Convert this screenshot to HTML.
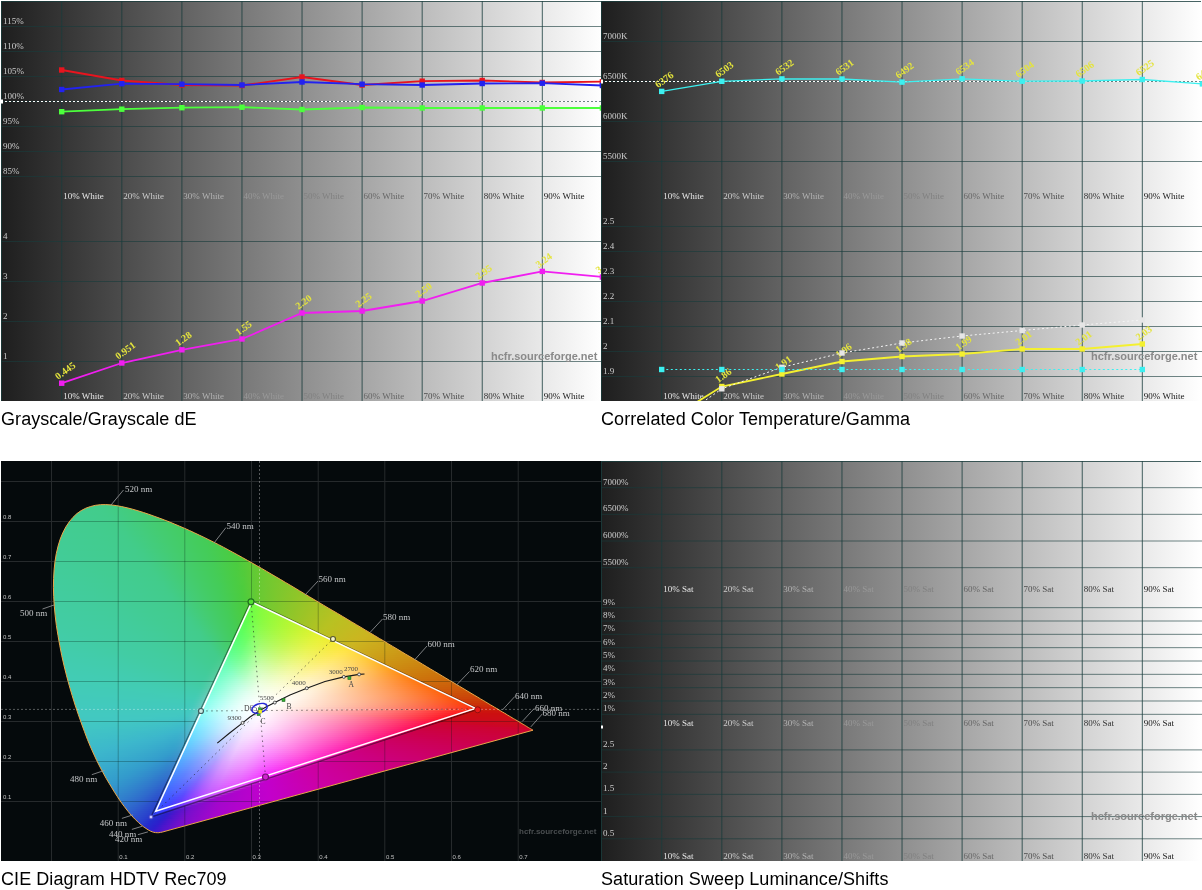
<!DOCTYPE html><html><head><meta charset="utf-8"><title>HCFR</title><style>
html,body{margin:0;padding:0;background:#fff}
body{width:1202px;height:890px;position:relative;overflow:hidden}
.ch{position:absolute;display:block}
.cap{position:absolute;font:18px 'Liberation Sans',sans-serif;color:#000;white-space:nowrap;line-height:20px;letter-spacing:0.07px}

.cie{background:#050a0c;overflow:hidden}
.lay{position:absolute;left:0;top:0;width:600px;height:400px}
.lay i{display:block;height:2px}
.cie svg{position:absolute;left:0;top:0}
</style></head><body>
<svg class="ch" style="left:1px;top:1px" width="601" height="400" viewBox="0 0 601 400" font-family="'Liberation Serif',serif" font-size="9"><defs><linearGradient id="g1" x1="0" x2="1" y1="0" y2="0"><stop offset="0" stop-color="#1e1e1e"/><stop offset="1" stop-color="#ffffff"/></linearGradient></defs><rect width="601" height="400" fill="url(#g1)"/><g fill="#193c3c" fill-opacity="0.8"><rect x="60.25" y="0" width="1" height="400"/><rect x="120.32" y="0" width="1" height="400"/><rect x="180.39" y="0" width="1" height="400"/><rect x="240.46" y="0" width="1" height="400"/><rect x="300.53" y="0" width="1" height="400"/><rect x="360.60" y="0" width="1" height="400"/><rect x="420.67" y="0" width="1" height="400"/><rect x="480.74" y="0" width="1" height="400"/><rect x="540.81" y="0" width="1" height="400"/><rect x="0" y="25.00" width="601" height="1" fill-opacity="0.62"/><rect x="0" y="50.00" width="601" height="1" fill-opacity="0.62"/><rect x="0" y="75.00" width="601" height="1" fill-opacity="0.62"/><rect x="0" y="100.00" width="601" height="1" fill-opacity="0.62"/><rect x="0" y="125.00" width="601" height="1" fill-opacity="0.62"/><rect x="0" y="150.00" width="601" height="1" fill-opacity="0.62"/><rect x="0" y="175.00" width="601" height="1" fill-opacity="0.62"/><rect x="0" y="240.00" width="601" height="1" fill-opacity="0.62"/><rect x="0" y="280.00" width="601" height="1" fill-opacity="0.62"/><rect x="0" y="320.00" width="601" height="1" fill-opacity="0.62"/><rect x="0" y="360.00" width="601" height="1" fill-opacity="0.62"/><rect x="0" y="0" width="600" height="1"/><rect x="0" y="0" width="1" height="400"/></g><line x1="0" y1="100.5" x2="600" y2="100.5" stroke="#fff" stroke-width="1" stroke-dasharray="2 2"/><rect x="0" y="98.5" width="2" height="4" fill="#fff"/><g fill="#cccccc"><text x="2" y="22.5">115%</text><text x="2" y="47.5">110%</text><text x="2" y="72.5">105%</text><text x="2" y="97.5">100%</text><text x="2" y="122.5">95%</text><text x="2" y="147.5">90%</text><text x="2" y="172.5">85%</text><text x="2" y="237.5">4</text><text x="2" y="277.5">3</text><text x="2" y="317.5">2</text><text x="2" y="357.5">1</text></g><text x="62.2" y="198" fill="#e6e6e6">10% White</text><text x="122.3" y="198" fill="#cccccc">20% White</text><text x="182.3" y="198" fill="#b2b2b2">30% White</text><text x="242.4" y="198" fill="#999999">40% White</text><text x="302.5" y="198" fill="#808080">50% White</text><text x="362.6" y="198" fill="#666666">60% White</text><text x="422.6" y="198" fill="#4d4d4d">70% White</text><text x="482.7" y="198" fill="#333333">80% White</text><text x="542.8" y="198" fill="#191919">90% White</text><text x="62.2" y="397.5" fill="#e6e6e6">10% White</text><text x="122.3" y="397.5" fill="#cccccc">20% White</text><text x="182.3" y="397.5" fill="#b2b2b2">30% White</text><text x="242.4" y="397.5" fill="#999999">40% White</text><text x="302.5" y="397.5" fill="#808080">50% White</text><text x="362.6" y="397.5" fill="#666666">60% White</text><text x="422.6" y="397.5" fill="#4d4d4d">70% White</text><text x="482.7" y="397.5" fill="#333333">80% White</text><text x="542.8" y="397.5" fill="#191919">90% White</text><polyline points="60.8,110.7 120.8,108.2 180.9,106.7 241.0,106.2 301.0,108.5 361.1,106.5 421.2,107.0 481.2,107.0 541.3,107.0 601.4,107.0" fill="none" stroke="#4cff3c" stroke-width="1.8"/><rect x="58.0" y="108.0" width="5.4" height="5.4" fill="#4cff3c"/><rect x="118.1" y="105.5" width="5.4" height="5.4" fill="#4cff3c"/><rect x="178.2" y="104.0" width="5.4" height="5.4" fill="#4cff3c"/><rect x="238.3" y="103.5" width="5.4" height="5.4" fill="#4cff3c"/><rect x="298.3" y="105.8" width="5.4" height="5.4" fill="#4cff3c"/><rect x="358.4" y="103.8" width="5.4" height="5.4" fill="#4cff3c"/><rect x="418.5" y="104.3" width="5.4" height="5.4" fill="#4cff3c"/><rect x="478.5" y="104.3" width="5.4" height="5.4" fill="#4cff3c"/><rect x="538.6" y="104.3" width="5.4" height="5.4" fill="#4cff3c"/><rect x="598.7" y="104.3" width="5.4" height="5.4" fill="#4cff3c"/><polyline points="60.8,69.0 120.8,79.5 180.9,84.0 241.0,84.5 301.0,76.0 361.1,84.0 421.2,80.2 481.2,79.5 541.3,81.5 601.4,80.7" fill="none" stroke="#e8141e" stroke-width="1.8"/><rect x="58.0" y="66.3" width="5.4" height="5.4" fill="#e8141e"/><rect x="118.1" y="76.8" width="5.4" height="5.4" fill="#e8141e"/><rect x="178.2" y="81.3" width="5.4" height="5.4" fill="#e8141e"/><rect x="238.3" y="81.8" width="5.4" height="5.4" fill="#e8141e"/><rect x="298.3" y="73.3" width="5.4" height="5.4" fill="#e8141e"/><rect x="358.4" y="81.3" width="5.4" height="5.4" fill="#e8141e"/><rect x="418.5" y="77.5" width="5.4" height="5.4" fill="#e8141e"/><rect x="478.5" y="76.8" width="5.4" height="5.4" fill="#e8141e"/><rect x="538.6" y="78.8" width="5.4" height="5.4" fill="#e8141e"/><rect x="598.7" y="78.0" width="5.4" height="5.4" fill="#e8141e"/><polyline points="60.8,88.5 120.8,82.7 180.9,83.2 241.0,84.0 301.0,81.0 361.1,83.2 421.2,84.0 481.2,82.5 541.3,82.2 601.4,84.5" fill="none" stroke="#2222f0" stroke-width="1.8"/><rect x="58.0" y="85.8" width="5.4" height="5.4" fill="#2222f0"/><rect x="118.1" y="80.0" width="5.4" height="5.4" fill="#2222f0"/><rect x="178.2" y="80.5" width="5.4" height="5.4" fill="#2222f0"/><rect x="238.3" y="81.3" width="5.4" height="5.4" fill="#2222f0"/><rect x="298.3" y="78.3" width="5.4" height="5.4" fill="#2222f0"/><rect x="358.4" y="80.5" width="5.4" height="5.4" fill="#2222f0"/><rect x="418.5" y="81.3" width="5.4" height="5.4" fill="#2222f0"/><rect x="478.5" y="79.8" width="5.4" height="5.4" fill="#2222f0"/><rect x="538.6" y="79.5" width="5.4" height="5.4" fill="#2222f0"/><rect x="598.7" y="81.8" width="5.4" height="5.4" fill="#2222f0"/><polyline points="60.8,382.2 120.8,362.0 180.9,348.8 241.0,338.0 301.0,312.0 361.1,310.0 421.2,300.0 481.2,282.0 541.3,270.4 601.4,276.0" fill="none" stroke="#f01ef0" stroke-width="1.8"/><rect x="58.0" y="379.5" width="5.4" height="5.4" fill="#f01ef0"/><rect x="118.1" y="359.3" width="5.4" height="5.4" fill="#f01ef0"/><rect x="178.2" y="346.1" width="5.4" height="5.4" fill="#f01ef0"/><rect x="238.3" y="335.3" width="5.4" height="5.4" fill="#f01ef0"/><rect x="298.3" y="309.3" width="5.4" height="5.4" fill="#f01ef0"/><rect x="358.4" y="307.3" width="5.4" height="5.4" fill="#f01ef0"/><rect x="418.5" y="297.3" width="5.4" height="5.4" fill="#f01ef0"/><rect x="478.5" y="279.3" width="5.4" height="5.4" fill="#f01ef0"/><rect x="538.6" y="267.7" width="5.4" height="5.4" fill="#f01ef0"/><rect x="598.7" y="273.3" width="5.4" height="5.4" fill="#f01ef0"/><text transform="translate(57.1,379.0) rotate(-36)" fill="#e4e43c" font-weight="bold" font-size="10">0.445</text><text transform="translate(117.2,358.8) rotate(-36)" fill="#e4e43c" font-weight="bold" font-size="10">0.951</text><text transform="translate(177.3,345.6) rotate(-36)" fill="#e4e43c" font-weight="bold" font-size="10">1.28</text><text transform="translate(237.4,334.8) rotate(-36)" fill="#e4e43c" font-weight="bold" font-size="10">1.55</text><text transform="translate(297.4,308.8) rotate(-36)" fill="#e4e43c" font-weight="bold" font-size="10">2.20</text><text transform="translate(357.5,306.8) rotate(-36)" fill="#e4e43c" font-weight="bold" font-size="10">2.25</text><text transform="translate(417.6,296.8) rotate(-36)" fill="#e4e43c" font-weight="bold" font-size="10">2.50</text><text transform="translate(477.6,278.8) rotate(-36)" fill="#e4e43c" font-weight="bold" font-size="10">2.95</text><text transform="translate(537.7,267.2) rotate(-36)" fill="#e4e43c" font-weight="bold" font-size="10">3.24</text><text transform="translate(597.8,272.8) rotate(-36)" fill="#e4e43c" font-weight="bold" font-size="10">3.10</text><text x="490" y="358.5" font-family="'Liberation Sans',sans-serif" font-weight="bold" font-size="11" fill="#8a8a8a">hcfr.sourceforge.net</text></svg>
<svg class="ch" style="left:601px;top:1px" width="601" height="400" viewBox="0 0 601 400" font-family="'Liberation Serif',serif" font-size="9"><defs><linearGradient id="g2" x1="0" x2="1" y1="0" y2="0"><stop offset="0" stop-color="#1e1e1e"/><stop offset="1" stop-color="#ffffff"/></linearGradient></defs><rect width="600" height="400" fill="url(#g2)"/><rect x="600" width="1" height="400" fill="#fff"/><g fill="#193c3c" fill-opacity="0.8"><rect x="60.25" y="0" width="1" height="400"/><rect x="120.32" y="0" width="1" height="400"/><rect x="180.39" y="0" width="1" height="400"/><rect x="240.46" y="0" width="1" height="400"/><rect x="300.53" y="0" width="1" height="400"/><rect x="360.60" y="0" width="1" height="400"/><rect x="420.67" y="0" width="1" height="400"/><rect x="480.74" y="0" width="1" height="400"/><rect x="540.81" y="0" width="1" height="400"/><rect x="0" y="40.00" width="601" height="1" fill-opacity="0.62"/><rect x="0" y="80.00" width="601" height="1" fill-opacity="0.62"/><rect x="0" y="120.00" width="601" height="1" fill-opacity="0.62"/><rect x="0" y="160.00" width="601" height="1" fill-opacity="0.62"/><rect x="0" y="225.00" width="601" height="1" fill-opacity="0.62"/><rect x="0" y="250.00" width="601" height="1" fill-opacity="0.62"/><rect x="0" y="275.00" width="601" height="1" fill-opacity="0.62"/><rect x="0" y="300.00" width="601" height="1" fill-opacity="0.62"/><rect x="0" y="325.00" width="601" height="1" fill-opacity="0.62"/><rect x="0" y="350.00" width="601" height="1" fill-opacity="0.62"/><rect x="0" y="375.00" width="601" height="1" fill-opacity="0.62"/><rect x="0" y="0" width="600" height="1"/><rect x="0" y="0" width="1" height="400"/></g><line x1="0" y1="80.5" x2="600" y2="80.5" stroke="#fff" stroke-width="1" stroke-dasharray="2 2"/><rect x="0" y="78.5" width="2" height="4" fill="#fff"/><g fill="#cccccc"><text x="2" y="37.5">7000K</text><text x="2" y="77.5">6500K</text><text x="2" y="117.5">6000K</text><text x="2" y="157.5">5500K</text><text x="2" y="222.5">2.5</text><text x="2" y="247.5">2.4</text><text x="2" y="272.5">2.3</text><text x="2" y="297.5">2.2</text><text x="2" y="322.5">2.1</text><text x="2" y="347.5">2</text><text x="2" y="372.5">1.9</text></g><text x="62.2" y="198" fill="#e6e6e6">10% White</text><text x="122.3" y="198" fill="#cccccc">20% White</text><text x="182.3" y="198" fill="#b2b2b2">30% White</text><text x="242.4" y="198" fill="#999999">40% White</text><text x="302.5" y="198" fill="#808080">50% White</text><text x="362.6" y="198" fill="#666666">60% White</text><text x="422.6" y="198" fill="#4d4d4d">70% White</text><text x="482.7" y="198" fill="#333333">80% White</text><text x="542.8" y="198" fill="#191919">90% White</text><text x="62.2" y="397.5" fill="#e6e6e6">10% White</text><text x="122.3" y="397.5" fill="#cccccc">20% White</text><text x="182.3" y="397.5" fill="#b2b2b2">30% White</text><text x="242.4" y="397.5" fill="#999999">40% White</text><text x="302.5" y="397.5" fill="#808080">50% White</text><text x="362.6" y="397.5" fill="#666666">60% White</text><text x="422.6" y="397.5" fill="#4d4d4d">70% White</text><text x="482.7" y="397.5" fill="#333333">80% White</text><text x="542.8" y="397.5" fill="#191919">90% White</text><polyline points="60.8,90.4 120.8,80.3 180.9,77.9 241.0,78.0 301.0,81.1 361.1,77.8 421.2,80.2 481.2,80.0 541.3,78.5 601.4,82.9" fill="none" stroke="#3cf0f0" stroke-width="1.3"/><rect x="58.0" y="87.7" width="5.4" height="5.4" fill="#3cf0f0"/><rect x="118.1" y="77.6" width="5.4" height="5.4" fill="#3cf0f0"/><rect x="178.2" y="75.2" width="5.4" height="5.4" fill="#3cf0f0"/><rect x="238.3" y="75.3" width="5.4" height="5.4" fill="#3cf0f0"/><rect x="298.3" y="78.4" width="5.4" height="5.4" fill="#3cf0f0"/><rect x="358.4" y="75.1" width="5.4" height="5.4" fill="#3cf0f0"/><rect x="418.5" y="77.5" width="5.4" height="5.4" fill="#3cf0f0"/><rect x="478.5" y="77.3" width="5.4" height="5.4" fill="#3cf0f0"/><rect x="538.6" y="75.8" width="5.4" height="5.4" fill="#3cf0f0"/><rect x="598.7" y="80.2" width="5.4" height="5.4" fill="#3cf0f0"/><text transform="translate(57.1,87.2) rotate(-36)" fill="#e4e43c" font-weight="bold" font-size="10">6376</text><text transform="translate(117.2,77.1) rotate(-36)" fill="#e4e43c" font-weight="bold" font-size="10">6503</text><text transform="translate(177.3,74.7) rotate(-36)" fill="#e4e43c" font-weight="bold" font-size="10">6532</text><text transform="translate(237.4,74.8) rotate(-36)" fill="#e4e43c" font-weight="bold" font-size="10">6531</text><text transform="translate(297.4,77.9) rotate(-36)" fill="#e4e43c" font-weight="bold" font-size="10">6492</text><text transform="translate(357.5,74.6) rotate(-36)" fill="#e4e43c" font-weight="bold" font-size="10">6534</text><text transform="translate(417.6,77.0) rotate(-36)" fill="#e4e43c" font-weight="bold" font-size="10">6504</text><text transform="translate(477.6,76.8) rotate(-36)" fill="#e4e43c" font-weight="bold" font-size="10">6506</text><text transform="translate(537.7,75.3) rotate(-36)" fill="#e4e43c" font-weight="bold" font-size="10">6525</text><text transform="translate(597.8,79.7) rotate(-36)" fill="#e4e43c" font-weight="bold" font-size="10">6470</text><polyline points="60.8,423.0 120.8,385.5 180.9,373.0 241.0,360.5 301.0,355.5 361.1,353.0 421.2,348.0 481.2,348.0 541.3,343.0" fill="none" stroke="#f4f030" stroke-width="1.8"/><rect x="58.0" y="420.3" width="5.4" height="5.4" fill="#f4f030"/><rect x="118.1" y="382.8" width="5.4" height="5.4" fill="#f4f030"/><rect x="178.2" y="370.3" width="5.4" height="5.4" fill="#f4f030"/><rect x="238.3" y="357.8" width="5.4" height="5.4" fill="#f4f030"/><rect x="298.3" y="352.8" width="5.4" height="5.4" fill="#f4f030"/><rect x="358.4" y="350.3" width="5.4" height="5.4" fill="#f4f030"/><rect x="418.5" y="345.3" width="5.4" height="5.4" fill="#f4f030"/><rect x="478.5" y="345.3" width="5.4" height="5.4" fill="#f4f030"/><rect x="538.6" y="340.3" width="5.4" height="5.4" fill="#f4f030"/><text transform="translate(117.2,382.3) rotate(-36)" fill="#e4e43c" font-weight="bold" font-size="10">1.86</text><text transform="translate(177.3,369.8) rotate(-36)" fill="#e4e43c" font-weight="bold" font-size="10">1.91</text><text transform="translate(237.4,357.3) rotate(-36)" fill="#e4e43c" font-weight="bold" font-size="10">1.96</text><text transform="translate(297.4,352.3) rotate(-36)" fill="#e4e43c" font-weight="bold" font-size="10">1.98</text><text transform="translate(357.5,349.8) rotate(-36)" fill="#e4e43c" font-weight="bold" font-size="10">1.99</text><text transform="translate(417.6,344.8) rotate(-36)" fill="#e4e43c" font-weight="bold" font-size="10">2.01</text><text transform="translate(477.6,344.8) rotate(-36)" fill="#e4e43c" font-weight="bold" font-size="10">2.01</text><text transform="translate(537.7,339.8) rotate(-36)" fill="#e4e43c" font-weight="bold" font-size="10">2.03</text><polyline points="60.8,430.0 120.8,387.8 180.9,366.3 241.0,352.0 301.0,342.0 361.1,335.0 421.2,329.5 481.2,324.0 541.3,319.0" fill="none" stroke="#f4f4f4" stroke-width="1" stroke-dasharray="2 2.5"/><rect x="58.0" y="427.3" width="5.4" height="5.4" fill="#e6e6e6"/><rect x="118.1" y="385.1" width="5.4" height="5.4" fill="#e6e6e6"/><rect x="178.2" y="363.6" width="5.4" height="5.4" fill="#e6e6e6"/><rect x="238.3" y="349.3" width="5.4" height="5.4" fill="#e6e6e6"/><rect x="298.3" y="339.3" width="5.4" height="5.4" fill="#e6e6e6"/><rect x="358.4" y="332.3" width="5.4" height="5.4" fill="#e6e6e6"/><rect x="418.5" y="326.8" width="5.4" height="5.4" fill="#e6e6e6"/><rect x="478.5" y="321.3" width="5.4" height="5.4" fill="#e6e6e6"/><rect x="538.6" y="316.3" width="5.4" height="5.4" fill="#e6e6e6"/><polyline points="60.8,368.5 120.8,368.5 180.9,368.5 241.0,368.5 301.0,368.5 361.1,368.5 421.2,368.5 481.2,368.5 541.3,368.5" fill="none" stroke="#3cf0f0" stroke-width="1" stroke-dasharray="2 2.5"/><rect x="58.0" y="365.8" width="5.4" height="5.4" fill="#3cf0f0"/><rect x="118.1" y="365.8" width="5.4" height="5.4" fill="#3cf0f0"/><rect x="178.2" y="365.8" width="5.4" height="5.4" fill="#3cf0f0"/><rect x="238.3" y="365.8" width="5.4" height="5.4" fill="#3cf0f0"/><rect x="298.3" y="365.8" width="5.4" height="5.4" fill="#3cf0f0"/><rect x="358.4" y="365.8" width="5.4" height="5.4" fill="#3cf0f0"/><rect x="418.5" y="365.8" width="5.4" height="5.4" fill="#3cf0f0"/><rect x="478.5" y="365.8" width="5.4" height="5.4" fill="#3cf0f0"/><rect x="538.6" y="365.8" width="5.4" height="5.4" fill="#3cf0f0"/><text x="490" y="358.5" font-family="'Liberation Sans',sans-serif" font-weight="bold" font-size="11" fill="#8a8a8a">hcfr.sourceforge.net</text></svg>
<div class="ch cie" style="left:1px;top:461px;width:600px;height:400px"><svg width="600" height="400" viewBox="0 0 600 400"><g fill="#262a2c"><rect x="50.0" y="0" width="1" height="400"/><rect x="116.7" y="0" width="1" height="400"/><rect x="183.3" y="0" width="1" height="400"/><rect x="250.0" y="0" width="1" height="400"/><rect x="316.7" y="0" width="1" height="400"/><rect x="383.3" y="0" width="1" height="400"/><rect x="450.0" y="0" width="1" height="400"/><rect x="516.7" y="0" width="1" height="400"/><rect x="0" y="340.0" width="600" height="1"/><rect x="0" y="300.0" width="600" height="1"/><rect x="0" y="260.0" width="600" height="1"/><rect x="0" y="220.0" width="600" height="1"/><rect x="0" y="180.0" width="600" height="1"/><rect x="0" y="140.0" width="600" height="1"/><rect x="0" y="100.0" width="600" height="1"/><rect x="0" y="60.0" width="600" height="1"/><rect x="0" y="20.0" width="600" height="1"/></g></svg><div class="lay" style="clip-path:polygon(161.2px 371.1px,159.5px 371.4px,157.8px 371.7px,156.2px 371.7px,154.5px 371.6px,152.8px 371.3px,151.2px 370.8px,149.6px 370.2px,148.0px 369.3px,147.0px 368.8px,146.0px 368.1px,144.9px 367.4px,143.9px 366.7px,142.7px 365.9px,141.6px 365.0px,140.3px 364.0px,139.0px 362.9px,137.6px 361.6px,136.1px 360.2px,134.4px 358.6px,132.7px 356.9px,131.0px 355.0px,129.1px 352.9px,127.2px 350.6px,125.2px 348.0px,123.1px 345.3px,120.8px 342.2px,118.5px 338.9px,116.1px 335.2px,113.5px 331.2px,110.9px 326.9px,108.1px 322.3px,105.1px 317.3px,102.1px 311.8px,99.0px 306.0px,95.8px 299.7px,92.7px 293.0px,89.5px 285.9px,86.4px 278.4px,83.4px 270.4px,80.3px 262.0px,77.2px 253.2px,74.1px 244.0px,71.2px 234.6px,68.3px 224.8px,65.6px 214.9px,63.1px 204.9px,60.8px 194.8px,58.8px 184.7px,57.0px 174.6px,55.4px 164.6px,54.2px 154.8px,53.3px 145.2px,52.7px 135.7px,52.4px 126.4px,52.6px 117.4px,53.1px 108.7px,54.0px 100.4px,55.3px 92.5px,57.1px 85.0px,59.2px 78.1px,61.8px 71.8px,64.8px 66.0px,68.2px 60.9px,71.9px 56.4px,75.9px 52.6px,80.2px 49.6px,84.8px 47.2px,89.6px 45.5px,94.5px 44.3px,99.5px 43.7px,104.7px 43.6px,110.0px 43.9px,115.3px 44.6px,120.7px 45.6px,126.1px 46.8px,131.6px 48.2px,137.0px 49.8px,142.5px 51.5px,147.8px 53.3px,153.1px 55.2px,158.4px 57.1px,163.5px 59.0px,168.6px 61.0px,173.6px 63.1px,178.6px 65.2px,183.5px 67.3px,188.5px 69.5px,193.4px 71.8px,198.2px 74.1px,203.1px 76.4px,207.9px 78.8px,212.8px 81.2px,217.6px 83.7px,222.4px 86.2px,227.2px 88.8px,232.0px 91.4px,236.8px 94.0px,241.5px 96.6px,246.3px 99.3px,251.1px 102.0px,255.8px 104.7px,260.6px 107.4px,265.4px 110.2px,270.1px 113.0px,274.9px 115.8px,279.7px 118.6px,284.4px 121.4px,289.2px 124.2px,294.0px 127.1px,298.7px 129.9px,303.5px 132.8px,308.3px 135.7px,313.0px 138.5px,317.8px 141.4px,322.5px 144.2px,327.2px 147.0px,331.9px 149.7px,336.7px 152.5px,341.4px 155.3px,346.0px 158.1px,350.7px 160.9px,355.4px 163.7px,360.0px 166.4px,364.6px 169.2px,369.2px 171.9px,373.7px 174.6px,378.3px 177.4px,382.8px 180.0px,387.2px 182.7px,391.7px 185.4px,396.1px 188.0px,400.4px 190.6px,404.7px 193.2px,409.0px 195.7px,413.2px 198.2px,417.4px 200.7px,421.5px 203.2px,425.5px 205.6px,429.5px 208.0px,433.4px 210.3px,437.3px 212.6px,441.1px 214.9px,444.8px 217.1px,448.4px 219.3px,452.0px 221.4px,455.4px 223.4px,458.7px 225.4px,461.9px 227.3px,465.0px 229.2px,468.0px 231.0px,471.0px 232.8px,473.9px 234.5px,476.8px 236.2px,479.5px 237.9px,482.2px 239.4px,484.7px 240.9px,487.1px 242.4px,489.4px 243.8px,491.7px 245.1px,493.8px 246.4px,495.9px 247.6px,497.9px 248.8px,499.8px 250.0px,501.6px 251.1px,503.4px 252.1px,505.1px 253.1px,506.6px 254.1px,508.2px 255.0px,509.6px 255.8px,511.0px 256.7px,512.3px 257.5px,513.6px 258.2px,514.8px 258.9px,516.0px 259.6px,517.1px 260.3px,518.1px 260.9px,519.1px 261.5px,520.1px 262.1px,521.0px 262.6px,521.9px 263.2px,522.8px 263.7px,523.7px 264.2px,524.5px 264.7px,525.3px 265.2px,526.0px 265.6px,526.7px 266.1px,527.4px 266.5px,528.1px 266.9px,528.7px 267.3px,529.4px 267.6px,529.9px 268.0px,530.5px 268.3px,531.0px 268.6px,531.5px 268.9px,532.0px 269.2px)"><i style="height:42px"></i><i style="margin-left:95px;width:17px;background:linear-gradient(90deg,#42cc8b 0px,#42cc88 8px,#42cc84 16px,#42cc84 17px)"></i><i style="margin-left:87px;width:37px;background:linear-gradient(90deg,#42cc8d 0px,#42cc8b 8px,#42cc89 16px,#42cc85 24px,#42cc81 32px,#43cc7e 37px)"></i><i style="margin-left:82px;width:50px;background:linear-gradient(90deg,#42cc8e 0px,#42cc8c 8px,#42cc8b 16px,#42cc88 24px,#42cc84 32px,#43cc80 40px,#43cc7b 48px,#43cc7a 50px)"></i><i style="margin-left:78px;width:61px;background:linear-gradient(90deg,#42cc8e 0px,#42cc8d 8px,#42cc8c 16px,#42cc8b 24px,#42cc87 32px,#42cc83 40px,#43cc7e 48px,#43cc79 56px,#43cc76 61px)"></i><i style="margin-left:75px;width:70px;background:linear-gradient(90deg,#42cc8f 0px,#42cc8e 8px,#42cc8d 16px,#42cc8c 24px,#42cc89 32px,#42cc85 40px,#42cc81 48px,#43cc7c 56px,#43cc77 64px,#44cc74 70px)"></i><i style="margin-left:73px;width:78px;background:linear-gradient(90deg,#42cc90 0px,#42cc8f 8px,#42cc8d 16px,#42cc8c 24px,#42cc8b 32px,#42cc87 40px,#42cc83 48px,#43cc7e 56px,#43cc79 64px,#44cc74 72px,#44cc71 78px)"></i><i style="margin-left:71px;width:86px;background:linear-gradient(90deg,#42cc90 0px,#42cc8f 8px,#42cc8e 16px,#42cc8d 24px,#42cc8b 32px,#42cc89 40px,#42cc85 48px,#43cc80 56px,#43cc7b 64px,#43cc76 72px,#44cc71 80px,#44cc6e 86px)"></i><i style="margin-left:69px;width:93px;background:linear-gradient(90deg,#42cc91 0px,#42cc90 8px,#42cc8f 16px,#42cc8d 24px,#42cc8c 32px,#42cc8b 40px,#42cc87 48px,#42cc82 56px,#43cc7d 64px,#43cc78 72px,#44cc73 80px,#44cc6e 88px,#44cc6b 93px)"></i><i style="margin-left:67px;width:100px;background:linear-gradient(90deg,#42cc91 0px,#42cc90 8px,#42cc8f 16px,#42cc8e 24px,#42cc8d 32px,#42cc8b 40px,#42cc88 48px,#42cc84 56px,#43cc7f 64px,#43cc7a 72px,#44cc75 80px,#44cc70 88px,#44cc6b 96px,#44cc69 100px)"></i><i style="margin-left:66px;width:106px;background:linear-gradient(90deg,#42cc91 0px,#42cc90 8px,#42cc8f 16px,#42cc8e 24px,#42cc8d 32px,#42cc8c 40px,#42cc8a 48px,#42cc85 56px,#42cc81 64px,#43cc7c 72px,#43cc77 80px,#44cc71 88px,#44cc6d 96px,#44cc68 104px,#44cc67 106px)"></i><i style="margin-left:65px;width:112px;background:linear-gradient(90deg,#42cc92 0px,#42cc91 8px,#42cc90 16px,#42cc8f 24px,#42cc8e 32px,#42cc8c 40px,#42cc8b 48px,#42cc87 56px,#42cc82 64px,#43cc7d 72px,#43cc78 80px,#44cc73 88px,#44cc6e 96px,#44cc69 104px,#44cc64 112px)"></i><i style="margin-left:63px;width:119px;background:linear-gradient(90deg,#42cc92 0px,#42cc91 8px,#42cc90 16px,#42cc8f 24px,#42cc8e 32px,#42cc8d 40px,#42cc8b 48px,#42cc89 56px,#42cc84 64px,#43cc7f 72px,#43cc7a 80px,#44cc75 88px,#44cc70 96px,#44cc6b 104px,#44cc66 112px,#44cc62 119px)"></i><i style="margin-left:62px;width:125px;background:linear-gradient(90deg,#42cc92 0px,#42cc92 8px,#42cc91 16px,#42cc90 24px,#42cc8f 32px,#42cc8d 40px,#42cc8c 48px,#42cc8a 56px,#42cc86 64px,#42cc81 72px,#43cc7c 80px,#43cc76 88px,#44cc71 96px,#44cc6c 104px,#44cc67 112px,#44cc62 120px,#44cc5f 125px)"></i><i style="margin-left:61px;width:130px;background:linear-gradient(90deg,#42cc93 0px,#42cc92 8px,#42cc91 16px,#42cc90 24px,#42cc8f 32px,#42cc8e 40px,#42cc8c 48px,#42cc8b 56px,#42cc87 64px,#42cc82 72px,#43cc7d 80px,#43cc78 88px,#44cc72 96px,#44cc6d 104px,#44cc68 112px,#44cc64 120px,#44cc5f 128px,#44cc5e 130px)"></i><i style="margin-left:60px;width:135px;background:linear-gradient(90deg,#42cc93 0px,#42cc92 8px,#42cc91 16px,#42cc90 24px,#42cc8f 32px,#42cc8e 40px,#42cc8d 48px,#42cc8b 56px,#42cc89 64px,#42cc84 72px,#43cc7f 80px,#43cc79 88px,#44cc74 96px,#44cc6f 104px,#44cc6a 112px,#44cc65 120px,#44cc60 128px,#44cc5c 135px)"></i><i style="margin-left:59px;width:141px;background:linear-gradient(90deg,#42cc93 0px,#42cc93 8px,#42cc92 16px,#42cc91 24px,#42cc90 32px,#42cc8f 40px,#42cc8d 48px,#42cc8c 56px,#42cc8a 64px,#42cc85 72px,#43cc80 80px,#43cc7b 88px,#44cc75 96px,#44cc70 104px,#44cc6b 112px,#44cc66 120px,#44cc61 128px,#44cc5c 136px,#44cc59 141px)"></i><i style="margin-left:59px;width:145px;background:linear-gradient(90deg,#42cc94 0px,#42cc93 8px,#42cc92 16px,#42cc91 24px,#42cc90 32px,#42cc8f 40px,#42cc8e 48px,#42cc8c 56px,#42cc8b 64px,#42cc86 72px,#42cc81 80px,#43cc7c 88px,#43cc76 96px,#44cc71 104px,#44cc6c 112px,#44cc66 120px,#44cc61 128px,#44cc5d 136px,#44cc58 144px,#44cc57 145px)"></i><i style="margin-left:58px;width:150px;background:linear-gradient(90deg,#42cc94 0px,#42cc93 8px,#42cc92 16px,#42cc91 24px,#42cc90 32px,#42cc8f 40px,#42cc8e 48px,#42cc8d 56px,#42cc8b 64px,#42cc88 72px,#42cc83 80px,#43cc7d 88px,#43cc78 96px,#44cc72 104px,#44cc6d 112px,#44cc68 120px,#44cc63 128px,#44cc5e 136px,#44cc59 144px,#45cc54 150px)"></i><i style="margin-left:57px;width:155px;background:linear-gradient(90deg,#42cc95 0px,#42cc94 8px,#42cc93 16px,#42cc92 24px,#42cc91 32px,#42cc90 40px,#42cc8e 48px,#42cc8d 56px,#42cc8c 64px,#42cc89 72px,#42cc84 80px,#43cc7f 88px,#43cc79 96px,#44cc74 104px,#44cc6e 112px,#44cc69 120px,#44cc64 128px,#44cc5f 136px,#44cc5a 144px,#45cc53 152px,#46cc51 155px)"></i><i style="margin-left:57px;width:159px;background:linear-gradient(90deg,#42cc95 0px,#42cc94 8px,#42cc93 16px,#42cc92 24px,#42cc91 32px,#42cc90 40px,#42cc8f 48px,#42cc8d 56px,#42cc8c 64px,#42cc8a 72px,#42cc85 80px,#43cc80 88px,#43cc7a 96px,#44cc74 104px,#44cc6f 112px,#44cc6a 120px,#44cc64 128px,#44cc5f 136px,#44cc5a 144px,#45cc54 152px,#47cc4d 159px)"></i><i style="margin-left:56px;width:164px;background:linear-gradient(90deg,#42cc95 0px,#42cc94 8px,#42cc93 16px,#42cc92 24px,#42cc91 32px,#42cc90 40px,#42cc8f 48px,#42cc8e 56px,#42cc8c 64px,#42cc8b 72px,#42cc87 80px,#42cc81 88px,#43cc7c 96px,#43cc76 104px,#44cc70 112px,#44cc6b 120px,#44cc66 128px,#44cc60 136px,#44cc5b 144px,#45cc55 152px,#47cc4e 160px,#48cc4a 164px)"></i><i style="margin-left:55px;width:168px;background:linear-gradient(90deg,#42cc96 0px,#42cc95 8px,#42cc94 16px,#42cc93 24px,#42cc92 32px,#42cc91 40px,#42cc90 48px,#42cc8e 56px,#42cc8d 64px,#42cc8b 72px,#42cc88 80px,#42cc83 88px,#43cc7d 96px,#43cc78 104px,#44cc72 112px,#44cc6c 120px,#44cc67 128px,#44cc62 136px,#44cc5c 144px,#44cc57 152px,#47cc4f 160px,#49cc48 168px)"></i><i style="margin-left:55px;width:172px;background:linear-gradient(90deg,#42cc96 0px,#42cc95 8px,#42cc94 16px,#42cc93 24px,#42cc92 32px,#42cc91 40px,#42cc90 48px,#42cc8f 56px,#42cc8d 64px,#42cc8c 72px,#42cc89 80px,#42cc84 88px,#43cc7e 96px,#43cc78 104px,#44cc73 112px,#44cc6d 120px,#44cc67 128px,#44cc62 136px,#44cc5d 144px,#44cc58 152px,#46cc50 160px,#49cc49 168px,#4acc45 172px)"></i><i style="margin-left:54px;width:177px;background:linear-gradient(90deg,#42cc97 0px,#42cc96 8px,#42cc94 16px,#42cc93 24px,#42cc92 32px,#42cc91 40px,#42cc90 48px,#42cc8f 56px,#42cc8e 64px,#42cc8c 72px,#42cc8b 80px,#42cc86 88px,#43cc80 96px,#43cc7a 104px,#44cc74 112px,#44cc6e 120px,#44cc69 128px,#44cc63 136px,#44cc5e 144px,#44cc59 152px,#46cc51 160px,#48cc4a 168px,#4acc43 176px,#4bcc42 177px)"></i><i style="margin-left:54px;width:181px;background:linear-gradient(90deg,#42cc97 0px,#42cc96 8px,#42cc95 16px,#42cc94 24px,#42cc93 32px,#42cc92 40px,#42cc91 48px,#42cc8f 56px,#42cc8e 64px,#42cc8d 72px,#42cc8b 80px,#42cc87 88px,#42cc81 96px,#43cc7b 104px,#44cc75 112px,#44cc6f 120px,#44cc69 128px,#44cc64 136px,#44cc5e 144px,#44cc59 152px,#46cc52 160px,#48cc4a 168px,#4acc43 176px,#4ccc3f 181px)"></i><i style="margin-left:54px;width:184px;background:linear-gradient(90deg,#42cc97 0px,#42cc96 8px,#42cc95 16px,#42cc94 24px,#42cc93 32px,#42cc92 40px,#42cc91 48px,#42cc90 56px,#42cc8e 64px,#42cc8d 72px,#42cc8b 80px,#42cc88 88px,#42cc82 96px,#43cc7c 104px,#43cc76 112px,#44cc70 120px,#44cc6a 128px,#44cc65 136px,#44cc5f 144px,#44cc5a 152px,#46cc52 160px,#48cc4b 168px,#4acc43 176px,#4ecc3d 184px)"></i><i style="margin-left:53px;width:189px;background:linear-gradient(90deg,#42cc98 0px,#42cc97 8px,#42cc96 16px,#42cc94 24px,#42cc93 32px,#42cc92 40px,#42cc91 48px,#42cc90 56px,#42cc8f 64px,#42cc8d 72px,#42cc8c 80px,#42cc89 88px,#42cc84 96px,#43cc7e 104px,#43cc78 112px,#44cc71 120px,#44cc6c 128px,#44cc66 136px,#44cc60 144px,#44cc5b 152px,#45cc54 160px,#48cc4c 168px,#4acc45 176px,#4ccc3e 184px,#54cb3b 189px)"></i><i style="margin-left:53px;width:193px;background:linear-gradient(90deg,#42cc98 0px,#42cc97 8px,#42cc96 16px,#42cc95 24px,#42cc94 32px,#42cc93 40px,#42cc92 48px,#42cc91 56px,#42cc8f 64px,#42cc8e 72px,#42cc8c 80px,#42cc8a 88px,#42cc85 96px,#43cc7f 104px,#43cc79 112px,#44cc72 120px,#44cc6c 128px,#44cc66 136px,#44cc61 144px,#44cc5b 152px,#45cc55 160px,#47cc4d 168px,#4acc45 176px,#4ccc3e 184px,#58cb39 192px,#59cb38 193px)"></i><i style="margin-left:53px;width:196px;background:linear-gradient(90deg,#42cc99 0px,#42cc98 8px,#42cc96 16px,#42cc95 24px,#42cc94 32px,#42cc93 40px,#42cc92 48px,#42cc91 56px,#42cc90 64px,#42cc8e 72px,#42cc8d 80px,#42cc8b 88px,#42cc86 96px,#43cc80 104px,#43cc7a 112px,#44cc73 120px,#44cc6d 128px,#44cc67 136px,#44cc61 144px,#44cc5c 152px,#45cc55 160px,#47cc4d 168px,#4acc45 176px,#4ccc3e 184px,#57cb39 192px,#5dca37 196px)"></i><i style="margin-left:52px;width:201px;background:linear-gradient(90deg,#42cc99 0px,#42cc98 8px,#42cc97 16px,#42cc96 24px,#42cc94 32px,#42cc93 40px,#42cc92 48px,#42cc91 56px,#42cc90 64px,#42cc8f 72px,#42cc8d 80px,#42cc8b 88px,#42cc88 96px,#42cc82 104px,#43cc7b 112px,#44cc75 120px,#44cc6f 128px,#44cc69 136px,#44cc63 144px,#44cc5d 152px,#44cc57 160px,#47cc4f 168px,#49cc47 176px,#4ccc3f 184px,#56cb3a 192px,#61ca35 200px,#63ca35 201px)"></i><i style="margin-left:52px;width:204px;background:linear-gradient(90deg,#42cc9a 0px,#42cc98 8px,#42cc97 16px,#42cc96 24px,#42cc95 32px,#42cc94 40px,#42cc93 48px,#42cc92 56px,#42cc90 64px,#42cc8f 72px,#42cc8d 80px,#42cc8c 88px,#42cc89 96px,#42cc83 104px,#43cc7c 112px,#43cc76 120px,#44cc6f 128px,#44cc69 136px,#44cc63 144px,#44cc5d 152px,#44cc58 160px,#47cc4f 168px,#49cc47 176px,#4bcc3f 184px,#55cb3a 192px,#61ca35 200px,#67ca33 204px)"></i><i style="margin-left:52px;width:208px;background:linear-gradient(90deg,#42cc9a 0px,#42cc99 8px,#42cc98 16px,#42cc97 24px,#42cc95 32px,#42cc94 40px,#42cc93 48px,#42cc92 56px,#42cc91 64px,#42cc8f 72px,#42cc8e 80px,#42cc8c 88px,#42cc8a 96px,#42cc84 104px,#43cc7d 112px,#43cc77 120px,#44cc70 128px,#44cc6a 136px,#44cc64 144px,#44cc5e 152px,#44cc58 160px,#47cc50 168px,#49cc47 176px,#4bcc40 184px,#55cb3a 192px,#61ca35 200px,#6ac932 208px)"></i><i style="margin-left:52px;width:211px;background:linear-gradient(90deg,#42cc9a 0px,#42cc99 8px,#42cc98 16px,#42cc97 24px,#42cc96 32px,#42cc94 40px,#42cc93 48px,#42cc92 56px,#42cc91 64px,#42cc90 72px,#42cc8e 80px,#42cc8c 88px,#42cc8b 96px,#42cc85 104px,#43cc7f 112px,#43cc78 120px,#44cc71 128px,#44cc6b 136px,#44cc65 144px,#44cc5f 152px,#44cc59 160px,#46cc50 168px,#49cc48 176px,#4bcc40 184px,#55cb3a 192px,#61ca35 200px,#6ac932 208px,#6dc931 211px)"></i><i style="margin-left:52px;width:215px;background:linear-gradient(90deg,#42cc9b 0px,#42cc9a 8px,#42cc99 16px,#42cc97 24px,#42cc96 32px,#42cc95 40px,#42cc93 48px,#42cc92 56px,#42cc91 64px,#42cc90 72px,#42cc8f 80px,#42cc8d 88px,#42cc8b 96px,#42cc86 104px,#43cc80 112px,#43cc79 120px,#44cc72 128px,#44cc6c 136px,#44cc65 144px,#44cc5f 152px,#44cc59 160px,#46cc51 168px,#49cc48 176px,#4bcc40 184px,#54cb3a 192px,#61ca35 200px,#6ac932 208px,#71c931 215px)"></i><i style="margin-left:51px;width:219px;background:linear-gradient(90deg,#42cc9b 0px,#42cc9a 8px,#42cc99 16px,#42cc98 24px,#42cc97 32px,#42cc95 40px,#42cc94 48px,#42cc93 56px,#42cc92 64px,#42cc90 72px,#42cc8f 80px,#42cc8d 88px,#42cc8c 96px,#42cc88 104px,#42cc82 112px,#43cc7b 120px,#44cc74 128px,#44cc6d 136px,#44cc67 144px,#44cc61 152px,#44cc5a 160px,#46cc53 168px,#48cc4a 176px,#4bcc42 184px,#52cb3b 192px,#5fca36 200px,#69c932 208px,#71c931 216px,#74c830 219px)"></i><i style="margin-left:51px;width:222px;background:linear-gradient(90deg,#42cc9b 0px,#42cc9a 8px,#42cc99 16px,#42cc98 24px,#42cc97 32px,#42cc96 40px,#42cc94 48px,#42cc93 56px,#42cc92 64px,#42cc91 72px,#42cc8f 80px,#42cc8e 88px,#42cc8c 96px,#42cc89 104px,#42cc83 112px,#43cc7c 120px,#44cc75 128px,#44cc6e 136px,#44cc68 144px,#44cc61 152px,#44cc5b 160px,#45cc53 168px,#48cc4a 176px,#4bcc42 184px,#52cb3b 192px,#5fca36 200px,#69c932 208px,#71c930 216px,#77c82f 222px)"></i><i style="margin-left:51px;width:226px;background:linear-gradient(90deg,#42cc9c 0px,#42cc9b 8px,#42cc9a 16px,#42cc99 24px,#42cc97 32px,#42cc96 40px,#42cc95 48px,#42cc93 56px,#42cc92 64px,#42cc91 72px,#42cc90 80px,#42cc8e 88px,#42cc8c 96px,#42cc8a 104px,#42cc84 112px,#43cc7d 120px,#43cc76 128px,#44cc6f 136px,#44cc68 144px,#44cc62 152px,#44cc5b 160px,#45cc54 168px,#48cc4b 176px,#4bcc42 184px,#52cb3b 192px,#5fca36 200px,#69c932 208px,#71c930 216px,#79c82f 224px,#7bc82e 226px)"></i><i style="margin-left:51px;width:229px;background:linear-gradient(90deg,#42cc9c 0px,#42cc9b 8px,#42cc9a 16px,#42cc99 24px,#42cc98 32px,#42cc97 40px,#42cc95 48px,#42cc94 56px,#42cc93 64px,#42cc91 72px,#42cc90 80px,#42cc8f 88px,#42cc8d 96px,#42cc8b 104px,#42cc85 112px,#43cc7e 120px,#43cc77 128px,#44cc70 136px,#44cc69 144px,#44cc63 152px,#44cc5c 160px,#45cc55 168px,#48cc4b 176px,#4acc43 184px,#51cc3c 192px,#5eca36 200px,#69c932 208px,#72c930 216px,#79c82f 224px,#7ec72d 229px)"></i><i style="margin-left:51px;width:233px;background:linear-gradient(90deg,#42cc9c 0px,#42cc9c 8px,#42cc9b 16px,#42cc99 24px,#42cc98 32px,#42cc97 40px,#42cc96 48px,#42cc94 56px,#42cc93 64px,#42cc92 72px,#42cc90 80px,#42cc8f 88px,#42cc8d 96px,#42cc8b 104px,#42cc86 112px,#43cc7f 120px,#43cc78 128px,#44cc71 136px,#44cc6a 144px,#44cc63 152px,#44cc5d 160px,#45cc55 168px,#48cc4c 176px,#4acc43 184px,#51cc3c 192px,#5eca36 200px,#69c932 208px,#72c930 216px,#79c82e 224px,#80c72d 232px,#81c72c 233px)"></i><i style="margin-left:51px;width:236px;background:linear-gradient(90deg,#42cc9d 0px,#42cc9c 8px,#42cc9b 16px,#42cc9a 24px,#42cc99 32px,#42cc97 40px,#42cc96 48px,#42cc94 56px,#42cc93 64px,#42cc92 72px,#42cc91 80px,#42cc8f 88px,#42cc8e 96px,#42cc8c 104px,#42cc88 112px,#42cc81 120px,#43cc79 128px,#44cc72 136px,#44cc6b 144px,#44cc64 152px,#44cc5d 160px,#45cc56 168px,#47cc4c 176px,#4acc44 184px,#50cc3c 192px,#56cb3a 195px,#5bcb38 198px,#60ca36 201px,#65ca34 204px,#6ec931 212px,#76c82f 220px,#7dc72d 228px,#84c72c 236px)"></i><i style="margin-left:51px;width:239px;background:linear-gradient(90deg,#42cc9d 0px,#42cc9c 8px,#42cc9b 16px,#42cc9a 24px,#42cc99 32px,#42cc98 40px,#42cc97 48px,#42cc95 56px,#42cc94 64px,#42cc92 72px,#42cc91 80px,#42cc90 88px,#42cc8e 96px,#42cc8c 104px,#42cc89 112px,#42cc82 120px,#43cc7b 128px,#44cc73 136px,#44cc6c 144px,#44cc65 152px,#44cc5e 160px,#44cc57 168px,#47cc4d 176px,#4acc44 184px,#50cc3c 192px,#55cb3a 195px,#5acb38 198px,#60ca36 201px,#64ca34 204px,#68c933 207px,#6cc932 210px,#74c830 218px,#7cc82e 226px,#83c72c 234px,#87c62b 239px)"></i><i style="margin-left:51px;width:243px;background:linear-gradient(90deg,#42cc9e 0px,#42cc9d 8px,#42cc9c 16px,#42cc9b 24px,#42cc9a 32px,#42cc98 40px,#42cc97 48px,#42cc95 56px,#42cc94 64px,#42cc93 72px,#42cc92 80px,#42cc90 88px,#42cc8e 96px,#42cc8d 104px,#42cc8a 112px,#42cc83 120px,#43cc7c 128px,#44cc74 136px,#44cc6d 144px,#44cc65 152px,#44cc5e 160px,#44cc58 168px,#47cc4e 176px,#4acc44 184px,#4bcc41 187px,#4ccc3e 190px,#51cc3c 193px,#57cb39 196px,#5ccb37 199px,#61ca35 202px,#66ca33 205px,#6ac932 208px,#6dc932 211px,#70c931 214px,#78c82f 222px,#80c72d 230px,#87c62b 238px,#8bc62a 243px)"></i><i style="margin-left:51px;width:246px;background:linear-gradient(90deg,#42cc9e 0px,#42cc9d 8px,#42cc9c 16px,#42cc9b 24px,#42cc9a 32px,#42cc99 40px,#42cc97 48px,#42cc96 56px,#42cc94 64px,#42cc93 72px,#42cc92 80px,#42cc90 88px,#42cc8f 96px,#42cc8d 104px,#42cc8b 112px,#42cc84 120px,#43cc7d 128px,#44cc75 136px,#44cc6e 144px,#44cc66 152px,#44cc5f 160px,#44cc58 168px,#47cc4e 176px,#4acc45 184px,#4bcc41 187px,#4ccc3e 190px,#51cc3c 193px,#56cb3a 196px,#5ccb37 199px,#61ca35 202px,#66ca33 205px,#6ac932 208px,#6dc932 211px,#70c931 214px,#73c830 217px,#7bc82e 225px,#83c72c 233px,#8ac62a 241px,#8ec629 246px)"></i><i style="margin-left:51px;width:249px;background:linear-gradient(90deg,#42cc9e 0px,#42cc9d 8px,#42cc9c 16px,#42cc9b 24px,#42cc9a 32px,#42cc99 40px,#42cc98 48px,#42cc96 56px,#42cc95 64px,#42cc93 72px,#42cc92 80px,#42cc91 88px,#42cc8f 96px,#42cc8d 104px,#42cc8b 112px,#42cc86 120px,#43cc7e 128px,#43cc76 136px,#44cc6f 144px,#44cc67 152px,#44cc60 160px,#44cc59 168px,#47cc4f 176px,#4acc45 184px,#4bcc42 187px,#4ccc3e 190px,#50cc3c 193px,#56cb3a 196px,#5bcb38 199px,#61ca35 202px,#66ca33 205px,#6ac932 208px,#6dc932 211px,#70c931 214px,#73c830 217px,#77c82f 220px,#7ac82e 223px,#81c72c 231px,#88c62b 239px,#8fc629 247px,#91c629 249px)"></i><i style="margin-left:51px;width:253px;background:linear-gradient(90deg,#42cc9f 0px,#42cc9e 8px,#42cc9d 16px,#42cc9c 24px,#42cc9b 32px,#42cc9a 40px,#42cc98 48px,#42cc97 56px,#42cc95 64px,#42cc94 72px,#42cc93 80px,#42cc91 88px,#42cc90 96px,#42cc8e 104px,#42cc8c 112px,#42cc87 120px,#43cc80 128px,#43cc78 136px,#44cc70 144px,#44cc68 152px,#44cc61 160px,#44cc59 168px,#47cc50 176px,#4acc46 184px,#4bcc42 187px,#4ccc3f 190px,#50cc3c 193px,#56cb3a 196px,#5bcb38 199px,#61ca35 202px,#66ca33 205px,#6ac932 208px,#6dc932 211px,#70c931 214px,#74c830 217px,#77c82f 220px,#7ac82e 223px,#7dc72e 226px,#84c72c 234px,#8cc62a 242px,#92c528 250px,#95c528 253px)"></i><i style="margin-left:51px;width:256px;background:linear-gradient(90deg,#42cc9f 0px,#42cc9e 8px,#42cc9d 16px,#42cc9c 24px,#42cc9b 32px,#42cc9a 40px,#42cc99 48px,#42cc97 56px,#42cc96 64px,#42cc94 72px,#42cc93 80px,#42cc92 88px,#42cc90 96px,#42cc8e 104px,#42cc8c 112px,#42cc89 120px,#42cc81 128px,#43cc79 136px,#44cc71 144px,#44cc69 152px,#44cc61 160px,#44cc5a 168px,#46cc50 176px,#49cc46 184px,#4acc43 187px,#4ccc3f 190px,#4fcc3c 193px,#55cb3a 196px,#5bcb38 199px,#60ca36 202px,#66ca33 205px,#6ac932 208px,#6dc932 211px,#70c931 214px,#74c830 217px,#77c82f 220px,#7ac82e 223px,#7dc72e 226px,#80c72d 229px,#88c62b 237px,#8fc629 245px,#95c528 253px,#98c527 256px)"></i><i style="margin-left:51px;width:259px;background:linear-gradient(90deg,#42cc9f 0px,#42cc9e 8px,#42cc9e 16px,#42cc9d 24px,#42cc9c 32px,#42cc9b 40px,#42cc99 48px,#42cc98 56px,#42cc96 64px,#42cc95 72px,#42cc93 80px,#42cc92 88px,#42cc90 96px,#42cc8f 104px,#42cc8d 112px,#42cc8a 120px,#42cc82 128px,#43cc7a 136px,#44cc72 144px,#44cc6a 152px,#44cc62 160px,#44cc5b 168px,#46cc51 176px,#49cc47 184px,#4acc43 187px,#4bcc3f 190px,#4fcc3c 193px,#55cb3a 196px,#5bcb38 199px,#60ca36 202px,#66ca33 205px,#6ac932 208px,#6dc932 211px,#71c931 214px,#74c830 217px,#77c82f 220px,#7ac82e 223px,#7ec72d 226px,#80c72d 229px,#83c72c 232px,#86c72b 235px,#8dc629 243px,#94c528 251px,#9bc427 259px)"></i><i style="margin-left:51px;width:263px;background:linear-gradient(90deg,#42cca0 0px,#42cc9f 8px,#42cc9e 16px,#42cc9d 24px,#42cc9c 32px,#42cc9b 40px,#42cc9a 48px,#42cc98 56px,#42cc97 64px,#42cc95 72px,#42cc94 80px,#42cc92 88px,#42cc91 96px,#42cc8f 104px,#42cc8d 112px,#42cc8b 120px,#42cc84 128px,#43cc7b 136px,#44cc73 144px,#44cc6b 152px,#44cc63 160px,#44cc5b 168px,#46cc52 176px,#49cc47 184px,#4acc43 187px,#4bcc40 190px,#4ecc3d 193px,#54cb3a 196px,#5acb38 199px,#60ca36 202px,#66ca34 205px,#6ac932 208px,#6dc931 211px,#71c931 214px,#74c830 217px,#77c82f 220px,#7bc82e 223px,#7ec72d 226px,#81c72d 229px,#84c72c 232px,#87c62b 235px,#89c62a 238px,#91c629 246px,#98c527 254px,#9ec426 262px,#9fc426 263px)"></i><i style="margin-left:51px;width:266px;background:linear-gradient(90deg,#42cca0 0px,#42cc9f 8px,#42cc9e 16px,#42cc9d 24px,#42cc9c 32px,#42cc9b 40px,#42cc9a 48px,#42cc99 56px,#42cc97 64px,#42cc96 72px,#42cc94 80px,#42cc93 88px,#42cc91 96px,#42cc90 104px,#42cc8e 112px,#42cc8b 120px,#42cc85 128px,#43cc7d 136px,#44cc74 144px,#44cc6c 152px,#44cc64 160px,#44cc5c 168px,#46cc53 176px,#47cc4e 179px,#48cc4a 182px,#49cc46 185px,#4acc43 188px,#4ccc3f 191px,#50cc3c 194px,#56cb3a 197px,#5ccb37 200px,#62ca35 203px,#67ca33 206px,#6bc932 209px,#6fc931 212px,#72c830 215px,#76c82f 218px,#79c82f 221px,#7cc82e 224px,#7fc72d 227px,#82c72c 230px,#85c72b 233px,#88c62b 236px,#8bc62a 239px,#8ec629 242px,#95c528 250px,#9cc427 258px,#a2c425 266px)"></i><i style="margin-left:51px;width:269px;background:linear-gradient(90deg,#42cca0 0px,#42cca0 8px,#42cc9f 16px,#42cc9e 24px,#42cc9d 32px,#42cc9c 40px,#42cc9b 48px,#42cc99 56px,#42cc98 64px,#42cc96 72px,#42cc94 80px,#42cc93 88px,#42cc92 96px,#42cc90 104px,#42cc8e 112px,#42cc8c 120px,#42cc87 128px,#43cc7e 136px,#44cc75 144px,#44cc6d 152px,#44cc65 160px,#44cc5d 168px,#45cc53 176px,#47cc4f 179px,#48cc4b 182px,#49cc47 185px,#4acc43 188px,#4bcc3f 191px,#4fcc3c 194px,#56cb3a 197px,#5ccb37 200px,#62ca35 203px,#67ca33 206px,#6bc932 209px,#6fc931 212px,#72c830 215px,#76c82f 218px,#79c82f 221px,#7cc72e 224px,#80c72d 227px,#83c72c 230px,#86c72b 233px,#89c62b 236px,#8bc62a 239px,#8ec629 242px,#91c629 245px,#94c528 248px,#9bc527 256px,#a2c426 264px,#a6c325 269px)"></i><i style="margin-left:52px;width:272px;background:linear-gradient(90deg,#42cca1 0px,#42cca0 8px,#42cc9f 16px,#42cc9e 24px,#42cc9d 32px,#42cc9c 40px,#42cc9b 48px,#42cc9a 56px,#42cc98 64px,#42cc97 72px,#42cc95 80px,#42cc93 88px,#42cc92 96px,#42cc90 104px,#42cc8e 112px,#42cc8c 120px,#42cc87 128px,#43cc7f 136px,#43cc76 144px,#44cc6d 152px,#44cc65 160px,#44cc5c 168px,#46cc53 176px,#47cc4f 179px,#48cc4a 182px,#49cc46 185px,#4bcc42 188px,#4ccc3e 191px,#51cc3c 194px,#57cb39 197px,#5dca37 200px,#63ca34 203px,#68c933 206px,#6cc932 209px,#70c931 212px,#74c830 215px,#77c82f 218px,#7bc82e 221px,#7ec72d 224px,#81c72d 227px,#84c72c 230px,#87c62b 233px,#8ac62a 236px,#8dc62a 239px,#90c629 242px,#93c528 245px,#95c528 248px,#98c527 251px,#9fc426 259px,#a6c325 267px,#aac324 272px)"></i><i style="margin-left:52px;width:275px;background:linear-gradient(90deg,#42cca1 0px,#42cca0 8px,#42cc9f 16px,#42cc9f 24px,#42cc9e 32px,#42cc9d 40px,#42cc9b 48px,#42cc9a 56px,#42cc99 64px,#42cc97 72px,#42cc95 80px,#42cc94 88px,#42cc92 96px,#42cc91 104px,#42cc8f 112px,#42cc8c 120px,#42cc89 128px,#43cc80 136px,#43cc77 144px,#44cc6e 152px,#44cc65 160px,#44cc5d 168px,#45cc54 176px,#47cc4f 179px,#48cc4b 182px,#49cc47 185px,#4acc43 188px,#4ccc3f 191px,#51cc3c 194px,#57cb39 197px,#5dca37 200px,#63ca34 203px,#68c933 206px,#6cc932 209px,#70c931 212px,#74c830 215px,#77c82f 218px,#7bc82e 221px,#7ec72d 224px,#81c72c 227px,#85c72c 230px,#88c62b 233px,#8bc62a 236px,#8ec629 239px,#90c629 242px,#93c528 245px,#96c528 248px,#99c527 251px,#9cc427 254px,#a3c425 262px,#a9c324 270px,#adc324 275px)"></i><i style="margin-left:52px;width:278px;background:linear-gradient(90deg,#42cca1 0px,#42cca1 8px,#42cca0 16px,#42cc9f 24px,#42cc9e 32px,#42cc9d 40px,#42cc9c 48px,#42cc9b 56px,#42cc99 64px,#42cc98 72px,#42cc96 80px,#42cc94 88px,#42cc93 96px,#42cc91 104px,#42cc8f 112px,#42cc8d 120px,#42cc8a 128px,#42cc82 136px,#43cc78 144px,#44cc6f 152px,#44cc66 160px,#44cc5e 168px,#45cc55 176px,#46cc50 179px,#48cc4c 182px,#49cc47 185px,#4acc43 188px,#4ccc3f 191px,#50cc3c 194px,#57cb39 197px,#5dca37 200px,#63ca34 203px,#68c933 206px,#6cc932 209px,#70c931 212px,#74c830 215px,#78c82f 218px,#7bc82e 221px,#7fc72d 224px,#82c72c 227px,#85c72c 230px,#88c62b 233px,#8bc62a 236px,#8ec629 239px,#91c529 242px,#94c528 245px,#97c528 248px,#9ac527 251px,#9dc427 254px,#9fc426 257px,#a2c426 260px,#a8c324 268px,#afc323 276px,#b0c223 278px)"></i><i style="margin-left:52px;width:282px;background:linear-gradient(90deg,#42cca2 0px,#42cca1 8px,#42cca0 16px,#42cc9f 24px,#42cc9e 32px,#42cc9d 40px,#42cc9c 48px,#42cc9b 56px,#42cc9a 64px,#42cc98 72px,#42cc97 80px,#42cc95 88px,#42cc93 96px,#42cc91 104px,#42cc90 112px,#42cc8d 120px,#42cc8b 128px,#42cc83 136px,#43cc7a 144px,#44cc70 152px,#44cc67 160px,#44cc5f 168px,#45cc56 176px,#46cc51 179px,#48cc4c 182px,#49cc48 185px,#4acc44 188px,#4bcc40 191px,#4fcc3c 194px,#56cb3a 197px,#5dca37 200px,#63ca35 203px,#68c933 206px,#6cc932 209px,#70c931 212px,#74c830 215px,#78c82f 218px,#7cc82e 221px,#7fc72d 224px,#82c72c 227px,#86c72b 230px,#89c62b 233px,#8cc62a 236px,#8fc629 239px,#92c528 242px,#95c528 245px,#98c527 248px,#9bc527 251px,#9dc426 254px,#a0c426 257px,#a3c425 260px,#a5c325 263px,#acc324 271px,#b2c223 279px,#b4c222 282px)"></i><i style="margin-left:52px;width:285px;background:linear-gradient(90deg,#42cca2 0px,#42cca1 8px,#42cca0 16px,#42cca0 24px,#42cc9f 32px,#42cc9e 40px,#42cc9d 48px,#42cc9c 56px,#42cc9a 64px,#42cc99 72px,#42cc97 80px,#42cc95 88px,#42cc93 96px,#42cc92 104px,#42cc90 112px,#42cc8e 120px,#42cc8b 128px,#42cc85 136px,#43cc7b 144px,#44cc72 152px,#44cc69 160px,#44cc60 168px,#44cc57 176px,#46cc52 179px,#47cc4d 182px,#49cc49 185px,#4acc44 188px,#4bcc40 191px,#4fcc3c 194px,#56cb3a 197px,#5dcb37 200px,#63ca35 203px,#68c933 206px,#6cc932 209px,#71c931 212px,#74c830 215px,#78c82f 218px,#7cc82e 221px,#7fc72d 224px,#83c72c 227px,#86c72b 230px,#89c62a 233px,#8cc62a 236px,#8fc629 239px,#93c528 242px,#96c528 245px,#99c527 248px,#9bc427 251px,#9ec426 254px,#a1c426 257px,#a4c425 260px,#a6c325 263px,#a9c324 266px,#afc223 274px,#b5c222 282px,#b7c222 285px)"></i><i style="margin-left:52px;width:289px;background:linear-gradient(90deg,#42cca2 0px,#42cca2 8px,#42cca1 16px,#42cca0 24px,#42cc9f 32px,#42cc9e 40px,#42cc9d 48px,#42cc9c 56px,#42cc9b 64px,#42cc99 72px,#42cc98 80px,#42cc96 88px,#42cc94 96px,#42cc92 104px,#42cc91 112px,#42cc8f 120px,#42cc8c 128px,#42cc86 136px,#43cc7d 144px,#44cc73 152px,#44cc6a 160px,#44cc60 168px,#44cc5d 171px,#44cc5a 174px,#45cc56 177px,#46cc51 180px,#48cc4c 183px,#49cc48 186px,#4acc43 189px,#4ccc3f 192px,#51cc3c 195px,#58cb3a 198px,#5fca37 201px,#65ca34 204px,#6ac933 207px,#6ec931 210px,#72c830 213px,#76c82f 216px,#7ac82e 219px,#7dc72d 222px,#81c72d 225px,#84c72c 228px,#88c62b 231px,#8bc62a 234px,#8ec629 237px,#91c529 240px,#94c528 243px,#97c527 246px,#9ac527 249px,#9dc426 252px,#a0c426 255px,#a3c425 258px,#a5c325 261px,#a8c324 264px,#abc324 267px,#adc324 270px,#b3c222 278px,#b9c122 286px,#bac021 289px)"></i><i style="margin-left:53px;width:291px;background:linear-gradient(90deg,#42cca3 0px,#42cca2 8px,#42cca1 16px,#42cca0 24px,#42cca0 32px,#42cc9f 40px,#42cc9e 48px,#42cc9c 56px,#42cc9b 64px,#42cc9a 72px,#42cc98 80px,#42cc96 88px,#42cc94 96px,#42cc93 104px,#42cc91 112px,#42cc8f 120px,#42cc8c 128px,#42cc87 136px,#43cc7d 144px,#44cc73 152px,#44cc6a 160px,#44cc60 168px,#44cc5d 171px,#44cc5a 174px,#45cc55 177px,#46cc50 180px,#48cc4c 183px,#49cc47 186px,#4bcc42 189px,#4ccc3e 192px,#53cb3b 195px,#5bcb3a 198px,#61ca37 201px,#67ca34 204px,#6cc933 207px,#70c931 210px,#74c830 213px,#78c82f 216px,#7bc82e 219px,#7fc72d 222px,#83c72c 225px,#86c72b 228px,#89c62a 231px,#8dc62a 234px,#90c629 237px,#93c528 240px,#96c528 243px,#99c527 246px,#9cc427 249px,#9fc426 252px,#a2c426 255px,#a5c425 258px,#a7c325 261px,#aac324 264px,#adc324 267px,#afc223 270px,#b1c223 273px,#b8c222 281px,#bbc021 289px,#bcbf21 291px)"></i><i style="margin-left:53px;width:294px;background:linear-gradient(90deg,#42cca3 0px,#42cca2 8px,#42cca2 16px,#42cca1 24px,#42cca0 32px,#42cc9f 40px,#42cc9e 48px,#42cc9d 56px,#42cc9c 64px,#42cc9a 72px,#42cc99 80px,#42cc97 88px,#42cc95 96px,#42cc93 104px,#42cc91 112px,#42cc8f 120px,#42cc8d 128px,#42cc89 136px,#43cc7f 144px,#44cc75 152px,#44cc6b 160px,#44cc61 168px,#44cc5e 171px,#44cc5a 174px,#45cc56 177px,#46cc51 180px,#48cc4c 183px,#49cc48 186px,#4acc43 189px,#4ccc3f 192px,#53cb3c 195px,#5ccb3b 198px,#62ca38 201px,#68ca35 204px,#6cc934 207px,#70c932 210px,#74c831 213px,#78c82f 216px,#7cc82e 219px,#80c72d 222px,#83c72c 225px,#87c62b 228px,#8ac62a 231px,#8dc629 234px,#91c629 237px,#94c528 240px,#97c528 243px,#9ac527 246px,#9dc426 249px,#a0c426 252px,#a3c425 255px,#a6c325 258px,#a8c324 261px,#abc324 264px,#aec323 267px,#b0c223 270px,#b3c223 273px,#b5c222 276px,#b7c222 279px,#bbc021 287px,#bebe21 294px)"></i><i style="margin-left:53px;width:298px;background:linear-gradient(90deg,#42cca3 0px,#42cca3 8px,#42cca2 16px,#42cca1 24px,#42cca0 32px,#42cc9f 40px,#42cc9e 48px,#42cc9d 56px,#42cc9c 64px,#42cc9b 72px,#42cc99 80px,#42cc97 88px,#42cc95 96px,#42cc93 104px,#42cc92 112px,#42cc90 120px,#42cc8d 128px,#42cc8a 136px,#42cc81 144px,#43cc76 152px,#44cc6c 160px,#44cc62 168px,#44cc5f 171px,#44cc5b 174px,#44cc57 177px,#46cc52 180px,#47cc4d 183px,#49cc48 186px,#4acc44 189px,#4ccc3f 192px,#53cc3d 195px,#5ccb3d 198px,#63ca3a 201px,#69ca36 204px,#6dc935 207px,#71c933 210px,#75c831 213px,#79c830 216px,#7dc82f 219px,#80c72d 222px,#84c72c 225px,#87c62b 228px,#8bc62a 231px,#8ec629 234px,#91c529 237px,#95c528 240px,#98c527 243px,#9bc427 246px,#9ec426 249px,#a1c426 252px,#a4c425 255px,#a7c325 258px,#aac324 261px,#acc324 264px,#afc323 267px,#b1c223 270px,#b4c222 273px,#b6c222 276px,#b8c122 279px,#bac121 282px,#bdbe21 290px,#c0bd21 298px)"></i><i style="margin-left:53px;width:301px;background:linear-gradient(90deg,#42cca4 0px,#42cca3 8px,#42cca2 16px,#42cca2 24px,#42cca1 32px,#42cca0 40px,#42cc9f 48px,#42cc9e 56px,#42cc9d 64px,#42cc9b 72px,#42cc9a 80px,#42cc98 88px,#42cc96 96px,#42cc94 104px,#42cc92 112px,#42cc90 120px,#42cc8e 128px,#42cc8b 136px,#42cc83 144px,#43cc78 152px,#44cc6d 160px,#44cc63 168px,#44cc60 171px,#44cc5c 174px,#44cc58 177px,#45cc53 180px,#47cc4e 183px,#49cc49 186px,#4acc44 189px,#4ccc40 192px,#53cc3e 195px,#5dcb3e 198px,#64ca3b 201px,#6aca38 204px,#6ec936 207px,#72c934 210px,#76c832 213px,#7ac831 216px,#7dc82f 219px,#81c72e 222px,#85c72d 225px,#88c62b 228px,#8bc62a 231px,#8fc629 234px,#92c528 237px,#96c528 240px,#99c527 243px,#9cc427 246px,#9fc426 249px,#a2c426 252px,#a5c325 255px,#a8c324 258px,#abc324 261px,#adc324 264px,#b0c223 267px,#b3c223 270px,#b5c222 273px,#b7c222 276px,#b9c122 279px,#bac021 282px,#bcbf21 285px,#bdbf21 288px,#c0bc21 296px,#c2bb21 301px)"></i><i style="margin-left:54px;width:303px;background:linear-gradient(90deg,#42cca4 0px,#42cca3 8px,#42cca3 16px,#42cca2 24px,#42cca1 32px,#42cca0 40px,#42cc9f 48px,#42cc9e 56px,#42cc9d 64px,#42cc9c 72px,#42cc9a 80px,#42cc98 88px,#42cc96 96px,#42cc94 104px,#42cc92 112px,#42cc91 120px,#42cc8e 128px,#42cc8b 136px,#42cc83 144px,#43cc78 152px,#44cc6d 160px,#44cc63 168px,#44cc5f 171px,#44cc5c 174px,#44cc58 177px,#46cc52 180px,#47cc4d 183px,#49cc48 186px,#4bcc44 189px,#4ecc40 192px,#57cb40 195px,#61cb40 198px,#67ca3c 201px,#6cca39 204px,#70c937 207px,#74c935 210px,#78c833 213px,#7cc832 216px,#80c730 219px,#83c72e 222px,#87c72d 225px,#8ac62c 228px,#8dc62a 231px,#91c629 234px,#94c528 237px,#98c528 240px,#9bc527 243px,#9ec426 246px,#a1c426 249px,#a4c425 252px,#a7c325 255px,#aac324 258px,#adc324 261px,#afc223 264px,#b2c223 267px,#b5c222 270px,#b7c222 273px,#b9c122 276px,#bac021 279px,#bbbf21 282px,#bdbf21 285px,#bebe21 288px,#bfbd21 291px,#c2bb21 299px,#c4ba21 303px)"></i><i style="margin-left:54px;width:307px;background:linear-gradient(90deg,#42cca4 0px,#42cca4 8px,#42cca3 16px,#42cca2 24px,#42cca1 32px,#42cca1 40px,#42cca0 48px,#42cc9f 56px,#42cc9e 64px,#42cc9c 72px,#42cc9b 80px,#42cc99 88px,#42cc97 96px,#42cc95 104px,#42cc93 112px,#42cc91 120px,#42cc8f 128px,#42cc8c 136px,#42cc85 144px,#43cc7a 152px,#44cc6f 160px,#44cc64 168px,#44cc60 171px,#44cc5c 174px,#44cc59 177px,#45cc54 180px,#47cc4e 183px,#49cc49 186px,#4bcc45 189px,#4ecc42 192px,#57cb41 195px,#62cb42 198px,#68ca3e 201px,#6dca3b 204px,#72c939 207px,#75c937 210px,#79c835 213px,#7dc833 216px,#81c731 219px,#84c730 222px,#88c72e 225px,#8bc62c 228px,#8fc62b 231px,#92c62a 234px,#95c529 237px,#99c528 240px,#9cc428 243px,#9fc427 246px,#a2c426 249px,#a5c325 252px,#a8c324 255px,#abc324 258px,#aec323 261px,#b1c223 264px,#b3c222 267px,#b6c222 270px,#b8c122 273px,#bac121 276px,#bbc021 279px,#bcbf21 282px,#bebe21 285px,#bfbd21 288px,#c0bc21 291px,#c1bc21 294px,#c4ba21 302px,#c6b920 307px)"></i><i style="margin-left:54px;width:310px;background:linear-gradient(90deg,#42cca5 0px,#42cca4 8px,#42cca3 16px,#42cca3 24px,#42cca2 32px,#42cca1 40px,#42cca0 48px,#42cc9f 56px,#42cc9e 64px,#42cc9d 72px,#42cc9b 80px,#42cc9a 88px,#42cc98 96px,#42cc96 104px,#42cc93 112px,#42cc92 120px,#42cc8f 128px,#42cc8d 136px,#42cc87 144px,#43cc7c 152px,#44cc70 160px,#44cc6c 163px,#44cc68 166px,#44cc64 169px,#44cc60 172px,#44cc5c 175px,#44cc58 178px,#46cc53 181px,#47cc4d 184px,#4acc49 187px,#4dcc45 190px,#51cc43 193px,#5ccb44 196px,#65cb43 199px,#6cca3f 202px,#70c93c 205px,#74c93a 208px,#78c938 211px,#7cc836 214px,#80c834 217px,#83c732 220px,#87c730 223px,#8ac62f 226px,#8ec62d 229px,#91c62c 232px,#94c52a 235px,#98c52a 238px,#9bc529 241px,#9fc428 244px,#a2c427 247px,#a5c427 250px,#a8c326 253px,#abc325 256px,#adc324 259px,#b0c223 262px,#b3c223 265px,#b6c222 268px,#b8c222 271px,#b9c121 274px,#bbc021 277px,#bcbf21 280px,#bebe21 283px,#bfbd21 286px,#c0bc21 289px,#c1bc21 292px,#c2bb21 295px,#c4ba21 298px,#c7b820 306px,#c8b720 310px)"></i><i style="margin-left:54px;width:313px;background:linear-gradient(90deg,#42cca6 0px,#42cca5 8px,#42cca4 16px,#42cca3 24px,#42cca2 32px,#42cca2 40px,#42cca1 48px,#42cca0 56px,#42cc9f 64px,#42cc9d 72px,#42cc9c 80px,#42cc9a 88px,#42cc98 96px,#42cc96 104px,#42cc94 112px,#42cc92 120px,#42cc90 128px,#42cc8d 136px,#42cc89 144px,#43cc7e 152px,#44cc72 160px,#44cc6d 163px,#44cc69 166px,#44cc65 169px,#44cc61 172px,#44cc5d 175px,#44cc59 178px,#45cc54 181px,#47cc4e 184px,#4acc4a 187px,#4ecc47 190px,#52cc45 193px,#5dcb46 196px,#67cb46 199px,#6dca42 202px,#72c93f 205px,#7cc839 213px,#80c837 216px,#83c735 219px,#87c733 222px,#8ac731 225px,#8ec62f 228px,#91c62d 231px,#95c52c 234px,#98c52b 237px,#9cc52a 240px,#9fc42a 243px,#a2c429 246px,#a5c428 249px,#a8c327 252px,#abc326 255px,#aec325 258px,#b1c224 261px,#b3c222 264px,#b6c222 267px,#b8c122 270px,#bac021 273px,#bbc021 276px,#bdbf21 279px,#bebe21 282px,#bfbd21 285px,#c1bc21 288px,#c2bb21 291px,#c3bb21 294px,#c4ba21 297px,#c5b921 300px,#c6b820 303px,#c9b720 311px,#cab620 313px)"></i><i style="margin-left:55px;width:316px;background:linear-gradient(90deg,#42cca6 0px,#42cca5 8px,#42cca4 16px,#42cca3 24px,#42cca3 32px,#42cca2 40px,#42cca1 48px,#42cca0 56px,#42cc9f 64px,#42cc9e 72px,#42cc9c 80px,#42cc9b 88px,#42cc99 96px,#42cc97 104px,#42cc94 112px,#42cc92 120px,#42cc90 128px,#42cc8e 136px,#42cc8a 144px,#43cc7e 152px,#44cc72 160px,#44cc6e 163px,#44cc69 166px,#44cc65 169px,#44cc61 172px,#44cc5d 175px,#44cc59 178px,#46cc53 181px,#48cc4e 184px,#4ccc4b 187px,#50cc48 190px,#56cc47 193px,#62cb49 196px,#6bcb47 199px,#71ca43 202px,#7bc93d 210px,#85c737 218px,#88c735 221px,#8cc733 224px,#8fc631 227px,#93c62f 230px,#96c52e 233px,#9ac52d 236px,#9dc52c 239px,#a0c42b 242px,#a4c42a 245px,#a7c429 248px,#aac328 251px,#adc328 254px,#b0c327 257px,#b2c226 260px,#b5c224 263px,#b7c222 266px,#b9c122 269px,#bbc021 272px,#bcbf21 275px,#bdbe21 278px,#bfbd21 281px,#c0bc21 284px,#c1bc21 287px,#c3bb21 290px,#c4ba21 293px,#c5b921 296px,#c6b920 299px,#c7b820 302px,#c8b720 305px,#cbb520 313px,#ccb520 316px)"></i><i style="margin-left:55px;width:319px;background:linear-gradient(90deg,#42cca7 0px,#42cca6 8px,#42cca5 16px,#42cca4 24px,#42cca3 32px,#42cca2 40px,#42cca1 48px,#42cca1 56px,#42cc9f 64px,#42cc9e 72px,#42cc9d 80px,#42cc9b 88px,#42cc9a 96px,#42cc98 104px,#42cc95 112px,#42cc93 120px,#42cc91 128px,#42cc8e 136px,#42cc8b 144px,#43cc80 152px,#44cc74 160px,#44cc6f 163px,#44cc6b 166px,#44cc66 169px,#44cc62 172px,#44cc5e 175px,#44cc5a 178px,#46cc55 181px,#49cc50 184px,#4dcc4d 187px,#52cc4a 190px,#57cc49 193px,#64cb4c 196px,#6dcb4b 199px,#73ca46 202px,#7dc93f 210px,#87c739 218px,#8ac737 221px,#8ec735 224px,#91c633 227px,#94c631 230px,#98c530 233px,#9bc52f 236px,#9fc52e 239px,#a2c42d 242px,#a5c42c 245px,#a8c42b 248px,#acc32a 251px,#aec329 254px,#b1c328 257px,#b4c227 260px,#b7c226 263px,#b9c125 266px,#bac022 269px,#bcbf21 272px,#bdbe21 275px,#bebe21 278px,#c0bd21 281px,#c1bc21 284px,#c2bb21 287px,#c4ba21 290px,#c5b921 293px,#c6b920 296px,#c7b820 299px,#c8b720 302px,#c9b720 305px,#cab620 308px,#cbb520 311px,#ccb21f 319px)"></i><i style="margin-left:55px;width:323px;background:linear-gradient(90deg,#42cca8 0px,#42cca7 8px,#42cca5 16px,#42cca4 24px,#42cca3 32px,#42cca3 40px,#42cca2 48px,#42cca1 56px,#42cca0 64px,#42cc9f 72px,#42cc9e 80px,#42cc9c 88px,#42cc9a 96px,#42cc98 104px,#42cc96 112px,#42cc93 120px,#42cc91 128px,#42cc8f 136px,#42cc8c 144px,#42cc82 152px,#43cc76 160px,#44cc71 163px,#44cc6c 166px,#44cc68 169px,#44cc63 172px,#44cc5f 175px,#44cc5b 178px,#46cc57 181px,#4acc52 184px,#4ecc4f 187px,#53cc4d 190px,#59cc4c 193px,#65cb4e 196px,#6fcb4e 199px,#7bc945 207px,#85c83e 215px,#8ec738 223px,#91c636 226px,#95c634 229px,#98c632 232px,#9cc531 235px,#9fc530 238px,#a3c42f 241px,#a6c42e 244px,#a9c42d 247px,#acc32c 250px,#afc32b 253px,#b2c32a 256px,#b5c229 259px,#b8c228 262px,#bac128 265px,#bbc027 268px,#bcbf25 271px,#bdbe22 274px,#bfbd21 277px,#c0bc21 280px,#c2bb21 283px,#c3bb21 286px,#c4ba21 289px,#c5b921 292px,#c7b820 295px,#c8b820 298px,#c9b720 301px,#cab620 304px,#cbb520 307px,#ccb520 310px,#ccb31f 313px,#ccb01e 321px,#ccaf1e 323px)"></i><i style="margin-left:56px;width:325px;background:linear-gradient(90deg,#42cca8 0px,#42cca7 8px,#42cca6 16px,#42cca5 24px,#42cca4 32px,#42cca3 40px,#42cca2 48px,#42cca1 56px,#42cca0 64px,#42cc9f 72px,#42cc9e 80px,#42cc9c 88px,#42cc9b 96px,#42cc99 104px,#42cc96 112px,#42cc94 120px,#42cc92 128px,#42cc8f 136px,#42cc8c 144px,#42cc83 152px,#43cc76 160px,#44cc71 163px,#44cc6c 166px,#44cc68 169px,#44cc63 172px,#44cc5f 175px,#45cc5b 178px,#48cc57 181px,#4ccc53 184px,#51cc50 187px,#57cc4f 190px,#5ecc4f 193px,#6ccb53 196px,#73ca50 199px,#7fc947 207px,#88c840 215px,#91c73a 223px,#9ac635 231px,#9ec534 234px,#a1c533 237px,#a5c432 240px,#a8c431 243px,#abc430 246px,#aec32f 249px,#b1c32e 252px,#b4c32d 255px,#b7c22b 258px,#b9c22a 261px,#bbc12a 264px,#bcc029 267px,#bebf28 270px,#bfbe27 273px,#c0bd23 276px,#c1bc21 279px,#c3bb21 282px,#c4ba21 285px,#c5b921 288px,#c6b820 291px,#c8b820 294px,#c9b720 297px,#cab620 300px,#cbb520 303px,#ccb520 306px,#ccb31f 309px,#ccb21f 312px,#ccb11f 315px,#ccaf1e 318px,#ccac1d 325px)"></i><i style="margin-left:56px;width:328px;background:linear-gradient(90deg,#42cca9 0px,#42cca8 8px,#42cca7 16px,#42cca6 24px,#42cca4 32px,#42cca3 40px,#42cca3 48px,#42cca2 56px,#42cca1 64px,#42cca0 72px,#42cc9f 80px,#42cc9d 88px,#42cc9b 96px,#42cc99 104px,#42cc97 112px,#42cc94 120px,#42cc92 128px,#42cc90 136px,#42cc8d 144px,#42cc85 152px,#43cc80 155px,#43cc7b 158px,#43cc76 161px,#44cc71 164px,#44cc6c 167px,#44cc67 170px,#44cc63 173px,#45cc5f 176px,#47cc5c 179px,#4acc58 182px,#4fcc54 185px,#54cc52 188px,#5bcc52 191px,#64cc53 194px,#72cb58 197px,#7ec94d 205px,#88c845 213px,#91c73e 221px,#9ac639 229px,#9ec537 232px,#a1c536 235px,#a4c535 238px,#a8c434 241px,#abc433 244px,#aec432 247px,#b1c331 250px,#b4c330 253px,#b7c32f 256px,#b9c22d 259px,#bbc12d 262px,#bcc02c 265px,#bebf2b 268px,#bfbe2a 271px,#c0bd2a 274px,#c2bc28 277px,#c3bb23 280px,#c4ba21 283px,#c5b921 286px,#c7b820 289px,#c8b820 292px,#c9b720 295px,#cab620 298px,#cbb520 301px,#ccb420 304px,#ccb31f 307px,#ccb11f 310px,#ccb01e 313px,#ccaf1e 316px,#ccad1e 319px,#ccac1d 322px,#ccaa1c 328px)"></i><i style="margin-left:56px;width:332px;background:linear-gradient(90deg,#42cca9 0px,#42cca9 8px,#42cca8 16px,#42cca6 24px,#42cca5 32px,#42cca4 40px,#42cca3 48px,#42cca2 56px,#42cca1 64px,#42cca0 72px,#42cc9f 80px,#42cc9e 88px,#42cc9c 96px,#42cc9a 104px,#42cc98 112px,#42cc95 120px,#42cc93 128px,#42cc90 136px,#42cc8d 144px,#42cc88 152px,#42cc83 155px,#43cc7e 158px,#43cc78 161px,#44cc73 164px,#44cc6e 167px,#44cc69 170px,#45cc65 173px,#46cc61 176px,#48cc5e 179px,#4bcc5b 182px,#50cc57 185px,#56cc55 188px,#5dcc55 191px,#66cc57 194px,#74cb5b 197px,#81ca50 205px,#8ac849 213px,#93c741 221px,#9cc63c 229px,#a5c539 237px,#a9c538 240px,#acc436 243px,#afc435 246px,#b2c334 249px,#b5c333 252px,#b8c332 255px,#bac231 258px,#bcc130 261px,#bdc02f 264px,#bebf2e 267px,#c0be2d 270px,#c1bd2c 273px,#c2bc2b 276px,#c4bb2b 279px,#c5ba28 282px,#c6b922 285px,#c7b820 288px,#c8b720 291px,#cab620 294px,#cbb620 297px,#ccb520 300px,#ccb31f 303px,#ccb21f 306px,#ccb01f 309px,#ccaf1e 312px,#ccae1e 315px,#ccac1d 318px,#ccab1d 321px,#ccaa1c 324px,#cca81c 327px,#cca61b 332px)"></i><i style="margin-left:57px;width:334px;background:linear-gradient(90deg,#42ccaa 0px,#42cca9 8px,#42cca8 16px,#42cca7 24px,#42cca6 32px,#42cca5 40px,#42cca4 48px,#42cca3 56px,#42cca2 64px,#42cca1 72px,#42cca0 80px,#42cc9e 88px,#42cc9d 96px,#42cc9b 104px,#42cc99 112px,#42cc96 120px,#42cc93 128px,#42cc91 136px,#42cc8e 144px,#42cc88 152px,#42cc83 155px,#43cc7e 158px,#43cc79 161px,#44cc73 164px,#44cc6e 167px,#45cc6a 170px,#46cc66 173px,#48cc62 176px,#4acc5f 179px,#4ecc5c 182px,#54cc59 185px,#5acc58 188px,#62cc58 191px,#6dcc5b 194px,#81ca57 202px,#8ac94e 210px,#93c747 218px,#9cc640 226px,#a5c53d 234px,#aec43a 242px,#b1c439 245px,#b4c437 248px,#b7c336 251px,#b9c335 254px,#bbc234 257px,#bdc133 260px,#bec032 263px,#c0bf31 266px,#c1be30 269px,#c2bd2f 272px,#c4bc2e 275px,#c5bb2d 278px,#c6ba2d 281px,#c7b92c 284px,#c8b825 287px,#cab620 290px,#cbb620 293px,#ccb520 296px,#ccb31f 299px,#ccb21f 302px,#ccb01f 305px,#ccaf1e 308px,#ccad1e 311px,#ccac1d 314px,#ccab1d 317px,#cca91c 320px,#cca81c 323px,#cca71b 326px,#cca61b 329px,#cca41a 334px)"></i><i style="margin-left:57px;width:337px;background:linear-gradient(90deg,#42ccab 0px,#42ccaa 8px,#42cca9 16px,#42cca8 24px,#42cca7 32px,#42cca5 40px,#42cca4 48px,#42cca3 56px,#42cca2 64px,#42cca1 72px,#42cca0 80px,#42cc9f 88px,#42cc9d 96px,#42cc9b 104px,#42cc99 112px,#42cc97 120px,#42cc94 128px,#42cc91 136px,#42cc8f 144px,#42cc8b 152px,#42cc86 155px,#42cc81 158px,#43cc7b 161px,#44cc76 164px,#44cc70 167px,#46cc6c 170px,#47cc68 173px,#49cc64 176px,#4ccc62 179px,#50cc5f 182px,#56cc5c 185px,#5dcc5b 188px,#64cc5c 191px,#6fcc5f 194px,#84ca5b 202px,#8dc952 210px,#95c74b 218px,#9ec644 226px,#a8c541 234px,#b0c43d 242px,#b3c43c 245px,#b6c43b 248px,#b9c339 251px,#bbc338 254px,#bdc237 257px,#bec136 260px,#bfc035 263px,#c1bf34 266px,#c2be33 269px,#c3bd32 272px,#c5bc31 275px,#c6bb30 278px,#c7ba30 281px,#c8b92f 284px,#cab82f 287px,#cbb72a 290px,#ccb521 293px,#ccb320 296px,#ccb21f 299px,#ccb01e 302px,#ccaf1e 305px,#ccad1d 308px,#ccac1d 311px,#ccaa1d 314px,#cca91c 317px,#cca81c 320px,#cca71b 323px,#cca51b 326px,#cca41a 329px,#cca31a 332px,#cca119 337px)"></i><i style="margin-left:58px;width:340px;background:linear-gradient(90deg,#42ccab 0px,#42ccaa 8px,#42cca9 16px,#42cca8 24px,#42cca7 32px,#42cca6 40px,#42cca5 48px,#42cca4 56px,#42cca3 64px,#42cca2 72px,#42cca1 80px,#42cc9f 88px,#42cc9e 96px,#42cc9c 104px,#42cc9a 112px,#42cc97 120px,#42cc94 128px,#42cc92 136px,#42cc8f 144px,#42cc8b 152px,#42cc87 155px,#42cc81 158px,#43cc7c 161px,#44cc76 164px,#46cc71 167px,#47cc6d 170px,#49cc69 173px,#4ccc66 176px,#4fcc64 179px,#53cc61 182px,#5acc5f 185px,#62cc5f 188px,#6acc60 191px,#84ca62 199px,#8dc959 207px,#96c850 215px,#9ec749 223px,#a8c646 231px,#b0c542 239px,#b8c43e 247px,#bbc33d 250px,#bcc23c 253px,#bec13b 256px,#bfc03a 259px,#c1bf38 262px,#c2be37 265px,#c3bd36 268px,#c5bc35 271px,#c6bb35 274px,#c7bb34 277px,#c8ba34 280px,#cab933 283px,#cbb832 286px,#ccb731 289px,#ccb52e 292px,#ccb224 295px,#ccb01e 298px,#ccaf1e 301px,#ccad1d 304px,#ccac1d 307px,#ccaa1c 310px,#cca91c 313px,#cca81c 316px,#cca61b 319px,#cca51b 322px,#cca41a 325px,#cca21a 328px,#cca119 331px,#cca019 334px,#cc9f19 337px,#cc9e18 340px)"></i><i style="margin-left:58px;width:343px;background:linear-gradient(90deg,#42ccac 0px,#42ccab 8px,#42ccaa 16px,#42cca9 24px,#42cca8 32px,#42cca7 40px,#42cca6 48px,#42cca4 56px,#42cca3 64px,#42cca2 72px,#42cca1 80px,#42cca0 88px,#42cc9e 96px,#42cc9d 104px,#42cc9b 112px,#42cc98 120px,#42cc95 128px,#42cc93 136px,#42cc90 144px,#42cc8c 152px,#42cc89 155px,#42cc84 158px,#43cc7e 161px,#44cc79 164px,#47cc74 167px,#49cc70 170px,#4bcc6c 173px,#4ecc69 176px,#51cc67 179px,#55cc65 182px,#5dcc63 185px,#64cc63 188px,#6ccc64 191px,#87ca66 199px,#90c95d 207px,#98c855 215px,#a1c74d 223px,#aac64a 231px,#b2c546 239px,#bac442 247px,#bcc341 250px,#bec240 253px,#bfc13f 256px,#c1c03d 259px,#c2bf3c 262px,#c3be3b 265px,#c5bd3a 268px,#c6bc39 271px,#c7bb39 274px,#c8ba38 277px,#caba38 280px,#cbb937 283px,#ccb837 286px,#ccb636 289px,#ccb534 292px,#ccb332 295px,#ccb027 298px,#ccad1e 301px,#ccab1d 304px,#ccaa1c 307px,#cca91c 310px,#cca71b 313px,#cca61b 316px,#cca51b 319px,#cca31a 322px,#cca21a 325px,#cca119 328px,#cc9f19 331px,#cc9e18 334px,#cc9d18 337px,#cc9c18 340px,#cc9b17 343px)"></i><i style="margin-left:58px;width:346px;background:linear-gradient(90deg,#42ccad 0px,#42ccac 8px,#42ccab 16px,#42ccaa 24px,#42cca9 32px,#42cca8 40px,#42cca6 48px,#42cca5 56px,#42cca4 64px,#42cca3 72px,#42cca2 80px,#42cca1 88px,#42cc9f 96px,#42cc9d 104px,#42cc9c 112px,#42cc99 120px,#42cc96 128px,#42cc93 136px,#42cc90 144px,#42cc8d 152px,#42cc8b 155px,#42cc87 158px,#43cc81 161px,#45cc7c 164px,#48cc77 167px,#4bcc73 170px,#4dcc6f 173px,#50cc6c 176px,#53cc6a 179px,#57cc69 182px,#5fcc67 185px,#67cc67 188px,#70cc68 191px,#8acb6b 199px,#93c962 207px,#9bc859 215px,#a3c752 223px,#acc64f 231px,#b5c54b 239px,#bcc447 247px,#c0c143 255px,#c1c042 258px,#c3bf40 261px,#c4be3f 264px,#c5bd3e 267px,#c7bc3d 270px,#c8bb3d 273px,#c9bb3d 276px,#caba3d 279px,#cbb93c 282px,#ccb83c 285px,#ccb63b 288px,#ccb539 291px,#ccb336 294px,#ccb133 297px,#ccaf2e 300px,#ccab22 303px,#cca91c 306px,#cca71b 309px,#cca61b 312px,#cca51b 315px,#cca31a 318px,#cca21a 321px,#cca119 324px,#cc9f19 327px,#cc9e18 330px,#cc9d18 333px,#cc9c18 336px,#cc9a17 339px,#cc9917 342px,#cc9816 345px,#cc9816 346px)"></i><i style="margin-left:59px;width:349px;background:linear-gradient(90deg,#42ccad 0px,#42ccac 8px,#42ccac 16px,#42ccab 24px,#42ccaa 32px,#42cca8 40px,#42cca7 48px,#42cca6 56px,#42cca4 64px,#42cca3 72px,#42cca2 80px,#42cca1 88px,#42cca0 96px,#42cc9e 104px,#42cc9c 112px,#42cc9a 120px,#42cc97 128px,#42cc94 136px,#42cc91 144px,#42cc90 147px,#42cc8e 150px,#42cc8d 153px,#42cc8b 156px,#43cc86 159px,#45cc81 162px,#48cc7c 165px,#4bcc78 168px,#4ecc74 171px,#51cc71 174px,#55cc6e 177px,#59cc6c 180px,#5fcc6b 183px,#67cc6a 186px,#70cc6c 189px,#8ccb72 197px,#95ca68 205px,#9dc85f 213px,#a5c757 221px,#aec654 229px,#b6c550 237px,#bdc44c 245px,#c1c148 253px,#c4be44 261px,#c6bd43 264px,#c7bd42 267px,#c8bc42 270px,#c9bb42 273px,#cbba42 276px,#ccba42 279px,#ccb841 282px,#ccb740 285px,#ccb53f 288px,#ccb33c 291px,#ccb139 294px,#ccb035 297px,#ccae31 300px,#ccab2c 303px,#cca821 306px,#cca51b 309px,#cca41a 312px,#cca21a 315px,#cca119 318px,#cca019 321px,#cc9e18 324px,#cc9d18 327px,#cc9c18 330px,#cc9b17 333px,#cc9917 336px,#cc9816 339px,#cc9716 342px,#cc9616 345px,#cc9515 348px,#cc9515 349px)"></i><i style="margin-left:59px;width:352px;background:linear-gradient(90deg,#42ccae 0px,#42ccad 8px,#42ccac 16px,#42ccab 24px,#42ccaa 32px,#42cca9 40px,#42cca8 48px,#42cca7 56px,#42cca5 64px,#42cca4 72px,#42cca3 80px,#42cca2 88px,#42cca0 96px,#42cc9f 104px,#42cc9d 112px,#42cc9b 120px,#42cc98 128px,#42cc94 136px,#42cc92 144px,#42cc90 147px,#42cc8f 150px,#42cc8d 153px,#42cc8c 156px,#43cc89 159px,#46cc85 162px,#4acc80 165px,#4dcc7b 168px,#51cc77 171px,#54cc74 174px,#58cc72 177px,#5ccc70 180px,#62cc6f 183px,#6acc6f 186px,#87cc77 194px,#95ca70 202px,#9dc967 210px,#a4c85e 218px,#adc75a 226px,#b5c656 234px,#bdc552 242px,#c1c24e 250px,#c4bf4a 258px,#c6be48 261px,#c7bd48 264px,#c8bd48 267px,#c9bc48 270px,#cbbb48 273px,#ccba48 276px,#ccb947 279px,#ccb847 282px,#ccb646 285px,#ccb443 288px,#ccb340 291px,#ccb13c 294px,#ccaf39 297px,#ccad35 300px,#ccab31 303px,#cca82c 306px,#cca523 309px,#cca21b 312px,#cca019 315px,#cc9f19 318px,#cc9e18 321px,#cc9c18 324px,#cc9b17 327px,#cc9a17 330px,#cc9916 333px,#cc9716 336px,#cc9616 339px,#cc9515 342px,#cc9415 345px,#cc9314 348px,#cc9214 351px,#cc9214 352px)"></i><i style="margin-left:60px;width:354px;background:linear-gradient(90deg,#42ccae 0px,#42ccae 8px,#42ccad 16px,#42ccac 24px,#42ccab 32px,#42ccaa 40px,#42cca9 48px,#42cca8 56px,#42cca6 64px,#42cca4 72px,#42cca3 80px,#42cca2 88px,#42cca1 96px,#42cc9f 104px,#42cc9e 112px,#42cc9b 120px,#42cc99 128px,#42cc95 136px,#42cc92 144px,#42cc91 147px,#42cc8f 150px,#42cc8e 153px,#43cc8d 156px,#45cc8b 159px,#49cc87 162px,#4dcc82 165px,#50cc7e 168px,#54cc7a 171px,#58cc77 174px,#5ccc75 177px,#61cc74 180px,#67cc73 183px,#70cc73 186px,#8ecb7e 194px,#99ca74 202px,#a1c96b 210px,#a8c863 218px,#b1c75f 226px,#b9c65b 234px,#bfc457 242px,#c3c253 250px,#c6bf4e 258px,#c9bd4d 266px,#cbbc4e 269px,#ccbb4e 272px,#ccba4e 275px,#ccb94e 278px,#ccb74d 281px,#ccb54a 284px,#ccb447 287px,#ccb244 290px,#ccb040 293px,#ccae3d 296px,#ccac39 299px,#ccaa34 302px,#cca830 305px,#cca52b 308px,#cca325 311px,#cc9f1b 314px,#cc9d18 317px,#cc9c17 320px,#cc9a17 323px,#cc9917 326px,#cc9816 329px,#cc9716 332px,#cc9515 335px,#cc9415 338px,#cc9315 341px,#cc9214 344px,#cc9114 347px,#cc9014 350px,#cc8f13 353px,#cc8e13 354px)"></i><i style="margin-left:60px;width:358px;background:linear-gradient(90deg,#42ccaf 0px,#42ccae 8px,#42ccae 16px,#42ccad 24px,#42ccac 32px,#42ccab 40px,#42ccaa 48px,#42cca9 56px,#42cca7 64px,#42cca6 72px,#42cca4 80px,#42cca3 88px,#42cca2 96px,#42cca0 104px,#42cc9e 112px,#42cc9c 120px,#42cc9a 128px,#42cc96 136px,#42cc93 144px,#42cc92 147px,#42cc90 150px,#42cc8f 153px,#44cc8e 156px,#47cc8e 159px,#4bcc8b 162px,#4fcc86 165px,#53cc82 168px,#57cc7e 171px,#5bcc7b 174px,#60cc79 177px,#64cc78 180px,#6acc77 183px,#83cc7c 191px,#9acb7c 199px,#a1c973 207px,#a8c86a 215px,#b0c766 223px,#b8c662 231px,#bfc55d 239px,#c3c259 247px,#c6c054 255px,#c9bd53 263px,#ccbb54 271px,#ccba54 274px,#ccb954 277px,#ccb752 280px,#ccb54f 283px,#ccb44c 286px,#ccb249 289px,#ccb046 292px,#ccae42 295px,#ccac3e 298px,#ccaa3a 301px,#cca835 304px,#cca531 307px,#cca32c 310px,#cca026 313px,#cc9d1f 316px,#cc9a18 319px,#cc9916 322px,#cc9716 325px,#cc9616 328px,#cc9515 331px,#cc9415 334px,#cc9314 337px,#cc9114 340px,#cc9014 343px,#cc8f13 346px,#cc8e13 349px,#cc8d13 352px,#cc8c12 355px,#cc8b12 358px)"></i><i style="margin-left:61px;width:360px;background:linear-gradient(90deg,#42ccb0 0px,#42ccaf 8px,#42ccae 16px,#42ccad 24px,#42ccad 32px,#42ccac 40px,#42ccab 48px,#42cca9 56px,#42cca8 64px,#42cca6 72px,#42cca5 80px,#42cca3 88px,#42cca2 96px,#42cca1 104px,#42cc9f 112px,#42cc9d 120px,#42cc9a 128px,#42cc97 136px,#42cc93 144px,#42cc92 147px,#42cc91 150px,#43cc90 153px,#47cc90 156px,#4bcc90 159px,#4fcc8e 162px,#53cc89 165px,#57cc85 168px,#5bcc81 171px,#60cc7e 174px,#65cc7d 177px,#6acc7c 180px,#71cc7c 183px,#8acc82 191px,#9ecb80 199px,#a5c977 207px,#acc86f 215px,#b4c76b 223px,#bbc667 231px,#c1c562 239px,#c4c25e 247px,#c8bf5a 255px,#cbbd5a 263px,#ccbb5b 271px,#ccb95b 274px,#ccb858 277px,#ccb655 280px,#ccb453 283px,#ccb24f 286px,#ccb14c 289px,#ccaf49 292px,#ccad45 295px,#ccab41 298px,#cca93d 301px,#cca638 304px,#cca433 307px,#cca12e 310px,#cc9f29 313px,#cc9c23 316px,#cc991c 319px,#cc9616 322px,#cc9515 325px,#cc9315 328px,#cc9214 331px,#cc9114 334px,#cc9014 337px,#cc8f13 340px,#cc8e13 343px,#cc8d13 346px,#cc8c12 349px,#cc8a12 352px,#cc8912 355px,#cc8811 358px,#cc8811 360px)"></i><i style="margin-left:61px;width:363px;background:linear-gradient(90deg,#42ccb0 0px,#42ccb0 8px,#42ccaf 16px,#42ccae 24px,#42ccad 32px,#42ccac 40px,#42ccab 48px,#42ccaa 56px,#42cca9 64px,#42cca7 72px,#42cca6 80px,#42cca4 88px,#42cca3 96px,#42cca1 104px,#42cca0 112px,#42cc9e 120px,#42cc9b 128px,#42cc98 136px,#42cc97 139px,#42cc95 142px,#42cc94 145px,#42cc93 148px,#43cc92 151px,#46cc92 154px,#4bcc92 157px,#4fcc92 160px,#52cc91 163px,#57cc8c 166px,#5bcc88 169px,#60cc85 172px,#65cc82 175px,#6acc81 178px,#70cc80 181px,#87cc84 189px,#9fcb88 197px,#a6ca7f 205px,#acc976 213px,#b5c872 221px,#bcc76d 229px,#c2c569 237px,#c5c264 245px,#c8c060 253px,#cbbe61 261px,#ccbb62 269px,#ccb75d 277px,#ccb65a 280px,#ccb457 283px,#ccb254 286px,#ccb051 289px,#ccae4d 292px,#ccac49 295px,#ccaa45 298px,#cca841 301px,#cca63c 304px,#cca338 307px,#cca132 310px,#cc9e2d 313px,#cc9c27 316px,#cc9921 319px,#cc961b 322px,#cc9315 325px,#cc9114 328px,#cc9014 331px,#cc8f13 334px,#cc8e13 337px,#cc8d13 340px,#cc8b12 343px,#cc8a12 346px,#cc8912 349px,#cc8811 352px,#cc8711 355px,#cc8611 358px,#cc8511 361px,#cc8510 363px)"></i><i style="margin-left:61px;width:367px;background:linear-gradient(90deg,#42ccb1 0px,#42ccb0 8px,#42ccb0 16px,#42ccaf 24px,#42ccae 32px,#42ccad 40px,#42ccac 48px,#42ccab 56px,#42ccaa 64px,#42cca9 72px,#42cca7 80px,#42cca5 88px,#42cca3 96px,#42cca2 104px,#42cca1 112px,#42cc9f 120px,#42cc9c 128px,#42cc99 136px,#42cc98 139px,#42cc97 142px,#42cc95 145px,#42cc94 148px,#44cc93 151px,#48cc94 154px,#4dcc94 157px,#51cc94 160px,#55cc94 163px,#5acc91 166px,#5ecc8d 169px,#64cc89 172px,#69cc87 175px,#6ecc85 178px,#74cc85 181px,#8acc88 189px,#a2cb8d 197px,#a9ca84 205px,#afc97b 213px,#b7c877 221px,#bec773 229px,#c3c56f 237px,#c6c269 245px,#c9c066 253px,#ccbe68 261px,#ccbb68 269px,#ccb761 277px,#ccb55f 280px,#ccb35c 283px,#ccb259 286px,#ccb055 289px,#ccae52 292px,#ccac4e 295px,#ccaa4a 298px,#cca846 301px,#cca541 304px,#cca33c 307px,#cca037 310px,#cc9e32 313px,#cc9b2c 316px,#cc9826 319px,#cc9520 322px,#cc921b 325px,#cc8f14 328px,#cc8e13 331px,#cc8c13 334px,#cc8b12 337px,#cc8a12 340px,#cc8912 343px,#cc8811 346px,#cc8711 349px,#cc8611 352px,#cc8510 355px,#cc8410 358px,#cc8310 361px,#cc8210 364px,#cc810f 367px)"></i><i style="margin-left:62px;width:369px;background:linear-gradient(90deg,#42ccb2 0px,#42ccb1 8px,#42ccb0 16px,#42ccb0 24px,#42ccaf 32px,#42ccae 40px,#42ccad 48px,#42ccac 56px,#42ccab 64px,#42cca9 72px,#42cca8 80px,#42cca6 88px,#42cca4 96px,#42cca3 104px,#42cca1 112px,#42cc9f 120px,#42cc9d 128px,#42cc9a 136px,#42cc99 139px,#42cc97 142px,#42cc96 145px,#43cc95 148px,#47cc95 151px,#4dcc96 154px,#52cc97 157px,#56cc97 160px,#5acc97 163px,#5ecc95 166px,#64cc91 169px,#69cc8d 172px,#6fcc8b 175px,#74cc8a 178px,#88cc8b 186px,#a3cb95 194px,#aaca8b 202px,#b0c982 210px,#b8c87e 218px,#bfc77a 226px,#c4c675 234px,#c7c36f 242px,#cac16d 250px,#ccbf6f 258px,#ccbc6e 266px,#ccb768 274px,#ccb361 282px,#ccb15e 285px,#ccb05a 288px,#ccae57 291px,#ccac53 294px,#ccaa4f 297px,#cca74a 300px,#cca546 303px,#cca341 306px,#cca03c 309px,#cc9d36 312px,#cc9b31 315px,#cc982b 318px,#cc9526 321px,#cc9220 324px,#cc8f1b 327px,#cc8c15 330px,#cc8a12 333px,#cc8912 336px,#cc8811 339px,#cc8711 342px,#cc8511 345px,#cc8410 348px,#cc8310 351px,#cc8210 354px,#cc8110 357px,#cc800f 360px,#cc800f 363px,#cc7f0f 366px,#cc7e0e 369px)"></i><i style="margin-left:62px;width:372px;background:linear-gradient(90deg,#42ccb2 0px,#42ccb2 8px,#42ccb1 16px,#42ccb0 24px,#42ccb0 32px,#42ccaf 40px,#42ccae 48px,#42ccad 56px,#42ccac 64px,#42ccab 72px,#42cca9 80px,#42cca7 88px,#42cca5 96px,#42cca4 104px,#42cca2 112px,#42cca0 120px,#42cc9e 128px,#42cc9b 136px,#42cc9a 139px,#42cc99 142px,#42cc97 145px,#45cc97 148px,#4acc97 151px,#50cc98 154px,#55cc99 157px,#59cc99 160px,#5dcc99 163px,#62cc99 166px,#67cc96 169px,#6dcc92 172px,#73cc90 175px,#78cc8e 178px,#8bcc90 186px,#a6cb99 194px,#adca90 202px,#b3c987 210px,#bac884 218px,#c1c87f 226px,#c5c67b 234px,#c8c375 242px,#cbc174 250px,#ccbf77 258px,#ccbb73 266px,#ccb76d 274px,#ccb366 282px,#ccae5d 290px,#ccac59 293px,#ccaa55 296px,#cca851 299px,#cca64c 302px,#cca348 305px,#cca142 308px,#cc9e3d 311px,#cc9b37 314px,#cc9832 317px,#cc952c 320px,#cc9327 323px,#cc9022 326px,#cc8d1c 329px,#cc8a17 332px,#cc8711 335px,#cc8511 338px,#cc8410 341px,#cc8310 344px,#cc8210 347px,#cc810f 350px,#cc800f 353px,#cc7f0f 356px,#cc7e0f 359px,#cc7d0e 362px,#cc7c0e 365px,#cc7c0e 368px,#cc7b0e 371px,#cc7a0e 372px)"></i><i style="margin-left:63px;width:375px;background:linear-gradient(90deg,#42ccb3 0px,#42ccb2 8px,#42ccb2 16px,#42ccb1 24px,#42ccb0 32px,#42ccb0 40px,#42ccaf 48px,#42ccae 56px,#42ccad 64px,#42ccab 72px,#42ccaa 80px,#42cca8 88px,#42cca7 96px,#42cca4 104px,#42cca3 112px,#42cca1 120px,#42cc9f 128px,#42cc9c 136px,#42cc9b 139px,#42cc9a 142px,#44cc99 145px,#48cc99 148px,#4fcc9a 151px,#55cc9b 154px,#59cc9b 157px,#5ecc9c 160px,#62cc9c 163px,#67cc9d 166px,#6dcc9a 169px,#73cc96 172px,#79cc94 175px,#89cc93 183px,#a3cc9c 191px,#afcb97 199px,#b4ca8f 207px,#bbc98a 215px,#c1c886 223px,#c5c682 231px,#c8c37b 239px,#cbc27b 247px,#ccc07f 255px,#ccbc7a 263px,#ccb874 271px,#ccb46d 279px,#ccaf64 287px,#ccaa5a 295px,#cca856 298px,#cca551 301px,#cca34c 304px,#cca046 307px,#cc9d41 310px,#cc9b3c 313px,#cc9836 316px,#cc9531 319px,#cc922c 322px,#cc8f27 325px,#cc8c21 328px,#cc891c 331px,#cc8617 334px,#cc8312 337px,#cc8210 340px,#cc810f 343px,#cc800f 346px,#cc7f0f 349px,#cc7e0e 352px,#cc7d0e 355px,#cc7c0e 358px,#cc7b0e 361px,#cc7a0d 364px,#cc790d 367px,#cc780d 370px,#cc770d 373px,#cc770d 375px)"></i><i style="margin-left:63px;width:378px;background:linear-gradient(90deg,#42ccb4 0px,#42ccb3 8px,#42ccb2 16px,#42ccb2 24px,#42ccb1 32px,#42ccb0 40px,#42ccb0 48px,#42ccaf 56px,#42ccae 64px,#42ccad 72px,#42ccab 80px,#42ccaa 88px,#42cca8 96px,#42cca6 104px,#42cca4 112px,#42cca2 120px,#42cca0 128px,#42cc9d 136px,#42cc9c 139px,#42cc9b 142px,#45cc9b 145px,#4bcc9c 148px,#53cc9d 151px,#58cc9d 154px,#5dcc9e 157px,#61cc9e 160px,#66cc9f 163px,#6bcca0 166px,#71cc9f 169px,#77cc9c 172px,#7dcc99 175px,#8dcc98 183px,#a5cca0 191px,#b1cb9c 199px,#b7ca94 207px,#bdc990 215px,#c3c88b 223px,#c7c687 231px,#c9c481 239px,#ccc283 247px,#ccbf84 255px,#ccbc7f 263px,#ccb879 271px,#ccb472 279px,#ccaf6a 287px,#ccaa5f 295px,#cca75a 298px,#cca554 301px,#cca24f 304px,#cc9f4a 307px,#cc9d45 310px,#cc9a40 313px,#cc973b 316px,#cc9435 319px,#cc9230 322px,#cc8f2b 325px,#cc8c26 328px,#cc8921 331px,#cc861c 334px,#cc8317 337px,#cc8012 340px,#cc7e0e 343px,#cc7d0e 346px,#cc7c0e 349px,#cc7b0e 352px,#cc7a0d 355px,#cc790d 358px,#cc780d 361px,#cc770d 364px,#cc760c 367px,#cc750c 370px,#cc750c 373px,#cc740c 376px,#cc730c 378px)"></i><i style="margin-left:64px;width:380px;background:linear-gradient(90deg,#42ccb4 0px,#42ccb4 8px,#42ccb3 16px,#42ccb3 24px,#42ccb2 32px,#42ccb1 40px,#42ccb0 48px,#42ccb0 56px,#42ccaf 64px,#42ccad 72px,#42ccac 80px,#42ccab 88px,#42cca9 96px,#42cca7 104px,#42cca5 112px,#42cca3 120px,#42cca1 128px,#42cca0 131px,#42cc9f 134px,#42cc9e 137px,#42cc9d 140px,#45cc9d 143px,#4bcc9e 146px,#53cc9f 149px,#5acca0 152px,#5fcca0 155px,#64cca1 158px,#69cca2 161px,#6ecca2 164px,#73cca3 167px,#79cca2 170px,#7fcc9f 173px,#90cc9c 181px,#a5cca2 189px,#b4cba1 197px,#b9ca99 205px,#bfc995 213px,#c5c891 221px,#c8c68d 229px,#cac488 237px,#ccc28b 245px,#ccc08a 253px,#ccbc85 261px,#ccb97f 269px,#ccb578 277px,#ccb070 285px,#ccaa63 293px,#cca356 301px,#cca051 304px,#cc9e4c 307px,#cc9b47 310px,#cc9842 313px,#cc963d 316px,#cc9338 319px,#cc9033 322px,#cc8d2e 325px,#cc8a29 328px,#cc8724 331px,#cc841f 334px,#cc811a 337px,#cc7e15 340px,#cc7c10 343px,#cc7a0d 346px,#cc790d 349px,#cc780d 352px,#cc770d 355px,#cc760c 358px,#cc750c 361px,#cc740c 364px,#cc730c 367px,#cc730c 370px,#cc720c 373px,#cc710c 376px,#cc700c 379px,#cc700c 380px)"></i><i style="margin-left:64px;width:384px;background:linear-gradient(90deg,#42ccb5 0px,#42ccb4 8px,#42ccb4 16px,#42ccb3 24px,#42ccb3 32px,#42ccb2 40px,#42ccb1 48px,#42ccb1 56px,#42ccb0 64px,#42ccaf 72px,#42ccad 80px,#42ccac 88px,#42ccaa 96px,#42cca8 104px,#42cca6 112px,#42cca4 120px,#42cca2 128px,#42cca1 131px,#42cca0 134px,#42cc9f 137px,#43cc9f 140px,#47cc9f 143px,#4fcca0 146px,#57cca2 149px,#5dcca2 152px,#62cca3 155px,#68cca3 158px,#6dcca4 161px,#72cca5 164px,#78cca6 167px,#7dcca7 170px,#84cca4 173px,#94cca1 181px,#a8cca6 189px,#b6cba6 197px,#bbca9e 205px,#c1c99b 213px,#c6c997 221px,#c9c691 229px,#cbc48f 237px,#ccc393 245px,#ccbf8f 253px,#ccbc8a 261px,#ccb984 269px,#ccb57e 277px,#ccb073 285px,#cca966 293px,#cca259 301px,#cca054 304px,#cc9d4f 307px,#cc9a4a 310px,#cc9845 313px,#cc9540 316px,#cc923c 319px,#cc8f37 322px,#cc8c32 325px,#cc8a2d 328px,#cc8728 331px,#cc8423 334px,#cc811e 337px,#cc7e1a 340px,#cc7b15 343px,#cc7810 346px,#cc760c 349px,#cc750c 352px,#cc740c 355px,#cc730c 358px,#cc720c 361px,#cc710c 364px,#cc710c 367px,#cc700c 370px,#cc6f0b 373px,#cc6e0b 376px,#cc6e0b 379px,#cc6d0b 382px,#cc6c0b 384px)"></i><i style="margin-left:65px;width:386px;background:linear-gradient(90deg,#42ccb5 0px,#42ccb5 8px,#42ccb4 16px,#42ccb4 24px,#42ccb3 32px,#42ccb3 40px,#42ccb2 48px,#42ccb1 56px,#42ccb1 64px,#42ccb0 72px,#42ccae 80px,#42ccad 88px,#42ccac 96px,#42ccaa 104px,#42cca8 112px,#42cca5 120px,#42cca3 128px,#42cca2 131px,#42cca1 134px,#42cca0 137px,#45cca0 140px,#4ccca2 143px,#55cca3 146px,#5ccca4 149px,#61cca5 152px,#67cca6 155px,#6dcca6 158px,#73cca7 161px,#78cca8 164px,#7ecca9 167px,#84ccaa 170px,#94cca6 178px,#a6cca8 186px,#b8cbac 194px,#bccba4 202px,#c2caa0 210px,#c7c99d 218px,#c9c797 226px,#cbc596 234px,#ccc399 242px,#ccc095 250px,#ccbd90 258px,#ccba8b 266px,#ccb685 274px,#ccb079 282px,#ccaa6c 290px,#cca35f 298px,#cc9c52 306px,#cc9a4d 309px,#cc9749 312px,#cc9444 315px,#cc913f 318px,#cc8e3a 321px,#cc8c36 324px,#cc8931 327px,#cc862c 330px,#cc8327 333px,#cc8023 336px,#cc7d1e 339px,#cc7a19 342px,#cc7815 345px,#cc7510 348px,#cc720c 351px,#cc710c 354px,#cc700c 357px,#cc6f0c 360px,#cc6e0b 363px,#cc6e0b 366px,#cc6d0b 369px,#cc6c0b 372px,#cc6b0b 375px,#cc6b0b 378px,#cc6a0b 381px,#cc690b 384px,#cc690b 386px)"></i><i style="margin-left:66px;width:388px;background:linear-gradient(90deg,#42cbb6 0px,#42ccb5 8px,#42ccb5 24px,#42ccb4 32px,#42ccb4 40px,#42ccb3 48px,#42ccb2 56px,#42ccb1 64px,#42ccb0 72px,#42ccaf 80px,#42ccae 88px,#42ccad 96px,#42ccab 104px,#42cca9 112px,#42cca6 120px,#42cca4 128px,#42cca3 131px,#42cca2 134px,#44cca2 137px,#4acca3 140px,#53cca5 143px,#5bcca6 146px,#61cca7 149px,#66cca8 152px,#6dcca8 155px,#73cca9 158px,#79ccaa 161px,#7fccab 164px,#85ccad 167px,#95ccab 175px,#a4ccab 183px,#b9ccb1 191px,#bdcbaa 199px,#c2caa6 207px,#c7c9a2 215px,#c9c79d 223px,#ccc69c 231px,#ccc49e 239px,#ccc19b 247px,#ccbe97 255px,#ccbb92 263px,#ccb78a 271px,#ccb17d 279px,#ccab71 287px,#cca465 295px,#cc9d58 303px,#cc964c 311px,#cc9347 314px,#cc9042 317px,#cc8e3e 320px,#cc8b39 323px,#cc8834 326px,#cc8530 329px,#cc822b 332px,#cc8027 335px,#cc7d23 338px,#cc7a1e 341px,#cc771a 344px,#cc7415 347px,#cc7111 350px,#cc6e0d 353px,#cc6d0b 356px,#cc6c0b 359px,#cc6b0b 362px,#cc6b0b 365px,#cc6a0b 368px,#cc690b 371px,#cc680b 374px,#cc680b 377px,#cc670b 380px,#cc660b 383px,#cc660b 386px,#cc650b 388px)"></i><i style="margin-left:66px;width:392px;background:linear-gradient(90deg,#42cbb6 0px,#42cbb6 8px,#42ccb6 16px,#42ccb5 24px,#42ccb5 32px,#42ccb4 40px,#42ccb4 48px,#42ccb3 56px,#42ccb2 64px,#42ccb2 72px,#42ccb1 80px,#42ccaf 88px,#42ccae 96px,#42ccad 104px,#42ccab 112px,#42cca8 120px,#42cca5 128px,#42cca4 131px,#42cca3 134px,#46cca4 137px,#4dcca5 140px,#57cca7 143px,#5ecca8 146px,#64cca9 149px,#6accaa 152px,#70ccab 155px,#77ccac 158px,#7dccad 161px,#84ccae 164px,#89ccb0 167px,#99ccb0 175px,#a8ccaf 183px,#bbccb5 191px,#bfcbae 199px,#c4caaa 207px,#c8c9a7 215px,#cac7a1 223px,#ccc6a4 231px,#ccc4a3 239px,#ccc1a0 247px,#ccbf9c 255px,#ccbb97 263px,#ccb68b 271px,#ccb07f 279px,#ccaa73 287px,#cca367 295px,#cc9c5b 303px,#cc954f 311px,#cc924a 314px,#cc8f45 317px,#cc8d41 320px,#cc8a3d 323px,#cc8738 326px,#cc8434 329px,#cc8230 332px,#cc7f2b 335px,#cc7c27 338px,#cc7923 341px,#cc771f 344px,#cc741a 347px,#cc7116 350px,#cc6e12 353px,#cc6b0e 356px,#cc690b 359px,#cc680b 362px,#cc670b 365px,#cc670b 368px,#cc660b 371px,#cc650b 374px,#cc650b 377px,#cc640b 380px,#cc630a 383px,#cc630a 386px,#cc620a 389px,#cc620a 392px)"></i><i style="margin-left:67px;width:394px;background:linear-gradient(90deg,#42cbb7 0px,#42cbb7 8px,#42cbb6 16px,#42cbb6 24px,#42ccb6 32px,#42ccb5 40px,#42ccb5 48px,#42ccb4 56px,#42ccb3 64px,#42ccb3 72px,#42ccb2 80px,#42ccb1 88px,#42ccaf 96px,#42ccae 104px,#42ccac 112px,#42ccaa 120px,#42cca9 123px,#42cca8 126px,#42cca7 129px,#42cca5 132px,#46cca5 135px,#4ecca7 138px,#57cca9 141px,#5fccaa 144px,#65ccab 147px,#6bccac 150px,#71ccad 153px,#78ccae 156px,#7fccaf 159px,#86ccb1 162px,#8cccb2 165px,#9bccb5 173px,#aaccb2 181px,#bbccb8 189px,#c1cbb3 197px,#c5cbaf 205px,#c9caac 213px,#cbc8a7 221px,#ccc7ab 229px,#ccc4a8 237px,#ccc2a5 245px,#ccbfa1 253px,#ccbb99 261px,#ccb68d 269px,#ccb082 277px,#cca976 285px,#cca36a 293px,#cc9c5e 301px,#cc9553 309px,#cc8e47 317px,#cc8b43 320px,#cc883f 323px,#cc853b 326px,#cc8337 329px,#cc8032 332px,#cc7d2e 335px,#cc7b2a 338px,#cc7826 341px,#cc7522 344px,#cc721e 347px,#cc6f1a 350px,#cc6d16 353px,#cc6a12 356px,#cc670e 359px,#cc650b 362px,#cc640b 365px,#cc630a 368px,#cc620a 371px,#cc620a 374px,#cc610a 377px,#cc610a 380px,#cc600a 383px,#cc5f0a 386px,#cc5f0a 389px,#cc5e0a 392px,#cc5e0a 394px)"></i><i style="margin-left:67px;width:397px;background:linear-gradient(90deg,#42cbb8 0px,#42cbb7 8px,#42cbb7 24px,#42cbb6 32px,#42cbb6 40px,#42ccb5 48px,#42ccb5 56px,#42ccb4 64px,#42ccb4 72px,#42ccb3 80px,#42ccb2 88px,#42ccb1 96px,#42ccaf 104px,#42ccae 112px,#42ccac 120px,#42ccab 123px,#42ccaa 126px,#42cca9 129px,#43cca8 132px,#48cca8 135px,#51cca9 138px,#5cccab 141px,#62ccac 144px,#68ccad 147px,#6eccae 150px,#75ccb0 153px,#7cccb1 156px,#83ccb2 159px,#89ccb3 162px,#90ccb5 165px,#9fccb8 173px,#aeccb6 181px,#bdccba 189px,#c3cbb6 197px,#c7cbb3 205px,#cacab0 213px,#ccc8ad 221px,#ccc7af 229px,#ccc4ac 237px,#ccc2aa 245px,#ccbfa4 253px,#ccba99 261px,#ccb58e 269px,#ccaf83 277px,#cca877 285px,#cca16c 293px,#cc9b61 301px,#cc9455 309px,#cc8d4b 317px,#cc8640 325px,#cc833c 328px,#cc8038 331px,#cc7d34 334px,#cc7b30 337px,#cc782c 340px,#cc7528 343px,#cc7224 346px,#cc7020 349px,#cc6d1c 352px,#cc6a18 355px,#cc6714 358px,#cc6410 361px,#cc620c 364px,#cc600a 367px,#cc5f0a 370px,#cc5e0a 373px,#cc5e0a 376px,#cc5d0a 379px,#cc5d0a 382px,#cc5c0a 385px,#cc5b0a 388px,#cc5b0a 391px,#cc5a0a 394px,#cc5a0a 397px)"></i><i style="margin-left:68px;width:400px;background:linear-gradient(90deg,#42cbb8 0px,#42cbb8 16px,#42cbb7 24px,#42cbb7 40px,#42cbb6 48px,#42ccb6 56px,#42ccb5 64px,#42ccb5 72px,#42ccb4 80px,#42ccb3 88px,#42ccb2 96px,#42ccb1 104px,#42ccaf 112px,#42ccad 120px,#42ccac 123px,#42ccac 126px,#42ccab 129px,#46ccab 132px,#4eccac 135px,#59ccad 138px,#62ccae 141px,#67ccaf 144px,#6eccb0 147px,#74ccb1 150px,#7bccb2 153px,#82ccb4 156px,#89ccb5 159px,#8fccb6 162px,#a0ccba 170px,#aeccba 178px,#bbccbb 186px,#c4cbbb 194px,#c7cbb7 202px,#cacab5 210px,#ccc9b2 218px,#ccc7b3 226px,#ccc5b1 234px,#ccc3af 242px,#ccbfa7 250px,#ccba9c 258px,#ccb591 266px,#ccaf86 274px,#cca87b 282px,#cca270 290px,#cc9b65 298px,#cc945b 306px,#cc8d51 314px,#cc8646 322px,#cc8442 325px,#cc813e 328px,#cc7e3b 331px,#cc7c37 334px,#cc7933 337px,#cc762f 340px,#cc732b 343px,#cc7127 346px,#cc6e23 349px,#cc6b1f 352px,#cc681c 355px,#cc6618 358px,#cc6314 361px,#cc6010 364px,#cc5d0c 367px,#cc5b0a 370px,#cc5b0a 373px,#cc5a0a 376px,#cc590a 379px,#cc590a 382px,#cc580a 385px,#cc570a 388px,#cc5709 391px,#cc5609 394px,#cc5609 397px,#cc5509 400px)"></i><i style="margin-left:68px;width:403px;background:linear-gradient(90deg,#42cbb9 0px,#42cbb9 8px,#42cbb8 16px,#42cbb8 32px,#42cbb7 40px,#42cbb7 56px,#42cbb6 64px,#42ccb6 72px,#42ccb5 80px,#42ccb4 88px,#42ccb3 96px,#42ccb2 104px,#42ccb1 112px,#42ccaf 120px,#42ccae 123px,#42ccae 126px,#43ccad 129px,#48ccad 132px,#52ccaf 135px,#5dccb0 138px,#65ccb1 141px,#6bccb2 144px,#71ccb2 147px,#78ccb3 150px,#7fccb5 153px,#85ccb6 156px,#8cccb7 159px,#93ccb9 162px,#a4ccbc 170px,#b1ccbe 178px,#bdccbe 186px,#c5ccbe 194px,#c9cbbb 202px,#cbcab6 210px,#ccc9b9 218px,#ccc7b7 226px,#ccc6b5 234px,#ccc3b0 242px,#ccbea6 250px,#ccb99c 258px,#ccb392 266px,#ccad87 274px,#cca77c 282px,#cca072 290px,#cc9a68 298px,#cc935e 306px,#cc8c54 314px,#cc854a 322px,#cc7e3f 330px,#cc7b3c 333px,#cc7938 336px,#cc7634 339px,#cc7330 342px,#cc712d 345px,#cc6e29 348px,#cc6b25 351px,#cc6821 354px,#cc661d 357px,#cc631a 360px,#cc6016 363px,#cc5d12 366px,#cc5a0e 369px,#cc570b 372px,#cc5609 375px,#cc5509 378px,#cc5509 381px,#cc5409 384px,#cc5309 387px,#cc5309 390px,#cc5209 393px,#cc5209 396px,#cb5109 399px,#cb5109 403px)"></i><i style="margin-left:69px;width:406px;background:linear-gradient(90deg,#42cbb9 0px,#42cbb9 24px,#42cbb8 32px,#42cbb8 48px,#42cbb7 56px,#42cbb7 64px,#42cbb6 72px,#42cbb6 80px,#42ccb5 88px,#42ccb5 96px,#42ccb4 104px,#42ccb2 112px,#42ccb1 120px,#42ccb0 123px,#42ccb0 126px,#46ccb0 129px,#4fccb1 132px,#5accb2 135px,#64ccb4 138px,#6accb4 141px,#70ccb5 144px,#77ccb5 147px,#7eccb6 150px,#85ccb7 153px,#8bccb9 156px,#92ccba 159px,#a4ccbe 167px,#b2ccc0 175px,#bdccc0 183px,#c6ccc1 191px,#c9cbbe 199px,#cbcaba 207px,#ccc9bd 215px,#ccc8bb 223px,#ccc6ba 231px,#ccc3b2 239px,#ccbea8 247px,#ccb99f 255px,#ccb394 263px,#ccad8a 271px,#cca780 279px,#cca176 287px,#cc9a6d 295px,#cc9363 303px,#cc8d59 311px,#cc864f 319px,#cc7f45 327px,#cc773b 335px,#cc7538 338px,#cc7234 341px,#cc6f30 344px,#cc6c2d 347px,#cc6a29 350px,#cc6726 353px,#cc6422 356px,#cc611e 359px,#cc5e1b 362px,#cc5b17 365px,#cc5913 368px,#cc5610 371px,#cb530c 374px,#cb5109 377px,#cb5009 380px,#cb5009 383px,#cb4f09 386px,#cb4e09 389px,#cb4e09 392px,#cb4d09 395px,#cb4d09 398px,#cb4c09 401px,#cb4c09 406px)"></i><i style="margin-left:70px;width:408px;background:linear-gradient(90deg,#42caba 0px,#42caba 16px,#42cbb9 24px,#42cbb9 48px,#42cbb8 56px,#42cbb8 64px,#42cbb7 72px,#42cbb7 80px,#42cbb6 88px,#42ccb6 96px,#42ccb5 104px,#42ccb4 112px,#42ccb3 115px,#42ccb3 118px,#42ccb2 121px,#42ccb2 124px,#46ccb2 127px,#4fccb3 130px,#5bccb5 133px,#65ccb6 136px,#6bccb7 139px,#71ccb7 142px,#78ccb8 145px,#7fccb9 148px,#86ccba 151px,#8dccba 154px,#94ccbc 157px,#a5ccbf 165px,#b4ccc2 173px,#beccc3 181px,#c7ccc4 189px,#cacbc1 197px,#cccabe 205px,#cccac0 213px,#ccc8bf 221px,#ccc6bb 229px,#ccc2b2 237px,#ccbda9 245px,#ccb89f 253px,#ccb296 261px,#ccac8c 269px,#cca683 277px,#cca079 285px,#cc9970 293px,#cc9366 301px,#cc8c5d 309px,#cc8553 317px,#cc7e4a 325px,#cc7740 333px,#cc743d 336px,#cc7139 339px,#cc6e35 342px,#cc6c32 345px,#cc692e 348px,#cc662b 351px,#cc6327 354px,#cb6024 357px,#cb5e20 360px,#cb5b1d 363px,#cb5819 366px,#cb5515 369px,#cb5212 372px,#cb4f0e 375px,#cb4d0b 378px,#cb4b09 381px,#cb4a09 384px,#cb4a09 390px,#cb4909 393px,#cb4909 396px,#cb4809 399px,#cb4809 402px,#cb4709 405px,#cb4709 408px)"></i><i style="margin-left:70px;width:411px;background:linear-gradient(90deg,#42cabb 0px,#42caba 8px,#42caba 40px,#42cbb9 48px,#42cbb9 64px,#42cbb8 72px,#42cbb8 80px,#42cbb7 88px,#42cbb7 96px,#42cbb6 104px,#42ccb5 112px,#42ccb5 118px,#42ccb4 121px,#43ccb4 124px,#49ccb5 127px,#53ccb6 130px,#60ccb8 133px,#68ccb9 136px,#6eccb9 139px,#75ccba 142px,#7cccbb 145px,#83ccbb 148px,#8accbc 151px,#90ccbd 154px,#97ccbe 157px,#a8ccc1 165px,#b6ccc4 173px,#c0ccc5 181px,#c8ccc6 189px,#cbccc4 197px,#cccbc2 205px,#cccac3 213px,#ccc9c1 221px,#ccc5ba 229px,#ccc1b1 237px,#ccbca8 245px,#ccb69f 253px,#ccb196 261px,#ccab8d 269px,#cca484 277px,#cc9e7b 285px,#cc9871 293px,#cc9168 301px,#cc8a5f 309px,#cc8356 317px,#cc7c4d 325px,#cc7543 333px,#cb6d3a 341px,#cb6b37 344px,#cb6833 347px,#cb6530 350px,#cb622c 353px,#cb5f29 356px,#cb5d25 359px,#cb5a22 362px,#cb571e 365px,#cb541b 368px,#cb5117 371px,#cb4f14 374px,#cb4c10 377px,#cb490d 380px,#cb4609 383px,#cb4509 386px,#cb4509 389px,#cb4409 392px,#cb4409 398px,#cb4309 401px,#cb4309 404px,#cb4209 407px,#cb4209 411px)"></i><i style="margin-left:71px;width:414px;background:linear-gradient(90deg,#42cabb 0px,#42cabb 32px,#42caba 40px,#42caba 64px,#42cbb9 72px,#42cbb9 88px,#42cbb8 96px,#42cbb8 104px,#42cbb7 112px,#42cbb7 115px,#42cbb6 118px,#42cbb6 121px,#46ccb6 124px,#50ccb7 127px,#5cccb9 130px,#67ccba 133px,#6dccbb 136px,#74ccbc 139px,#7accbd 142px,#81ccbd 145px,#88ccbe 148px,#8fccbf 151px,#96ccc0 154px,#a7ccc2 162px,#b6ccc5 170px,#c1ccc7 178px,#c8ccc8 186px,#cbccc6 194px,#cccbc6 202px,#cccac6 210px,#ccc8c2 218px,#ccc5ba 226px,#ccc0b2 234px,#ccbbaa 242px,#ccb6a1 250px,#ccb098 258px,#ccaa90 266px,#cca487 274px,#cc9d7e 282px,#cc9775 290px,#cc906c 298px,#cc8964 306px,#cc825b 314px,#cb7b52 322px,#cb7449 330px,#cb6d40 338px,#cb6637 346px,#cb6333 349px,#cb6030 352px,#cb5d2d 355px,#cb5b29 358px,#cb5826 361px,#cb5522 364px,#cb521f 367px,#cb4f1c 370px,#cb4d18 373px,#cb4a15 376px,#cb4711 379px,#ca440e 382px,#ca410b 385px,#ca4009 388px,#ca3f08 391px,#ca3f08 394px,#ca3e08 397px,#ca3e08 403px,#ca3d08 406px,#ca3d08 414px)"></i><i style="margin-left:71px;width:417px;background:linear-gradient(90deg,#42cabc 0px,#42cabc 16px,#42cabb 24px,#42cabb 64px,#42caba 72px,#42caba 88px,#42cbb9 96px,#42cbb9 104px,#42cbb8 112px,#42cbb8 118px,#43cbb8 121px,#49cbb8 124px,#54cbba 127px,#61cbbb 130px,#6accbd 133px,#70ccbd 136px,#77ccbe 139px,#7eccbf 142px,#85ccc0 145px,#8cccc0 148px,#93ccc1 151px,#9accc2 154px,#abccc4 162px,#b8ccc6 170px,#c3ccc8 178px,#c9ccc9 186px,#ccccc8 194px,#cccbc8 202px,#cccac7 210px,#ccc7c0 218px,#ccc3b9 226px,#ccbeb1 234px,#ccb9a9 242px,#ccb4a1 250px,#ccae98 258px,#cca890 266px,#cca188 274px,#cc9b7f 282px,#cc9477 290px,#cc8d6e 298px,#cb8665 306px,#cb7f5d 314px,#cb7854 322px,#cb714b 330px,#cb6a43 338px,#cb633a 346px,#cb6037 349px,#cb5e33 352px,#cb5b30 355px,#cb582d 358px,#cb552a 361px,#ca5326 364px,#ca5023 367px,#ca4d20 370px,#ca4a1c 373px,#ca4819 376px,#ca4516 379px,#ca4212 382px,#ca3f0f 385px,#ca3c0c 388px,#ca3a08 391px,#ca3908 394px,#ca3908 400px,#ca3808 403px,#ca3808 409px,#ca3708 412px,#ca3708 417px)"></i><i style="margin-left:72px;width:419px;background:linear-gradient(90deg,#42cabc 0px,#42cabc 56px,#42cabb 64px,#42cabb 96px,#42caba 104px,#42caba 118px,#46cbba 121px,#50cbbb 124px,#5dcbbd 127px,#69cbbe 130px,#6fcbbf 133px,#76cbbf 136px,#7dcbc0 139px,#84ccc1 142px,#8bccc2 145px,#92ccc3 148px,#99ccc4 151px,#aaccc6 159px,#b8ccc7 167px,#c2ccc9 175px,#c9ccca 183px,#ccccca 191px,#cccbca 199px,#cccac7 207px,#ccc6c0 215px,#ccc2b9 223px,#ccbdb2 231px,#ccb8aa 239px,#ccb2a2 247px,#ccac9a 255px,#cca692 263px,#cca08a 271px,#cc9982 279px,#cb927a 287px,#cb8c72 295px,#cb8569 303px,#cb7e61 311px,#cb7759 319px,#cb7050 327px,#cb6948 335px,#cb623f 343px,#ca5b37 351px,#ca5833 354px,#ca5530 357px,#ca522d 360px,#ca502a 363px,#ca4d27 366px,#ca4a23 369px,#ca4820 372px,#ca451d 375px,#ca421a 378px,#ca3f16 381px,#ca3c13 384px,#ca3a10 387px,#ca370d 390px,#ca3409 393px,#ca3308 396px,#ca3308 399px,#ca3208 402px,#ca3208 411px,#ca3108 414px,#ca3108 419px)"></i><i style="margin-left:73px;width:422px;background:linear-gradient(90deg,#42cabd 0px,#42cabd 48px,#42cabc 56px,#42cabc 104px,#42cabb 112px,#42cabb 115px,#44cabb 118px,#4ccabc 121px,#59cabe 124px,#66cbbf 127px,#6ecbc0 130px,#74cbc1 133px,#7bcbc2 136px,#82cbc2 139px,#89cbc3 142px,#90cbc4 145px,#97cbc5 148px,#9eccc5 151px,#aeccc7 159px,#bcccc9 167px,#c5ccca 175px,#cacccb 183px,#cccccb 191px,#cccbc9 199px,#ccc8c4 207px,#ccc4bd 215px,#ccbfb6 223px,#ccb9af 231px,#ccb4a8 239px,#ccaea0 247px,#cca799 255px,#cba191 263px,#cb9b89 271px,#cb9482 279px,#cb8e7a 287px,#cb8772 295px,#cb806a 303px,#cb7962 311px,#cb725a 319px,#cb6b52 327px,#cb644a 335px,#ca5d42 343px,#ca5639 351px,#ca5336 354px,#ca5133 357px,#ca4e30 360px,#ca4b2d 363px,#ca492a 366px,#ca4627 369px,#ca4324 372px,#ca4021 375px,#ca3e1e 378px,#ca3b1b 381px,#ca3817 384px,#ca3514 387px,#ca3311 390px,#ca300e 393px,#ca2d0b 396px,#ca2c0a 399px,#ca2b0a 402px,#ca2b0a 420px,#ca2a0a 422px)"></i><i style="margin-left:73px;width:425px;background:linear-gradient(90deg,#42c9be 0px,#42c9be 16px,#42c9bd 24px,#42c9bd 104px,#42cabd 107px,#42cabd 113px,#43cabd 116px,#49cabe 119px,#55cabf 122px,#63cac0 125px,#6ccac1 128px,#73cac2 131px,#7acbc3 134px,#81cbc3 137px,#88cbc4 140px,#8fcbc5 143px,#96cbc6 146px,#9dcbc6 149px,#adccc8 157px,#bbccca 165px,#c5cccb 173px,#cacccc 181px,#cccccc 189px,#cccac8 197px,#ccc6c3 205px,#ccc1bc 213px,#ccbcb6 221px,#ccb6af 229px,#ccb0a8 237px,#ccaaa1 245px,#cba49a 253px,#cb9e93 261px,#cb978c 269px,#cb9185 277px,#cb8a7d 285px,#cb8476 293px,#cb7d6e 301px,#cb7667 309px,#cb6f5f 317px,#cb6857 325px,#cb6250 333px,#cb5b48 341px,#cb5845 344px,#cb5542 347px,#cb533f 350px,#cb503c 353px,#cb4d39 356px,#cb4b36 359px,#cb4833 362px,#cb4530 365px,#cb432d 368px,#cb402a 371px,#cb3d27 374px,#cb3a24 377px,#cb3821 380px,#cb351e 383px,#cb321b 386px,#cb2f18 389px,#cb2d15 392px,#cb2a12 395px,#cb270f 398px,#cb240c 401px,#cb240b 404px,#cb240b 419px,#cb230b 422px,#cb230b 425px)"></i><i style="margin-left:74px;width:427px;background:linear-gradient(90deg,#42c9be 0px,#42c9be 113px,#46c9bf 116px,#50c9c0 119px,#5ecac1 122px,#6acac3 125px,#71cac3 128px,#78cac4 131px,#7fcac5 134px,#86cac5 137px,#8dcbc6 140px,#94cbc7 143px,#9acbc7 146px,#abcbc9 154px,#b9ccca 162px,#c4cccb 170px,#cacccc 178px,#cccbcc 186px,#ccc6c7 194px,#ccc1c1 202px,#ccbbbb 210px,#ccb5b5 218px,#ccafaf 226px,#cca9a8 234px,#cca3a2 242px,#cc9d9b 250px,#cc9694 258px,#cc908d 266px,#cc8a86 274px,#cc837f 282px,#cc7d77 290px,#cc7670 298px,#cc6f69 306px,#cc6861 314px,#cc6159 322px,#cc5a52 330px,#cb534a 338px,#cb5147 341px,#cb4e44 344px,#cb4b41 347px,#cb493e 350px,#cb463b 353px,#cb4338 356px,#cb4136 359px,#cb3e33 362px,#cb3b30 365px,#cb392d 368px,#cb362a 371px,#cb3327 374px,#cb3124 377px,#cb2e21 380px,#cb2b1e 383px,#cb281b 386px,#cb2618 389px,#cb2315 392px,#cb2012 395px,#cb1d0e 398px,#cb1c0d 401px,#cb1c0d 427px)"></i><i style="margin-left:75px;width:430px;background:linear-gradient(90deg,#42c9bf 0px,#42c9bf 80px,#42c9c0 88px,#42c9c0 110px,#44c9c0 113px,#4bc9c1 116px,#58c9c2 119px,#65c9c3 122px,#6dcac4 125px,#73cac5 128px,#7acac5 131px,#81cac6 134px,#88cac7 137px,#8fcac7 140px,#96cbc8 143px,#9dcbc9 146px,#adcbca 154px,#bbcbcb 162px,#c4cbcc 170px,#cacccc 178px,#cccacc 186px,#ccc3c7 194px,#ccbcc2 202px,#ccb6bc 210px,#ccafb5 218px,#cca9ae 226px,#cca3a7 234px,#cc9c9f 242px,#cc9598 250px,#cc8e91 258px,#cc888a 266px,#cc8083 274px,#cc797b 282px,#cc7274 290px,#cc6b6c 298px,#cc6365 306px,#cc5c5d 314px,#cc5455 322px,#cc4d4e 330px,#cc4a4b 333px,#cc4748 336px,#cc4445 339px,#cc4142 342px,#cc3f3f 345px,#cc3c3c 348px,#cc3939 351px,#cc3636 354px,#cc3333 357px,#cc3030 360px,#cc2e2d 363px,#cc2b2a 366px,#cc2827 369px,#cc2524 372px,#cc2321 375px,#cc201e 378px,#cc1d1b 381px,#cc1a18 384px,#cc1815 387px,#cc1512 390px,#cc120f 393px,#cc120f 399px,#cc130f 402px,#cc130e 405px,#cc130e 417px,#cc140e 420px,#cc140e 430px)"></i><i style="margin-left:75px;width:433px;background:linear-gradient(90deg,#42c9bf 0px,#42c9c0 8px,#42c9c0 72px,#42c9c1 80px,#42c8c1 88px,#42c8c1 107px,#42c8c2 110px,#45c8c2 113px,#4ec8c3 116px,#5bc9c4 119px,#66c9c5 122px,#6dc9c5 125px,#73c9c6 128px,#7ac9c7 131px,#81c9c7 134px,#88c9c8 137px,#8fc9c8 140px,#96c9c9 143px,#a7c9ca 151px,#b6cacb 159px,#c1cacc 167px,#c9cbcc 175px,#cccacc 183px,#ccc4ca 191px,#ccbdc5 199px,#ccb5bf 207px,#ccaeb9 215px,#cca7b2 223px,#cca0ac 231px,#cc99a5 239px,#cc929d 247px,#cc8b94 255px,#cc848d 263px,#cc7d85 271px,#cc767d 279px,#cc6f75 287px,#cc676d 295px,#cc6066 303px,#cc585e 311px,#cc5156 319px,#cc494e 327px,#cc464b 330px,#cc4448 333px,#cc4145 336px,#cc3e42 339px,#cc3b3f 342px,#cc383c 345px,#cc3539 348px,#cc3236 351px,#cc2f33 354px,#cc2c30 357px,#cc292d 360px,#cc262a 363px,#cc2427 366px,#cc2124 369px,#cc1e21 372px,#cc1b1e 375px,#cc181b 378px,#cc1518 381px,#cc1215 384px,#cc0f11 387px,#cc0e11 390px,#cc0e11 396px,#cc0f11 399px,#cc0f11 411px,#cc0f10 414px,#cc0f10 433px)"></i><i style="margin-left:76px;width:435px;background:linear-gradient(90deg,#42c9c0 0px,#42c9c0 24px,#42c9c1 32px,#42c8c1 40px,#42c8c1 72px,#42c8c2 80px,#42c8c2 96px,#41c7c3 104px,#41c7c3 107px,#43c7c3 110px,#49c7c4 113px,#54c7c5 116px,#61c7c6 119px,#68c7c6 122px,#6fc7c7 125px,#75c7c7 128px,#7cc7c8 131px,#83c7c9 134px,#8ac7c9 137px,#91c7ca 140px,#98c8ca 143px,#a9c8cb 151px,#b7c9cc 159px,#c2c9cc 167px,#c7c8cc 175px,#ccc8cc 183px,#ccc2c9 191px,#ccbac5 199px,#ccb2bf 207px,#ccaab9 215px,#cca2b2 223px,#cc9bac 231px,#cc93a5 239px,#cc8c9e 247px,#cc8497 255px,#cc7c8f 263px,#cc7587 271px,#cc6e7d 279px,#cc6775 287px,#cc606d 295px,#cc5864 303px,#cc515c 311px,#cc4954 319px,#cc4651 322px,#cc434e 325px,#cc414b 328px,#cc3e48 331px,#cc3b45 334px,#cc3842 337px,#cc353e 340px,#cc323b 343px,#cc2f38 346px,#cc2c35 349px,#cc2932 352px,#cc262f 355px,#cc232c 358px,#cc2029 361px,#cc1e26 364px,#cc1b23 367px,#cc181f 370px,#cc151c 373px,#cc1219 376px,#cc0f16 379px,#cc0d14 382px,#cc0d14 400px,#cc0d13 403px,#cc0e13 406px,#cc0e13 426px,#cc0e12 434px,#cc0e12 435px)"></i><i style="margin-left:77px;width:438px;background:linear-gradient(90deg,#42c8c1 0px,#42c8c1 32px,#42c8c2 40px,#42c8c2 64px,#42c8c3 72px,#41c7c3 80px,#41c7c3 88px,#41c6c4 96px,#41c6c4 99px,#41c5c4 102px,#41c5c4 105px,#42c4c4 108px,#48c4c5 111px,#52c5c6 114px,#5ec5c7 117px,#66c5c7 120px,#6cc5c8 123px,#73c5c8 126px,#79c5c9 129px,#80c5c9 132px,#87c5ca 135px,#8fc6ca 138px,#95c6cb 141px,#a7c7cc 149px,#b6c7cc 157px,#c1c8cc 165px,#c6c6cc 173px,#ccc6cc 181px,#ccc1ca 189px,#ccb8c6 197px,#ccb0c0 205px,#cca8ba 213px,#cca0b4 221px,#cc98ad 229px,#cc90a6 237px,#cc889f 245px,#cc8098 253px,#cc7891 261px,#cc7089 269px,#cc6882 277px,#cc607a 285px,#cc5872 293px,#cc5168 301px,#cc4a5f 309px,#cc475b 312px,#cc4458 315px,#cc4155 318px,#cc3f52 321px,#cc3c4e 324px,#cc394b 327px,#cc3648 330px,#cc3345 333px,#cc3041 336px,#cc2d3e 339px,#cc2b3b 342px,#cc2838 345px,#cc2534 348px,#cc2231 351px,#cc1f2e 354px,#cc1c2b 357px,#cc1928 360px,#cc1624 363px,#cc1321 366px,#cc101e 369px,#cc0d1b 372px,#cc0b19 375px,#cc0b18 378px,#cc0c18 381px,#cc0c18 387px,#cc0c17 390px,#cc0c17 402px,#cc0c16 405px,#cc0c16 411px,#cc0d16 414px,#cc0d16 417px,#cc0d15 425px,#cc0d15 438px)"></i><i style="margin-left:77px;width:441px;background:linear-gradient(90deg,#42c8c1 0px,#42c8c2 8px,#42c8c2 40px,#42c8c3 48px,#41c7c3 56px,#41c7c3 64px,#41c6c3 72px,#41c5c4 80px,#41c5c4 88px,#40c4c5 96px,#40c3c5 99px,#40c3c5 102px,#40c2c5 105px,#42c2c6 108px,#49c2c6 111px,#54c2c7 114px,#5fc3c8 117px,#65c3c8 120px,#6cc3c9 123px,#72c3c9 126px,#79c3ca 129px,#80c3cb 132px,#87c3cb 135px,#8ec4cb 138px,#a0c4cc 146px,#b0c5cc 154px,#bdc7cc 162px,#c3c5cc 170px,#cbc6cc 178px,#ccc1cb 186px,#ccb9c7 194px,#ccb0c3 202px,#cca8bd 210px,#cc9fb7 218px,#cc97b0 226px,#cc8ea9 234px,#cc86a2 242px,#cc7e9b 250px,#cc7694 258px,#cc6e8d 266px,#cc6685 274px,#cc5e7d 282px,#cc5676 290px,#cc4e6e 298px,#cc4566 306px,#cc4263 309px,#cc3f60 312px,#cc3c5d 315px,#cc395a 318px,#cc3657 321px,#cc3353 324px,#cc304f 327px,#cc2d4b 330px,#cc2b47 333px,#cc2843 336px,#cc2540 339px,#cc223c 342px,#cc1f39 345px,#cc1c36 348px,#cc1a32 351px,#cc172f 354px,#cc142b 357px,#cc1128 360px,#cc0e25 363px,#cc0b21 366px,#cc091f 369px,#cc091e 372px,#cc091e 375px,#cc091d 378px,#cc0a1d 381px,#cc0a1d 384px,#cc0a1c 387px,#cc0a1c 390px,#cc0a1b 393px,#cc0a1b 396px,#cc0b1b 399px,#cc0b1a 402px,#cc0b1a 411px,#cc0b19 414px,#cc0b19 417px,#cc0b18 425px,#cc0c18 433px,#cc0c17 441px)"></i><i style="margin-left:78px;width:443px;background:linear-gradient(90deg,#42c8c2 0px,#42c8c2 16px,#41c8c3 24px,#41c7c3 32px,#41c7c3 40px,#41c6c3 48px,#41c6c4 56px,#41c5c4 64px,#40c4c4 72px,#40c4c5 80px,#40c3c5 88px,#40c1c6 96px,#3fc1c6 99px,#3fc0c7 102px,#40c0c7 105px,#45c0c7 108px,#4fc0c8 111px,#59c0c9 114px,#61c1c9 117px,#67c1ca 120px,#6dc1ca 123px,#74c1cb 126px,#7bc1cb 129px,#82c1cc 132px,#89c2cc 135px,#90c2cc 138px,#a2c3cc 146px,#b2c4cc 154px,#bec4cc 162px,#c5c3cc 170px,#cbc3cc 178px,#ccbdcb 186px,#ccb6c7 194px,#ccacc2 202px,#cca3bc 210px,#cc9bb6 218px,#cc92b0 226px,#cc89a9 234px,#cc81a2 242px,#cc789b 250px,#cc7093 258px,#cc688c 266px,#cc5f84 274px,#cc577d 282px,#cc4f75 290px,#cc476d 298px,#cc446a 301px,#cc4067 304px,#cc3d64 307px,#cc3a62 310px,#cc375f 313px,#cc345c 316px,#cc3159 319px,#cc2e56 322px,#cc2a53 325px,#cc274f 328px,#cc244c 331px,#cc2149 334px,#cc1e46 337px,#cc1a43 340px,#cc1740 343px,#cc143d 346px,#cc1139 349px,#cc0e34 352px,#cc0c30 355px,#cc092c 358px,#cc0628 361px,#cc0627 364px,#cc0626 367px,#cc0625 370px,#cc0724 373px,#cc0724 376px,#cc0723 379px,#cc0722 382px,#cc0822 385px,#cc0821 388px,#cc0821 391px,#cc0820 394px,#cc0820 397px,#cc091f 400px,#cc091f 403px,#cc091e 406px,#cc091e 412px,#cc0a1d 420px,#cc0a1c 428px,#cc0a1b 436px,#cc0b1a 443px)"></i><i style="margin-left:79px;width:446px;background:linear-gradient(90deg,#41c8c3 0px,#41c7c3 8px,#41c7c3 16px,#41c6c3 24px,#41c6c4 32px,#41c5c4 40px,#41c5c4 48px,#40c4c4 56px,#40c4c5 64px,#40c3c5 72px,#40c2c6 80px,#3fc1c6 88px,#3fbfc7 96px,#3fbfc8 99px,#3fbec8 102px,#42bec8 105px,#49bec9 108px,#54beca 111px,#5dbeca 114px,#62becb 117px,#69bfcb 120px,#6fbfcc 123px,#76bfcc 126px,#7dbfcc 129px,#84bfcc 132px,#8bbfcc 135px,#9ec1cc 143px,#afc2cc 151px,#bac2cc 159px,#c3c0cc 167px,#cac1cc 175px,#cbbccb 183px,#ccb5c8 191px,#ccabc3 199px,#cca2be 207px,#cc99b8 215px,#cc90b2 223px,#cc87ab 231px,#cc7fa4 239px,#cc769d 247px,#cc6d96 255px,#cc658e 263px,#cc5c87 271px,#cc547f 279px,#cc4b77 287px,#cc4874 290px,#cc4572 293px,#cc426f 296px,#cc3f6c 299px,#cc3b69 302px,#cc3866 305px,#cc3563 308px,#cc3260 311px,#cc2f5d 314px,#cc2c5a 317px,#cc2857 320px,#cc2554 323px,#cc2251 326px,#cc1f4e 329px,#cc1c4b 332px,#cc1848 335px,#cc1544 338px,#cc1241 341px,#cc0f3e 344px,#cc0b3b 347px,#cc0838 350px,#cc0535 353px,#cc0333 356px,#cc0332 359px,#cc0332 362px,#cc0331 365px,#cc0331 368px,#cc0330 371px,#cc042e 374px,#cc042d 377px,#cc042b 380px,#cc052a 383px,#cc0529 386px,#cc0528 389px,#cc0627 392px,#cc0626 395px,#cc0625 398px,#cc0625 401px,#cc0724 404px,#cc0724 407px,#cc0723 410px,#cc0822 418px,#cc0820 426px,#cc091f 434px,#cc091e 442px,#cc091e 446px)"></i><i style="margin-left:79px;width:449px;background:linear-gradient(90deg,#41c7c3 0px,#41c6c3 8px,#41c6c4 16px,#41c5c4 24px,#41c5c4 32px,#40c4c4 40px,#40c4c5 48px,#40c3c5 56px,#40c2c6 64px,#3fc1c6 72px,#3fc0c7 80px,#3fbfc8 88px,#3ebdc8 96px,#3ebcc9 99px,#3ebcc9 102px,#43bbca 105px,#4bbcca 108px,#55bccb 111px,#5cbccb 114px,#62bccc 117px,#68bccc 120px,#6fbccc 123px,#76bccc 126px,#7dbdcc 129px,#84bdcc 132px,#8bbdcc 135px,#9ebfcc 143px,#afc0cc 151px,#babfcc 159px,#c5bfcc 167px,#cabfcc 175px,#cbb8cb 183px,#ccb2c8 191px,#cca8c3 199px,#cc9fbe 207px,#cc95b8 215px,#cc8cb2 223px,#cc83ab 231px,#cc7aa4 239px,#cc719d 247px,#cc6896 255px,#cc608e 263px,#cc5787 271px,#cc4e7f 279px,#cc4578 287px,#cc4275 290px,#cc3f72 293px,#cc3c6f 296px,#cc396c 299px,#cc3569 302px,#cc3266 305px,#cc2f63 308px,#cc2c60 311px,#cc285d 314px,#cc255a 317px,#cc2257 320px,#cc1f54 323px,#cc1c51 326px,#cc184e 329px,#cc154b 332px,#cc1248 335px,#cc0f45 338px,#cc0b42 341px,#cc083e 344px,#cc053b 347px,#cc0239 350px,#cc0238 353px,#cc0238 356px,#cc0337 359px,#cc0336 362px,#cc0336 365px,#cc0335 368px,#cc0335 371px,#cc0334 374px,#cc0333 377px,#cc0333 380px,#cc0332 383px,#cc0332 386px,#cc0331 389px,#cc0331 392px,#cc0330 395px,#cc0330 398px,#cc042e 401px,#cc042d 404px,#cc042b 407px,#cc0528 415px,#cc0626 423px,#cc0625 431px,#cc0723 439px,#cc0822 447px,#cc0822 449px)"></i><i style="margin-left:80px;width:451px;background:linear-gradient(90deg,#41c6c4 0px,#41c5c4 8px,#41c5c4 16px,#40c4c5 24px,#40c3c5 32px,#40c3c5 40px,#40c2c6 48px,#3fc1c6 56px,#3fc0c7 64px,#3fbfc7 72px,#3ebec8 80px,#3ebcc9 88px,#3ebcc9 91px,#3dbbca 94px,#3dbaca 97px,#3eb9ca 100px,#42b9cb 103px,#49b9cb 106px,#53bacc 109px,#5abacc 112px,#60bacc 115px,#66bacc 118px,#6cbacc 121px,#73bacc 124px,#7abacc 127px,#81bacc 130px,#89bbcc 133px,#9cbdcc 141px,#adbdcc 149px,#b8bccc 157px,#c4bdcc 165px,#cabdcc 173px,#cbb5cc 181px,#ccafc8 189px,#cca6c4 197px,#cc9cbf 205px,#cc92b9 213px,#cc89b3 221px,#cc80ac 229px,#cc77a6 237px,#cc6e9e 245px,#cc6597 253px,#cc5c90 261px,#cc5388 269px,#cc4a80 277px,#cc467e 280px,#cc437b 283px,#cc4078 286px,#cc3c75 289px,#cc3972 292px,#cc366f 295px,#cc336c 298px,#cc2f69 301px,#cc2c66 304px,#cc2963 307px,#cc2560 310px,#cc225d 313px,#cc1f5a 316px,#cc1c57 319px,#cc1854 322px,#cc1551 325px,#cc124e 328px,#cc0f4b 331px,#cc0b48 334px,#cc0845 337px,#cc0542 340px,#cc023f 343px,#cc023e 346px,#cc023d 349px,#cc023d 352px,#cc023c 355px,#cc023b 358px,#cc023b 361px,#cc023a 364px,#cc0239 367px,#cc0239 370px,#cc0238 373px,#cc0238 376px,#cc0337 379px,#cc0336 382px,#cc0336 385px,#cc0335 388px,#cc0335 391px,#cc0334 394px,#cc0334 397px,#cc0333 400px,#cc0333 403px,#cc0332 411px,#cc0331 419px,#cc042e 427px,#cc042b 435px,#cc0528 443px,#cc0627 451px)"></i><i style="margin-left:81px;width:453px;background:linear-gradient(90deg,#40c4c4 0px,#40c4c5 8px,#40c3c5 16px,#40c3c5 24px,#40c2c6 32px,#3fc1c6 40px,#3fc1c6 48px,#3fc0c7 56px,#3fbfc8 64px,#3ebdc8 72px,#3ebcc9 80px,#3dbaca 88px,#3db9ca 91px,#3db8cb 94px,#3db8cb 97px,#3fb7cc 100px,#45b7cc 103px,#4eb7cc 106px,#56b7cc 109px,#5bb7cc 112px,#61b7cc 115px,#68b7cc 118px,#6eb7cc 121px,#75b8cc 124px,#7cb8cc 127px,#84b8cc 130px,#98bacc 138px,#a9bacc 146px,#b5bacc 154px,#c2bacc 162px,#c9bbcc 170px,#cab4cc 178px,#cbadc9 186px,#cca5c5 194px,#cc9bc0 202px,#cc91ba 210px,#cc87b4 218px,#cc7eae 226px,#cc74a7 234px,#cc6ba0 242px,#cc6299 250px,#cc5992 258px,#cc508a 266px,#cc4683 274px,#cc4380 277px,#cc407d 280px,#cc3c7a 283px,#cc3977 286px,#cc3574 289px,#cc3271 292px,#cc2f6e 295px,#cc2b6b 298px,#cc2868 301px,#cc2565 304px,#cc2162 307px,#cc1e5f 310px,#cc1b5c 313px,#cc1759 316px,#cc1456 319px,#cc1153 322px,#cc0d50 325px,#cc0a4d 328px,#cc074a 331px,#cc0347 334px,#cc0144 337px,#cc0143 340px,#cc0143 343px,#cc0142 346px,#cc0141 349px,#cc0240 352px,#cc0240 355px,#cc023f 358px,#cc023e 361px,#cc023e 364px,#cc023d 367px,#cc023d 370px,#cc023c 373px,#cc023b 376px,#cc023b 379px,#cc023a 382px,#cc023a 385px,#cc0239 388px,#cc0238 391px,#cc0238 394px,#cc0337 402px,#cc0335 410px,#cc0334 418px,#cc0333 426px,#cc0332 434px,#cc0331 442px,#cc032f 450px,#cc042e 453px)"></i><i style="margin-left:82px;width:449px;background:linear-gradient(90deg,#40c3c5 0px,#40c3c5 8px,#40c2c6 16px,#40c2c6 24px,#3fc1c6 32px,#3fc0c7 40px,#3fbfc7 48px,#3ebec8 56px,#3ebdc9 64px,#3ebbc9 72px,#3dbaca 80px,#3cb8cb 88px,#3cb7cc 91px,#3cb6cc 94px,#3db5cc 97px,#41b4cc 100px,#49b5cc 103px,#51b5cc 106px,#57b5cc 109px,#5db5cc 112px,#63b5cc 115px,#69b5cc 118px,#70b5cc 121px,#77b5cc 124px,#7fb6cc 127px,#86b6cc 130px,#9bb7cc 138px,#aab7cc 146px,#b5b7cc 154px,#c5bacc 162px,#c9b7cc 170px,#caafcc 178px,#cba7c9 186px,#cca0c4 194px,#cc96bf 202px,#cc8cb9 210px,#cc82b3 218px,#cc78ad 226px,#cc6ea7 234px,#cc65a0 242px,#cc5c98 250px,#cc5291 258px,#cc4989 266px,#cc4687 269px,#cc4284 272px,#cc3f81 275px,#cc3b7e 278px,#cc387b 281px,#cc3478 284px,#cc3175 287px,#cc2d72 290px,#cc2a6f 293px,#cc276c 296px,#cc2369 299px,#cc2066 302px,#cc1c63 305px,#cc1960 308px,#cc155d 311px,#cc125a 314px,#cc0f57 317px,#cc0b54 320px,#cc0851 323px,#cc054e 326px,#cc014b 329px,#cc0149 332px,#cc0149 335px,#cc0148 338px,#cc0147 341px,#cc0146 344px,#cc0145 347px,#cc0145 350px,#cc0144 353px,#cc0143 356px,#cc0142 359px,#cc0142 362px,#cc0141 365px,#cc0240 368px,#cc0240 371px,#cc023f 374px,#cc023f 377px,#cc023e 380px,#cc023d 383px,#cc023d 386px,#cc023c 389px,#cc023b 397px,#cc0239 405px,#cc0238 413px,#cc0337 421px,#cc0336 429px,#cc0335 437px,#cc0333 445px,#cc0333 449px)"></i><i style="margin-left:82px;width:441px;background:linear-gradient(90deg,#40c2c5 0px,#40c2c6 8px,#3fc1c6 16px,#3fc0c7 24px,#3fc0c7 32px,#3fbfc8 40px,#3ebec8 48px,#3ebcc9 56px,#3dbbc9 64px,#3dbaca 72px,#3cb8cb 80px,#3cb5cc 88px,#3bb4cc 91px,#3bb3cc 94px,#3db2cc 97px,#42b2cc 100px,#4ab2cc 103px,#51b2cc 106px,#57b2cc 109px,#5cb2cc 112px,#63b2cc 115px,#69b2cc 118px,#70b2cc 121px,#77b3cc 124px,#7fb3cc 127px,#94b4cc 135px,#a4b4cc 143px,#b1b4cc 151px,#c1b5cc 159px,#c8b5cc 167px,#c9aecc 175px,#cba6ca 183px,#cb9ec6 191px,#cc96c1 199px,#cc8bbb 207px,#cc81b6 215px,#cc77af 223px,#cc6da9 231px,#cc64a2 239px,#cc5a9b 247px,#cc5194 255px,#cc4d91 258px,#cc498e 261px,#cc468b 264px,#cc4289 267px,#cc3f86 270px,#cc3b83 273px,#cc3880 276px,#cc347d 279px,#cc317a 282px,#cc2d77 285px,#cc2a74 288px,#cc2671 291px,#cc236e 294px,#cc1f6b 297px,#cc1c68 300px,#cc1965 303px,#cc1562 306px,#cc125f 309px,#cc0e5c 312px,#cc0b59 315px,#cc0756 318px,#cc0353 321px,#cc0050 324px,#cc004f 327px,#cc004e 330px,#cc004d 333px,#cc004c 336px,#cc004b 339px,#cc014a 342px,#cc014a 345px,#cc0149 348px,#cc0148 351px,#cc0147 354px,#cc0147 357px,#cc0146 360px,#cc0145 363px,#cc0145 366px,#cc0144 369px,#cc0143 372px,#cc0143 375px,#cc0142 378px,#cc0141 381px,#cc0240 389px,#cc023e 397px,#cc023d 405px,#cc023b 413px,#cc023a 421px,#cc0239 429px,#cc0238 437px,#cc0237 441px)"></i><i style="margin-left:83px;width:433px;background:linear-gradient(90deg,#3fc1c6 0px,#3fc1c6 8px,#3fc0c7 16px,#3fbfc7 24px,#3ebec8 32px,#3ebdc8 40px,#3ebcc9 48px,#3dbbca 56px,#3db9ca 64px,#3cb8cb 72px,#3cb5cc 80px,#3bb2cc 88px,#3ab1cc 91px,#3bb0cc 94px,#3eafcc 97px,#45afcc 100px,#4db0cc 103px,#53b0cc 106px,#58afcc 109px,#5eafcc 112px,#64afcc 115px,#6bb0cc 118px,#72b0cc 121px,#7ab0cc 124px,#82b0cc 127px,#95b0cc 135px,#a6b1cc 143px,#b1b1cc 151px,#c3b5cc 159px,#c8b1cc 167px,#c9a9cc 175px,#cba1ca 183px,#cb99c5 191px,#cc91c0 199px,#cc86bb 207px,#cc7bb5 215px,#cc71ae 223px,#cc67a8 231px,#cc5da1 239px,#cc549a 247px,#cc5098 250px,#cc4c95 253px,#cc4992 256px,#cc458f 259px,#cc428c 262px,#cc3e8a 265px,#cc3a87 268px,#cc3784 271px,#cc3381 274px,#cc307e 277px,#cc2c7b 280px,#cc2978 283px,#cc2575 286px,#cc2272 289px,#cc1e6f 292px,#cc1b6c 295px,#cc1769 298px,#cc1466 301px,#cc1063 304px,#cc0d60 307px,#cc095d 310px,#cc055a 313px,#cc0157 316px,#cc0055 319px,#cc0054 322px,#cc0053 325px,#cc0052 328px,#cc0051 331px,#cc0050 334px,#cc004f 337px,#cc004e 340px,#cc004d 343px,#cc004d 346px,#cc004c 349px,#cc004b 352px,#cc014a 355px,#cc014a 358px,#cc0149 361px,#cc0148 364px,#cc0147 367px,#cc0147 370px,#cc0146 373px,#cc0145 376px,#cc0144 384px,#cc0142 392px,#cc0241 400px,#cc023f 408px,#cc023e 416px,#cc023d 424px,#cc023b 432px,#cc023b 433px)"></i><i style="margin-left:84px;width:425px;background:linear-gradient(90deg,#3fc0c7 0px,#3fbfc7 8px,#3fbfc8 16px,#3ebec8 24px,#3ebdc9 32px,#3ebcc9 40px,#3dbaca 48px,#3db9cb 56px,#3cb7cb 64px,#3cb5cc 72px,#3bb3cc 80px,#3ab1cc 83px,#3ab0cc 86px,#39afcc 89px,#3aaecc 92px,#3dadcc 95px,#43adcc 98px,#4badcc 101px,#50adcc 104px,#56adcc 107px,#5cadcc 110px,#62adcc 113px,#69adcc 116px,#70adcc 119px,#78adcc 122px,#80adcc 125px,#93adcc 133px,#a4adcc 141px,#afadcc 149px,#c3b2cc 157px,#c7aecc 165px,#c9a6cc 173px,#ca9dca 181px,#cb95c6 189px,#cc8dc0 197px,#cc83bb 205px,#cc78b5 213px,#cc6daf 221px,#cc63a9 229px,#cc59a2 237px,#cc4f9b 245px,#cc4c99 248px,#cc4896 251px,#cc4593 254px,#cc4190 257px,#cc3d8d 260px,#cc3a8b 263px,#cc3688 266px,#cc3285 269px,#cc2f82 272px,#cc2b7f 275px,#cc287c 278px,#cc2479 281px,#cc2076 284px,#cc1d73 287px,#cc1970 290px,#cc166d 293px,#cc126a 296px,#cc0f67 299px,#cc0b64 302px,#cc0861 305px,#cc035e 308px,#cc005b 311px,#cc005a 314px,#cc0059 317px,#cc0058 320px,#cc0057 323px,#cc0056 326px,#cc0055 329px,#cc0054 332px,#cc0053 335px,#cc0052 338px,#cc0051 341px,#cc0050 344px,#cc004f 347px,#cc004f 350px,#cc004e 353px,#cc004d 356px,#cc004c 359px,#cc004c 362px,#cc014b 365px,#cc014a 368px,#cc0148 376px,#cc0147 384px,#cc0145 392px,#cc0144 400px,#cc0142 408px,#cc0241 416px,#cc023f 424px,#cc023f 425px)"></i><i style="margin-left:85px;width:417px;background:linear-gradient(90deg,#3fbfc7 0px,#3ebec8 8px,#3ebdc8 16px,#3ebcc9 24px,#3ebbc9 32px,#3dbaca 40px,#3db9cb 48px,#3cb7cc 56px,#3cb5cc 64px,#3bb3cc 72px,#3ab0cc 80px,#39aecc 83px,#39adcc 86px,#39accc 89px,#3aabcc 92px,#3faacc 95px,#47abcc 98px,#4dabcc 101px,#52aacc 104px,#57aacc 107px,#5eaacc 110px,#64aacc 113px,#6ca9cc 116px,#74a9cc 119px,#7ba9cc 122px,#8ea9cc 130px,#a0aacc 138px,#acaacc 146px,#c1afcc 154px,#c6accc 162px,#c8a4cc 170px,#ca9acb 178px,#cb92c7 186px,#cb8ac2 194px,#cc81bc 202px,#cc76b6 210px,#cc6bb0 218px,#cc60aa 226px,#cc56a3 234px,#cc52a1 237px,#cc4f9e 240px,#cc4b9c 243px,#cc4799 246px,#cc4497 249px,#cc4094 252px,#cc3d91 255px,#cc398e 258px,#cc358c 261px,#cc3289 264px,#cc2e86 267px,#cc2a83 270px,#cc2780 273px,#cc237d 276px,#cc1f7a 279px,#cc1c77 282px,#cc1874 285px,#cc1471 288px,#cc116e 291px,#cc0d6b 294px,#cc0a68 297px,#cc0565 300px,#cc0162 303px,#cc0060 306px,#cc005f 309px,#cc005e 312px,#cc005c 315px,#cc005b 318px,#cc005a 321px,#cc0059 324px,#cc0058 327px,#cc0057 330px,#cc0057 333px,#cc0056 336px,#cc0055 339px,#cc0054 342px,#cc0053 345px,#cc0052 348px,#cc0051 351px,#cc0051 354px,#cc0050 357px,#cc004f 360px,#cc004d 368px,#cc004b 376px,#cc0149 384px,#cc0148 392px,#cc0146 400px,#cc0145 408px,#cc0143 416px,#cc0143 417px)"></i><i style="margin-left:86px;width:408px;background:linear-gradient(90deg,#3ebec8 0px,#3ebdc8 8px,#3ebcc9 16px,#3dbbc9 24px,#3dbaca 32px,#3db9cb 40px,#3cb7cc 48px,#3cb5cc 56px,#3bb3cc 64px,#3ab0cc 72px,#39adcc 80px,#38abcc 83px,#38aacc 86px,#39a9cc 89px,#3ca8cc 92px,#42a8cc 95px,#49a8cc 98px,#4ea8cc 101px,#53a7cc 104px,#59a7cc 107px,#60a6cc 110px,#67a6cc 113px,#6fa6cc 116px,#76a6cc 119px,#8aa6cc 127px,#9ca6cc 135px,#a9a7cc 143px,#beabcc 151px,#c5a9cc 159px,#c7a2cc 167px,#c997cc 175px,#ca8fc8 183px,#cb87c3 191px,#cc7fbd 199px,#cc73b8 207px,#cc68b2 215px,#cc5eab 223px,#cc53a5 231px,#cc50a2 234px,#cc4ca0 237px,#cc489d 240px,#cc449b 243px,#cc4098 246px,#cc3d95 249px,#cc3993 252px,#cc3590 255px,#cc328d 258px,#cc2e8b 261px,#cc2a88 264px,#cc2785 267px,#cc2382 270px,#cc1f7f 273px,#cc1c7c 276px,#cc1879 279px,#cc1476 282px,#cc1173 285px,#cc0d70 288px,#cc096d 291px,#cc0469 294px,#cc0166 297px,#cc0065 300px,#cc0064 303px,#cc0063 306px,#cc0061 309px,#cc0060 312px,#cc005f 315px,#cc005e 318px,#cc005d 321px,#cc005c 324px,#cc005b 327px,#cc005a 330px,#cc0059 333px,#cc0058 336px,#cc0058 339px,#cc0057 342px,#cc0056 345px,#cc0055 348px,#cc0054 351px,#cc0053 354px,#cc0051 362px,#cc004f 370px,#cc004d 378px,#cc004c 386px,#cc014a 394px,#cc0148 402px,#cc0147 408px)"></i><i style="margin-left:86px;width:401px;background:linear-gradient(90deg,#3ebdc9 0px,#3ebcc9 8px,#3dbbca 16px,#3dbaca 24px,#3db9cb 32px,#3cb7cc 40px,#3cb5cc 48px,#3bb3cc 56px,#3ab1cc 64px,#39aecc 72px,#38aacc 80px,#37a9cc 83px,#37a7cc 86px,#38a6cc 89px,#3ca5cc 92px,#43a5cc 95px,#49a5cc 98px,#4ea5cc 101px,#53a4cc 104px,#5aa3cc 107px,#61a3cc 110px,#68a2cc 113px,#6fa2cc 116px,#77a2cc 119px,#8aa2cc 127px,#9ca4cc 135px,#aba3cc 143px,#bfa9cc 151px,#c5a5cc 159px,#c79ecc 167px,#c992cc 175px,#ca8ac8 183px,#cb81c3 191px,#cc79bd 199px,#cc6fb7 207px,#cc63b1 215px,#cc58ab 223px,#cc54a9 226px,#cc50a6 229px,#cc4da4 232px,#cc49a1 235px,#cc459f 238px,#cc419c 241px,#cc3d9a 244px,#cc3997 247px,#cc3694 250px,#cc3292 253px,#cc2e8f 256px,#cc2b8c 259px,#cc2789 262px,#cc2387 265px,#cc2084 268px,#cc1c81 271px,#cc187e 274px,#cc147b 277px,#cc1178 280px,#cc0d75 283px,#cc0972 286px,#cc036e 289px,#cc006b 292px,#cc006a 295px,#cc0069 298px,#cc0068 301px,#cc0066 304px,#cc0065 307px,#cc0064 310px,#cc0063 313px,#cc0062 316px,#cc0061 319px,#cc0060 322px,#cc005f 325px,#cc005e 328px,#cc005d 331px,#cc005c 334px,#cc005b 337px,#cc005a 340px,#cc0059 343px,#cc0058 346px,#cc0058 349px,#cc0055 357px,#cc0053 365px,#cc0051 373px,#cc0050 381px,#cc004e 389px,#cc004c 397px,#cc004b 401px)"></i><i style="margin-left:87px;width:393px;background:linear-gradient(90deg,#3ebcc9 0px,#3dbbca 8px,#3dbaca 16px,#3db8cb 24px,#3cb7cc 32px,#3cb5cc 40px,#3bb3cc 48px,#3ab1cc 56px,#39aecc 64px,#38abcc 72px,#38aacc 75px,#37a8cc 78px,#37a7cc 81px,#36a5cc 84px,#37a4cc 87px,#3ba3cc 90px,#41a3cc 93px,#47a3cc 96px,#4ca2cc 99px,#52a1cc 102px,#58a0cc 105px,#5f9fcc 108px,#669fcc 111px,#6d9ecc 114px,#749ecc 117px,#889ecc 125px,#9aa1cc 133px,#aa9fcc 141px,#bea6cc 149px,#c4a2cc 157px,#c69acc 165px,#c88fcc 173px,#c985c9 181px,#ca7dc3 189px,#cb74be 197px,#cc6bb8 205px,#cc5fb2 213px,#cc5bb0 216px,#cc57ad 219px,#cc53ab 222px,#cc4fa8 225px,#cc4ba6 228px,#cc47a3 231px,#cc43a1 234px,#cc3f9e 237px,#cc3b9c 240px,#cc3799 243px,#cc3397 246px,#cc3094 249px,#cc2c91 252px,#cc288f 255px,#cc248c 258px,#cc2189 261px,#cc1d86 264px,#cc1984 267px,#cc1681 270px,#cc127e 273px,#cc0e7b 276px,#cc0a78 279px,#cc0474 282px,#cc0071 285px,#cc006f 288px,#cc006e 291px,#cc006d 294px,#cc006c 297px,#cc006a 300px,#cc0069 303px,#cc0068 306px,#cc0067 309px,#cc0066 312px,#cc0065 315px,#cc0064 318px,#cc0063 321px,#cc0062 324px,#cc0061 327px,#cc0060 330px,#cc005f 333px,#cc005e 336px,#cc005d 339px,#cc005c 342px,#cc005a 350px,#cc0058 358px,#cc0056 366px,#cc0054 374px,#cc0052 382px,#cc0050 390px,#cc004f 393px)"></i><i style="margin-left:88px;width:384px;background:linear-gradient(90deg,#3dbaca 0px,#3db9ca 8px,#3db8cb 16px,#3cb7cc 24px,#3cb5cc 32px,#3bb3cc 40px,#3ab1cc 48px,#39afcc 56px,#38accc 64px,#37a8cc 72px,#37a7cc 75px,#36a5cc 78px,#36a3cc 81px,#36a2cc 84px,#38a1cc 87px,#3da0cc 90px,#44a0cc 93px,#499fcc 96px,#4e9ecc 99px,#549dcc 102px,#5b9ccc 105px,#619bcc 108px,#689acc 111px,#709acc 114px,#839acc 122px,#969dcc 130px,#a69bcc 138px,#bca2cc 146px,#c39fcc 154px,#c598cc 162px,#c78dcc 170px,#c982ca 178px,#ca79c5 186px,#cb71bf 194px,#cc68b9 202px,#cc5db3 210px,#cc58b1 213px,#cc54ae 216px,#cc50ac 219px,#cc4caa 222px,#cc48a7 225px,#cc44a5 228px,#cc40a2 231px,#cc3ca0 234px,#cc389d 237px,#cc349b 240px,#cc3098 243px,#cc2c95 246px,#cc2893 249px,#cc2490 252px,#cc218d 255px,#cc1d8b 258px,#cc1988 261px,#cc1585 264px,#cc1282 267px,#cc0e80 270px,#cc097c 273px,#cc0378 276px,#cc0076 279px,#cc0074 282px,#cc0073 285px,#cc0072 288px,#cc0070 291px,#cc006f 294px,#cc006e 297px,#cc006d 300px,#cc006c 303px,#cc006a 306px,#cc0069 309px,#cc0068 312px,#cc0067 315px,#cc0066 318px,#cc0065 321px,#cc0064 324px,#cc0063 327px,#cc0062 330px,#cc0061 333px,#cc005f 341px,#cc005c 349px,#cc005a 357px,#cc0058 365px,#cc0056 373px,#cc0054 381px,#cc0054 384px)"></i><i style="margin-left:89px;width:376px;background:linear-gradient(90deg,#3db9cb 0px,#3db8cb 8px,#3cb7cc 16px,#3cb5cc 24px,#3bb3cc 32px,#3ab1cc 40px,#3aafcc 48px,#39accc 56px,#38a9cc 64px,#36a5cc 72px,#36a4cc 75px,#35a2cc 78px,#35a0cc 81px,#369fcc 84px,#3a9ecc 87px,#409dcc 90px,#469ccc 93px,#4b9acc 96px,#5199cc 99px,#5798cc 102px,#5d97cc 105px,#6497cc 108px,#6b96cc 111px,#7296cc 114px,#8697cc 122px,#9699cc 130px,#ac99cc 138px,#bea1cc 146px,#c39acc 154px,#c592cc 162px,#c786cc 170px,#c97bc9 178px,#ca72c4 186px,#cb6abe 194px,#cc61b8 202px,#cc5db6 205px,#cc59b3 208px,#cc54b1 211px,#cc50af 214px,#cc4cac 217px,#cc48aa 220px,#cc43a8 223px,#cc3fa5 226px,#cc3ba3 229px,#cc37a0 232px,#cc339e 235px,#cc2f9b 238px,#cc2b98 241px,#cc2796 244px,#cc2393 247px,#cc1f90 250px,#cc1c8e 253px,#cc188b 256px,#cc1488 259px,#cc1086 262px,#cc0c83 265px,#cc057f 268px,#cc017c 271px,#cc007a 274px,#cc0079 277px,#cc0077 280px,#cc0076 283px,#cc0075 286px,#cc0073 289px,#cc0072 292px,#cc0071 295px,#cc0070 298px,#cc006f 301px,#cc006d 304px,#cc006c 307px,#cc006b 310px,#cc006a 313px,#cc0069 316px,#cc0068 319px,#cc0067 322px,#cc0066 325px,#cc0065 328px,#cc0063 336px,#cc0060 344px,#cc005e 352px,#cc005c 360px,#cc005a 368px,#cc0058 376px)"></i><i style="margin-left:90px;width:368px;background:linear-gradient(90deg,#3cb8cb 0px,#3cb7cc 8px,#3cb5cc 16px,#3bb3cc 24px,#3ab1cc 32px,#3aafcc 40px,#39adcc 48px,#38aacc 56px,#37a6cc 64px,#35a2cc 72px,#35a0cc 75px,#349fcc 78px,#359dcc 81px,#389bcc 84px,#3d9acc 87px,#4399cc 90px,#4897cc 93px,#4d96cc 96px,#5395cc 99px,#5994cc 102px,#6093cc 105px,#6793cc 108px,#6e92cc 111px,#8293cc 119px,#9295cc 127px,#a894cc 135px,#bb9ccc 143px,#c297cc 151px,#c490cc 159px,#c684cc 167px,#c877cb 175px,#c96ec5 183px,#ca66c0 191px,#cb62bd 194px,#cb5fbb 197px,#cb5cb9 200px,#cc59b6 203px,#cc55b4 206px,#cc50b2 209px,#cc4caf 212px,#cc47ad 215px,#cc43aa 218px,#cc3fa8 221px,#cc3ba6 224px,#cc36a3 227px,#cc32a1 230px,#cc2e9e 233px,#cc2a9b 236px,#cc2699 239px,#cc2296 242px,#cc1e94 245px,#cc1a91 248px,#cc168e 251px,#cc138c 254px,#cc0f89 257px,#cc0885 260px,#cc0281 263px,#cc007f 266px,#cc007e 269px,#cc007d 272px,#cc007b 275px,#cc007a 278px,#cc0079 281px,#cc0077 284px,#cc0076 287px,#cc0075 290px,#cc0074 293px,#cc0073 296px,#cc0071 299px,#cc0070 302px,#cc006f 305px,#cc006e 308px,#cc006d 311px,#cc006c 314px,#cc006b 317px,#cc006a 320px,#cc0067 328px,#cc0065 336px,#cc0062 344px,#cc0060 352px,#cc005e 360px,#cc005c 368px)"></i><i style="margin-left:91px;width:360px;background:linear-gradient(90deg,#3cb7cc 0px,#3cb5cc 8px,#3bb3cc 16px,#3ab2cc 24px,#3ab0cc 32px,#39adcc 40px,#38aacc 48px,#37a7cc 56px,#36a3cc 64px,#349fcc 72px,#349dcc 75px,#349bcc 78px,#3699cc 81px,#3a97cc 84px,#4096cc 87px,#4594cc 90px,#4a93cc 93px,#4f92cc 96px,#5590cc 99px,#5b8fcc 102px,#628fcc 105px,#698fcc 108px,#718ecc 111px,#8491cc 119px,#9390cc 127px,#ae92cc 135px,#bc98cc 143px,#c191cc 151px,#c489cc 159px,#c67ccc 167px,#c870ca 175px,#c967c5 183px,#ca5ebf 191px,#ca5bbc 194px,#cb58ba 197px,#cb54b8 200px,#cc51b5 203px,#cc4db3 206px,#cc49b0 209px,#cc44ae 212px,#cc40ac 215px,#cc3ca9 218px,#cc37a7 221px,#cc33a4 224px,#cc2fa2 227px,#cc2b9f 230px,#cc279d 233px,#cc239a 236px,#cc1f98 239px,#cc1b95 242px,#cc1792 245px,#cc1390 248px,#cc0e8d 251px,#cc0689 254px,#cc0185 257px,#cc0084 260px,#cc0082 263px,#cc0081 266px,#cc0080 269px,#cc007e 272px,#cc007d 275px,#cc007c 278px,#cc007b 281px,#cc0079 284px,#cc0078 287px,#cc0077 290px,#cc0076 293px,#cc0074 296px,#cc0073 299px,#cc0072 302px,#cc0071 305px,#cc0070 308px,#cc006f 311px,#cc006e 314px,#cc006b 322px,#cc0069 330px,#cc0066 338px,#cc0064 346px,#cc0062 354px,#cc0060 360px)"></i><i style="margin-left:92px;width:351px;background:linear-gradient(90deg,#3cb5cc 0px,#3bb4cc 8px,#3ab2cc 16px,#3ab0cc 24px,#39aecc 32px,#38abcc 40px,#37a8cc 48px,#36a5cc 56px,#35a1cc 64px,#349fcc 67px,#349dcc 70px,#339bcc 73px,#3398cc 76px,#3596cc 79px,#3994cc 82px,#3f93cc 85px,#4391cc 88px,#488fcc 91px,#4d8ecc 94px,#538dcc 97px,#5a8ccc 100px,#608bcc 103px,#678bcc 106px,#6f8bcc 109px,#828dcc 117px,#908bcc 125px,#ad8fcc 133px,#bb94cc 141px,#c18dcc 149px,#c385cc 157px,#c578cc 165px,#c86bcb 173px,#c962c5 181px,#c95ec3 184px,#c95bc1 187px,#ca58bf 190px,#ca54bc 193px,#cb51ba 196px,#cb4eb7 199px,#cb4ab5 202px,#cc47b2 205px,#cc43b0 208px,#cc3eae 211px,#cc3aab 214px,#cc35a9 217px,#cc31a6 220px,#cc2da4 223px,#cc29a1 226px,#cc249f 229px,#cc209c 232px,#cc1c9a 235px,#cc1897 238px,#cc1494 241px,#cc0f91 244px,#cc078d 247px,#cc018a 250px,#cc0088 253px,#cc0087 256px,#cc0086 259px,#cc0084 262px,#cc0083 265px,#cc0082 268px,#cc0080 271px,#cc007f 274px,#cc007e 277px,#cc007d 280px,#cc007b 283px,#cc007a 286px,#cc0079 289px,#cc0078 292px,#cc0077 295px,#cc0075 298px,#cc0074 301px,#cc0073 304px,#cc0072 307px,#cc006f 315px,#cc006d 323px,#cc006a 331px,#cc0068 339px,#cc0065 347px,#cc0064 351px)"></i><i style="margin-left:93px;width:343px;background:linear-gradient(90deg,#3bb4cc 0px,#3ab2cc 8px,#3ab0cc 16px,#39aecc 24px,#38abcc 32px,#37a9cc 40px,#36a6cc 48px,#35a2cc 56px,#349ecc 64px,#339ccc 67px,#3399cc 70px,#3396cc 73px,#3493cc 76px,#3791cc 79px,#3c90cc 82px,#408ecc 85px,#458ccc 88px,#4a8bcc 91px,#5089cc 94px,#5688cc 97px,#5c88cc 100px,#6387cc 103px,#6a87cc 106px,#7e8acc 114px,#8c87cc 122px,#a98acc 130px,#b991cc 138px,#bf8acc 146px,#c283cc 154px,#c476cc 162px,#c766cc 170px,#c863ca 173px,#c860c8 176px,#c85cc6 179px,#c959c4 182px,#c956c2 185px,#c952bf 188px,#ca4fbd 191px,#ca4bbb 194px,#cb48b8 197px,#cb45b6 200px,#cb41b3 203px,#cc3eb1 206px,#cc39ae 209px,#cc35ac 212px,#cc31a9 215px,#cc2ca7 218px,#cc28a4 221px,#cc24a2 224px,#cc1f9f 227px,#cc1b9d 230px,#cc179a 233px,#cc1397 236px,#cc0a94 239px,#cc0390 242px,#cc008e 245px,#cc008c 248px,#cc008b 251px,#cc0089 254px,#cc0088 257px,#cc0086 260px,#cc0085 263px,#cc0084 266px,#cc0083 269px,#cc0081 272px,#cc0080 275px,#cc007f 278px,#cc007e 281px,#cc007d 284px,#cc007b 287px,#cc007a 290px,#cc0079 293px,#cc0078 296px,#cc0077 299px,#cc0074 307px,#cc0071 315px,#cc006f 323px,#cc006c 331px,#cc006a 339px,#cc0068 343px)"></i><i style="margin-left:94px;width:335px;background:linear-gradient(90deg,#3bb2cc 0px,#3ab0cc 8px,#39aecc 16px,#39accc 24px,#38a9cc 32px,#37a6cc 40px,#36a3cc 48px,#349fcc 56px,#339acc 64px,#3397cc 67px,#3394cc 70px,#3391cc 73px,#358fcc 76px,#398dcc 79px,#3e8bcc 82px,#4289cc 85px,#4788cc 88px,#4c86cc 91px,#5285cc 94px,#5884cc 97px,#5f83cc 100px,#6683cc 103px,#7a86cc 111px,#8883cc 119px,#a685cc 127px,#b78ecc 135px,#be87cc 143px,#c181cc 151px,#c374cc 159px,#c664cc 167px,#c75fcc 170px,#c75bca 173px,#c858c7 176px,#c855c5 179px,#c851c3 182px,#c94ec1 185px,#c94abe 188px,#ca47bc 191px,#ca43ba 194px,#ca40b7 197px,#cb3db5 200px,#cb39b2 203px,#cc36af 206px,#cc32ad 209px,#cc2daa 212px,#cc29a8 215px,#cc24a6 218px,#cc20a3 221px,#cc1ca0 224px,#cc179e 227px,#cc129b 230px,#cc0897 233px,#cc0193 236px,#cc0092 239px,#cc0090 242px,#cc008f 245px,#cc008d 248px,#cc008c 251px,#cc008a 254px,#cc0089 257px,#cc0088 260px,#cc0086 263px,#cc0085 266px,#cc0084 269px,#cc0083 272px,#cc0081 275px,#cc0080 278px,#cc007f 281px,#cc007e 284px,#cc007d 287px,#cc007c 290px,#cc007b 293px,#cc0078 301px,#cc0075 309px,#cc0072 317px,#cc0070 325px,#cc006d 333px,#cc006d 335px)"></i><i style="margin-left:94px;width:327px;background:linear-gradient(90deg,#3ab1cc 0px,#39afcc 8px,#39adcc 16px,#38aacc 24px,#37a8cc 32px,#36a4cc 40px,#35a1cc 48px,#339dcc 56px,#3396cc 64px,#3293cc 67px,#3290cc 70px,#338dcc 73px,#358bcc 76px,#3a89cc 79px,#3e87cc 82px,#4285cc 85px,#4783cc 88px,#4c82cc 91px,#5281cc 94px,#5980cc 97px,#5f7fcc 100px,#677fcc 103px,#7a83cc 111px,#8a7ecc 119px,#a882cc 127px,#b789cc 135px,#be82cc 143px,#c07bcc 151px,#c36ecc 159px,#c469cc 162px,#c563cc 165px,#c65ccc 168px,#c757cb 171px,#c753c9 174px,#c750c7 177px,#c84dc5 180px,#c849c2 183px,#c946c0 186px,#c942bd 189px,#c93fbb 192px,#ca3bb9 195px,#ca38b6 198px,#cb34b3 201px,#cb31b1 204px,#cc2eae 207px,#cc2aac 210px,#cc25a9 213px,#cc21a7 216px,#cc1ca4 219px,#cc18a2 222px,#cc109e 225px,#cc069a 228px,#cc0097 231px,#cc0096 234px,#cc0094 237px,#cc0093 240px,#cc0091 243px,#cc0090 246px,#cc008e 249px,#cc008d 252px,#cc008b 255px,#cc008a 258px,#cc0089 261px,#cc0088 264px,#cc0086 267px,#cc0085 270px,#cc0084 273px,#cc0083 276px,#cc0082 279px,#cc0081 282px,#cc007f 285px,#cc007d 293px,#cc007a 301px,#cc0077 309px,#cc0074 317px,#cc0072 325px,#cc0071 327px)"></i><i style="margin-left:95px;width:319px;background:linear-gradient(90deg,#3aafcc 0px,#39adcc 8px,#38abcc 16px,#37a8cc 24px,#36a5cc 32px,#35a2cc 40px,#349ecc 48px,#3399cc 56px,#3396cc 59px,#3294cc 62px,#3291cc 65px,#328ecc 68px,#328acc 71px,#3588cc 74px,#3986cc 77px,#3d84cc 80px,#4182cc 83px,#4680cc 86px,#4b7ecc 89px,#517dcc 92px,#577ccc 95px,#5e7bcc 98px,#657bcc 101px,#7880cc 109px,#8a79cc 117px,#a77fcc 125px,#b685cc 133px,#bd7dcc 141px,#c077cc 149px,#c26acc 157px,#c365cc 160px,#c45fcc 163px,#c558cc 166px,#c651cc 169px,#c74eca 172px,#c74ac8 175px,#c747c5 178px,#c843c3 181px,#c840c1 184px,#c93cbe 187px,#c939bc 190px,#c935b9 193px,#ca32b7 196px,#ca2eb4 199px,#cb2bb2 202px,#cb27af 205px,#cc24ac 208px,#cc20aa 211px,#cc1ba7 214px,#cc15a4 217px,#cc09a0 220px,#cc019d 223px,#cc009b 226px,#cc0099 229px,#cc0097 232px,#cc0096 235px,#cc0094 238px,#cc0093 241px,#cc0092 244px,#cc0090 247px,#cc008f 250px,#cc008d 253px,#cc008c 256px,#cc008b 259px,#cc008a 262px,#cc0088 265px,#cc0087 268px,#cc0086 271px,#cc0085 274px,#cc0084 277px,#cc0083 280px,#cc0080 288px,#cc007d 296px,#cc007a 304px,#cc0077 312px,#cc0075 319px)"></i><i style="margin-left:96px;width:311px;background:linear-gradient(90deg,#39adcc 0px,#38abcc 8px,#37a9cc 16px,#37a6cc 24px,#36a3cc 32px,#34a0cc 40px,#339bcc 48px,#3395cc 56px,#3292cc 59px,#328fcc 62px,#328ccc 65px,#3288cc 68px,#3385cc 71px,#3683cc 74px,#3b81cc 77px,#3e7fcc 80px,#437dcc 83px,#487bcc 86px,#4d7acc 89px,#5378cc 92px,#5a77cc 95px,#6177cc 98px,#747ccc 106px,#8575cc 114px,#a37acc 122px,#b482cc 130px,#bb7acc 138px,#be74cc 146px,#bf70cc 149px,#c06bcc 152px,#c166cc 155px,#c261cc 158px,#c35acc 161px,#c454cc 164px,#c54ccc 167px,#c648cb 170px,#c644c8 173px,#c741c6 176px,#c73dc4 179px,#c83ac1 182px,#c836bf 185px,#c933bc 188px,#c92fba 191px,#c92cb7 194px,#ca28b5 197px,#ca25b2 200px,#cb21b0 203px,#cb1ead 206px,#cc1aaa 209px,#cc0fa6 212px,#cc04a2 215px,#cc00a0 218px,#cc009e 221px,#cc009c 224px,#cc009b 227px,#cc0099 230px,#cc0098 233px,#cc0096 236px,#cc0095 239px,#cc0093 242px,#cc0092 245px,#cc0091 248px,#cc008f 251px,#cc008e 254px,#cc008d 257px,#cc008b 260px,#cc008a 263px,#cc0089 266px,#cc0088 269px,#cc0087 272px,#cc0084 280px,#cc0081 288px,#cc007e 296px,#cc007c 304px,#cc0079 311px)"></i><i style="margin-left:97px;width:303px;background:linear-gradient(90deg,#38accc 0px,#38a9cc 8px,#37a7cc 16px,#36a4cc 24px,#35a1cc 32px,#349dcc 40px,#3398cc 48px,#3290cc 56px,#328ecc 59px,#328acc 62px,#3187cc 65px,#3283cc 68px,#3481cc 71px,#387ecc 74px,#3c7ccc 77px,#407acc 80px,#4578cc 83px,#4a77cc 86px,#5075cc 89px,#5674cc 92px,#5d74cc 95px,#6475cc 98px,#7274cc 106px,#8d71cc 114px,#a878cc 122px,#b57ccc 130px,#bb74cc 138px,#bc72cc 141px,#bd6fcc 144px,#bf6ccc 147px,#bf67cc 150px,#c062cc 153px,#c15dcc 156px,#c256cc 159px,#c350cc 162px,#c548cc 165px,#c642cb 168px,#c63ec9 171px,#c63bc7 174px,#c737c5 177px,#c734c2 180px,#c830c0 183px,#c82dbd 186px,#c829bb 189px,#c925b8 192px,#c922b6 195px,#ca1eb3 198px,#ca1bb0 201px,#cb13ad 204px,#cb07a8 207px,#cc00a5 210px,#cc00a3 213px,#cc00a1 216px,#cc00a0 219px,#cc009e 222px,#cc009c 225px,#cc009b 228px,#cc0099 231px,#cc0098 234px,#cc0097 237px,#cc0095 240px,#cc0094 243px,#cc0092 246px,#cc0091 249px,#cc0090 252px,#cc008e 255px,#cc008d 258px,#cc008c 261px,#cc008b 264px,#cc0088 272px,#cc0085 280px,#cc0082 288px,#cc007f 296px,#cc007d 303px)"></i><i style="margin-left:99px;width:293px;background:linear-gradient(90deg,#38aacc 0px,#37a7cc 8px,#36a4cc 16px,#35a1cc 24px,#349ecc 32px,#3399cc 40px,#3293cc 48px,#328bcc 56px,#3188cc 59px,#3184cc 62px,#3281cc 65px,#347ecc 68px,#377bcc 71px,#3b79cc 74px,#3f77cc 77px,#4375cc 80px,#4873cc 83px,#4e71cc 86px,#5470cc 89px,#5b71cc 92px,#6272cc 95px,#706fcc 103px,#8d6dcc 111px,#a774cc 119px,#b377cc 127px,#ba70cc 135px,#bb6dcc 138px,#bd6bcc 141px,#be68cc 144px,#bf63cc 147px,#bf5ecc 150px,#c058cc 153px,#c152cc 156px,#c34bcc 159px,#c444cc 162px,#c53ccc 165px,#c638ca 168px,#c634c8 171px,#c631c5 174px,#c72dc3 177px,#c72ac0 180px,#c826be 183px,#c823bb 186px,#c81fb9 189px,#c91cb6 192px,#c916b3 195px,#ca0aaf 198px,#ca01ac 201px,#cb00a9 204px,#cb00a7 207px,#cc00a5 210px,#cc00a3 213px,#cc00a1 216px,#cc00a0 219px,#cc009e 222px,#cc009d 225px,#cc009b 228px,#cc009a 231px,#cc0098 234px,#cc0097 237px,#cc0095 240px,#cc0094 243px,#cc0093 246px,#cc0091 249px,#cc0090 252px,#cc008f 255px,#cc008c 263px,#cc0089 271px,#cc0086 279px,#cc0083 287px,#cc0081 293px)"></i><i style="margin-left:100px;width:285px;background:linear-gradient(90deg,#37a8cc 0px,#36a5cc 8px,#35a2cc 16px,#349fcc 24px,#339bcc 32px,#3395cc 40px,#328ecc 48px,#328bcc 51px,#3188cc 54px,#3185cc 57px,#3181cc 60px,#317ecc 63px,#337acc 66px,#3678cc 69px,#3a76cc 72px,#3d73cc 75px,#4271cc 78px,#476fcc 81px,#4d6dcc 84px,#536dcc 87px,#596ecc 90px,#606fcc 93px,#6d6acc 101px,#8c69cc 109px,#a670cc 117px,#b273cc 125px,#b570cc 128px,#b86dcc 131px,#ba6bcc 134px,#bb68cc 137px,#bc66cc 140px,#bd62cc 143px,#be5dcc 146px,#bf58cc 149px,#c052cc 152px,#c14ccc 155px,#c245cc 158px,#c33dcc 161px,#c434cc 164px,#c531ca 167px,#c62dc8 170px,#c629c5 173px,#c626c3 176px,#c722c0 179px,#c71fbe 182px,#c81bbb 185px,#c815b8 188px,#c80ab5 191px,#c901b1 194px,#c900af 197px,#ca00ac 200px,#cb00aa 203px,#cb00a8 206px,#cc00a6 209px,#cc00a4 212px,#cc00a2 215px,#cc00a1 218px,#cc009f 221px,#cc009e 224px,#cc009c 227px,#cc009b 230px,#cc0099 233px,#cc0098 236px,#cc0097 239px,#cc0095 242px,#cc0094 245px,#cc0093 248px,#cc008f 256px,#cc008c 264px,#cc0089 272px,#cc0087 280px,#cc0085 285px)"></i><i style="margin-left:101px;width:277px;background:linear-gradient(90deg,#37a6cc 0px,#36a3cc 8px,#35a0cc 16px,#339dcc 24px,#3398cc 32px,#3291cc 40px,#328acc 48px,#3187cc 51px,#3183cc 54px,#3180cc 57px,#317ccc 60px,#3278cc 63px,#3476cc 66px,#3873cc 69px,#3b71cc 72px,#3f6ecc 75px,#446ccc 78px,#496acc 81px,#4f69cc 84px,#556acc 87px,#5c6bcc 90px,#6966cc 98px,#8764cc 106px,#a26bcc 114px,#a86ecc 117px,#ae72cc 120px,#b16fcc 123px,#b46ccc 126px,#b769cc 129px,#b966cc 132px,#ba64cc 135px,#bb61cc 138px,#bc5ecc 141px,#bd59cc 144px,#be54cc 147px,#bf4ecc 150px,#c048cc 153px,#c141cc 156px,#c239cc 159px,#c430cc 162px,#c52acb 165px,#c526c9 168px,#c523c6 171px,#c61fc4 174px,#c61cc1 177px,#c717bf 180px,#c70dbb 183px,#c703b8 186px,#c800b5 189px,#c800b3 192px,#c900b1 195px,#ca00ae 198px,#ca00ac 201px,#cb00aa 204px,#cb00a8 207px,#cc00a5 210px,#cc00a4 213px,#cc00a2 216px,#cc00a1 219px,#cc009f 222px,#cc009e 225px,#cc009c 228px,#cc009b 231px,#cc0099 234px,#cc0098 237px,#cc0097 240px,#cc0096 243px,#cc0092 251px,#cc008f 259px,#cc008c 267px,#cc0089 275px,#cc0089 277px)"></i><i style="margin-left:102px;width:268px;background:linear-gradient(90deg,#36a4cc 0px,#35a1cc 8px,#349ecc 16px,#339acc 24px,#3394cc 32px,#328ecc 40px,#3186cc 48px,#3182cc 51px,#317ecc 54px,#307acc 57px,#3177cc 60px,#3274cc 63px,#3671cc 66px,#396ecc 69px,#3d6ccc 72px,#4169cc 75px,#4667cc 78px,#4c66cc 81px,#5267cc 84px,#5868cc 87px,#5f68cc 90px,#6c60cc 98px,#8e62cc 106px,#a569cc 114px,#ab6ccc 117px,#af6ccc 120px,#b268cc 123px,#b565cc 126px,#b863cc 129px,#b960cc 132px,#ba5ecc 135px,#bb5bcc 138px,#bc57cc 141px,#bd52cc 144px,#be4ccc 147px,#bf46cc 150px,#c03fcc 153px,#c137cc 156px,#c22fcc 159px,#c425cc 162px,#c421ca 165px,#c51dc8 168px,#c51ac6 171px,#c614c3 174px,#c609c0 177px,#c601bd 180px,#c700ba 183px,#c700b8 186px,#c800b5 189px,#c800b3 192px,#c900b1 195px,#c900ae 198px,#ca00ac 201px,#cb00aa 204px,#cb00a8 207px,#cc00a6 210px,#cc00a4 213px,#cc00a2 216px,#cc00a1 219px,#cc00a0 222px,#cc009e 225px,#cc009d 228px,#cc009b 231px,#cc009a 234px,#cc0097 242px,#cc0093 250px,#cc0090 258px,#cc008d 266px,#cc008d 268px)"></i><i style="margin-left:103px;width:260px;background:linear-gradient(90deg,#35a2cc 0px,#349fcc 8px,#339ccc 16px,#3397cc 24px,#3290cc 32px,#3289cc 40px,#3181cc 48px,#307dcc 51px,#3079cc 54px,#3075cc 57px,#3172cc 60px,#346fcc 63px,#376ccc 66px,#3a69cc 69px,#3e66cc 72px,#4364cc 75px,#4863cc 78px,#4e64cc 81px,#5464cc 84px,#5b65cc 87px,#675ccc 95px,#8a5dcc 103px,#955fcc 106px,#9e62cc 109px,#a465cc 112px,#aa68cc 115px,#ae67cc 118px,#b164cc 121px,#b461cc 124px,#b75ecc 127px,#b85ccc 130px,#b959cc 133px,#ba57cc 136px,#bb53cc 139px,#bc4ecc 142px,#bd48cc 145px,#be42cc 148px,#bf3bcc 151px,#c033cc 154px,#c12bcc 157px,#c321cc 160px,#c41acb 163px,#c416c9 166px,#c40cc6 169px,#c503c3 172px,#c500c1 175px,#c600be 178px,#c600bc 181px,#c700b9 184px,#c700b7 187px,#c800b5 190px,#c900b2 193px,#c900b0 196px,#ca00ae 199px,#ca00ac 202px,#cb00aa 205px,#cb00a8 208px,#cc00a6 211px,#cc00a4 214px,#cc00a2 217px,#cc00a1 220px,#cc00a0 223px,#cc009e 226px,#cc009d 229px,#cc0099 237px,#cc0096 245px,#cc0093 253px,#cc0090 260px)"></i><i style="margin-left:104px;width:252px;background:linear-gradient(90deg,#35a0cc 0px,#349dcc 8px,#3399cc 16px,#3293cc 24px,#328dcc 32px,#3185cc 40px,#3182cc 43px,#317ecc 46px,#307acc 49px,#3077cc 52px,#3073cc 55px,#306fcc 58px,#336ccc 61px,#3669cc 64px,#3966cc 67px,#3d63cc 70px,#4260cc 73px,#4760cc 76px,#4c60cc 79px,#5261cc 82px,#575fcc 85px,#6757cc 93px,#7457cc 96px,#8258cc 99px,#8d5acc 102px,#985ccc 105px,#9f5fcc 108px,#a562cc 111px,#aa65cc 114px,#ae62cc 117px,#b15fcc 120px,#b45ccc 123px,#b659cc 126px,#b757cc 129px,#b854cc 132px,#ba52cc 135px,#bb4dcc 138px,#bc48cc 141px,#bd42cc 144px,#be3bcc 147px,#bf34cc 150px,#c02ccc 153px,#c124cc 156px,#c219cc 159px,#c30bcc 162px,#c302c9 165px,#c400c6 168px,#c400c4 171px,#c500c1 174px,#c600bf 177px,#c600bc 180px,#c700ba 183px,#c700b8 186px,#c800b5 189px,#c800b3 192px,#c900b1 195px,#c900af 198px,#ca00ad 201px,#ca00ab 204px,#cb00a9 207px,#cb00a7 210px,#cc00a5 213px,#cc00a3 216px,#cc00a2 219px,#cc00a0 222px,#cc009d 230px,#cc009a 238px,#cc0096 246px,#cc0094 252px)"></i><i style="margin-left:105px;width:244px;background:linear-gradient(90deg,#349ecc 0px,#339bcc 8px,#3395cc 16px,#3290cc 24px,#3189cc 32px,#3180cc 40px,#307dcc 43px,#3079cc 46px,#3075cc 49px,#2f71cc 52px,#2f6dcc 55px,#316acc 58px,#3466cc 61px,#3763cc 64px,#3b60cc 67px,#3f5ecc 70px,#445dcc 73px,#495dcc 76px,#4f5dcc 79px,#535ccc 82px,#6353cc 90px,#7152cc 93px,#7e54cc 96px,#8955cc 99px,#9457cc 102px,#9c5acc 105px,#a25dcc 108px,#a861cc 111px,#ab5fcc 114px,#af5ccc 117px,#b259cc 120px,#b556cc 123px,#b653cc 126px,#b751cc 129px,#b84ecc 132px,#b94bcc 135px,#ba45cc 138px,#bb40cc 141px,#bc39cc 144px,#bd33cc 147px,#be2bcc 150px,#bf1ecc 153px,#c00ccc 156px,#c101cc 159px,#c300cb 162px,#c300c8 165px,#c400c6 168px,#c500c3 171px,#c500c1 174px,#c600be 177px,#c600bc 180px,#c700ba 183px,#c700b7 186px,#c800b5 189px,#c800b3 192px,#c900b1 195px,#c900af 198px,#ca00ad 201px,#ca00ab 204px,#cb00a9 207px,#cb00a7 210px,#cc00a5 213px,#cc00a1 221px,#cc009e 229px,#cc009a 237px,#cc0098 244px)"></i><i style="margin-left:106px;width:235px;background:linear-gradient(90deg,#339ccc 0px,#3398cc 8px,#3292cc 16px,#328ccc 24px,#3184cc 32px,#307ccc 40px,#3078cc 43px,#3074cc 46px,#2f70cc 49px,#2f6ccc 52px,#3068cc 55px,#3264cc 58px,#3561cc 61px,#385ecc 64px,#3c5bcc 67px,#415bcc 70px,#465acc 73px,#4b5acc 76px,#5058cc 79px,#5254cc 82px,#5851cc 85px,#634fcc 88px,#6e4fcc 91px,#7d50cc 94px,#8852cc 97px,#9354cc 100px,#9b56cc 103px,#a159cc 106px,#a75dcc 109px,#aa5acc 112px,#ae57cc 115px,#b154cc 118px,#b451cc 121px,#b54fcc 124px,#b64ccc 127px,#b74acc 130px,#b946cc 133px,#ba41cc 136px,#ba3bcc 139px,#bb35cc 142px,#bc2ccc 145px,#bc18cc 148px,#bd06cc 151px,#be01cc 154px,#c100cc 157px,#c200cc 160px,#c300c9 163px,#c400c7 166px,#c400c4 169px,#c500c2 172px,#c500c0 175px,#c600bd 178px,#c600bb 181px,#c700b9 184px,#c800b7 187px,#c800b5 190px,#c900b2 193px,#c900b0 196px,#c900ae 199px,#ca00ac 202px,#ca00ab 205px,#cb00a9 208px,#cc00a4 216px,#cc00a0 224px,#cc009d 232px,#cc009c 235px)"></i><i style="margin-left:108px;width:226px;background:linear-gradient(90deg,#3399cc 0px,#3294cc 8px,#328ecc 16px,#3187cc 24px,#317fcc 32px,#3076cc 40px,#2f72cc 43px,#2f6ecc 46px,#2f69cc 49px,#2f65cc 52px,#3161cc 55px,#345ecc 58px,#375acc 61px,#3b59cc 64px,#3f58cc 67px,#4457cc 70px,#4b58cc 73px,#4c53cc 76px,#5050cc 79px,#564ccc 82px,#634bcc 85px,#724acc 88px,#7d4ccc 91px,#884ecc 94px,#9350cc 97px,#9a52cc 100px,#a055cc 103px,#a659cc 106px,#a956cc 109px,#ac53cc 112px,#b050cc 115px,#b34dcc 118px,#b44bcc 121px,#b548cc 124px,#b745cc 127px,#b842cc 130px,#b93dcc 133px,#ba37cc 136px,#b925cc 139px,#b90dcc 142px,#ba02cc 145px,#bc01cc 148px,#be01cc 151px,#c001cc 154px,#c200cc 157px,#c300ca 160px,#c300c8 163px,#c400c6 166px,#c500c3 169px,#c500c1 172px,#c600bf 175px,#c600bc 178px,#c700ba 181px,#c700b8 184px,#c800b6 187px,#c800b4 190px,#c900b2 193px,#c900b0 196px,#ca00ae 199px,#cb00a9 207px,#cc00a4 215px,#cc00a1 223px,#cc009f 226px)"></i><i style="margin-left:109px;width:218px;background:linear-gradient(90deg,#3396cc 0px,#3290cc 8px,#328acc 16px,#3183cc 24px,#307bcc 32px,#3077cc 35px,#3073cc 38px,#2f6fcc 41px,#2f6bcc 44px,#2e66cc 47px,#2f62cc 50px,#315ecc 53px,#335acc 56px,#3657cc 59px,#3a56cc 62px,#3e55cc 65px,#4354cc 68px,#4854cc 71px,#494ecc 74px,#4e4bcc 77px,#5548cc 80px,#6347cc 83px,#7147cc 86px,#7c48cc 89px,#884acc 92px,#924ccc 95px,#994fcc 98px,#9f52cc 101px,#a455cc 104px,#a852cc 107px,#ab4fcc 110px,#af4ccc 113px,#b249cc 116px,#b346cc 119px,#b444cc 122px,#b641cc 125px,#b73ecc 128px,#b731cc 131px,#b517cc 134px,#b505cc 137px,#b702cc 140px,#b902cc 143px,#bb02cc 146px,#bd01cc 149px,#bf01cc 152px,#c100cc 155px,#c300cb 158px,#c300c9 161px,#c400c7 164px,#c400c4 167px,#c500c2 170px,#c500c0 173px,#c600be 176px,#c600bb 179px,#c700b9 182px,#c700b7 185px,#c800b5 188px,#c800b3 191px,#ca00ae 199px,#cb00a9 207px,#cc00a5 215px,#cc00a3 218px)"></i><i style="margin-left:110px;width:209px;background:linear-gradient(90deg,#3293cc 0px,#328dcc 8px,#3187cc 16px,#317fcc 24px,#3076cc 32px,#2f72cc 35px,#2f6ecc 38px,#2f6acc 41px,#2e65cc 44px,#2e60cc 47px,#2f5ccc 50px,#3158cc 53px,#3455cc 56px,#3754cc 59px,#3b52cc 62px,#4051cc 65px,#4551cc 68px,#464bcc 71px,#4b48cc 74px,#5145cc 77px,#5f43cc 80px,#6d43cc 83px,#7844cc 86px,#8446cc 89px,#8e48cc 92px,#964acc 95px,#9c4dcc 98px,#a250cc 101px,#a64fcc 104px,#a94ccc 107px,#ad49cc 110px,#b046cc 113px,#b243cc 116px,#b340cc 119px,#b43dcc 122px,#b32bcc 125px,#b111cc 128px,#b204cc 131px,#b403cc 134px,#b603cc 137px,#b802cc 140px,#ba02cc 143px,#bc01cc 146px,#be01cc 149px,#c001cc 152px,#c200cc 155px,#c300cb 158px,#c300c8 161px,#c400c6 164px,#c400c4 167px,#c500c2 170px,#c500bf 173px,#c600bd 176px,#c600bb 179px,#c700b9 182px,#c700b7 185px,#c900b2 193px,#ca00ad 201px,#cb00a8 209px)"></i><i style="margin-left:111px;width:201px;background:linear-gradient(90deg,#3290cc 0px,#328acc 8px,#3183cc 16px,#307bcc 24px,#2f71cc 32px,#2f6dcc 35px,#2f69cc 38px,#2e65cc 41px,#2e5fcc 44px,#2e5bcc 47px,#3056cc 50px,#3253cc 53px,#3552cc 56px,#3950cc 59px,#3d4fcc 62px,#424ecc 65px,#4348cc 68px,#4745cc 71px,#4d41cc 74px,#5b40cc 77px,#6a3fcc 80px,#7440cc 83px,#8042cc 86px,#8a43cc 89px,#9346cc 92px,#9948cc 95px,#9f4bcc 98px,#a34ccc 101px,#a749cc 104px,#aa46cc 107px,#ae43cc 110px,#b040cc 113px,#b13acc 116px,#af23cc 119px,#ad0bcc 122px,#ae04cc 125px,#b004cc 128px,#b303cc 131px,#b503cc 134px,#b702cc 137px,#b902cc 140px,#bb02cc 143px,#bd01cc 146px,#be01cc 149px,#c000cc 152px,#c200cc 155px,#c300ca 158px,#c300c8 161px,#c400c6 164px,#c400c3 167px,#c500c1 170px,#c500bf 173px,#c600bd 176px,#c600bb 179px,#c800b6 187px,#c900b1 195px,#ca00ad 201px)"></i><i style="margin-left:113px;width:192px;background:linear-gradient(90deg,#328ccc 0px,#3185cc 8px,#317ecc 16px,#3075cc 24px,#2f72cc 27px,#2f6ecc 30px,#2f6acc 33px,#2e65cc 36px,#2e60cc 39px,#2d5bcc 42px,#2e56cc 45px,#3052cc 48px,#3250cc 51px,#354ecc 54px,#394dcc 57px,#3e4ccc 60px,#3f47cc 63px,#4243cc 66px,#473fcc 69px,#513dcc 72px,#603bcc 75px,#6c3ccc 78px,#783dcc 81px,#833fcc 84px,#8d40cc 87px,#9443cc 90px,#9a45cc 93px,#a048cc 96px,#a347cc 99px,#a744cc 102px,#ab41cc 105px,#ad3acc 108px,#ab23cc 111px,#a90ccc 114px,#aa05cc 117px,#ad05cc 120px,#af04cc 123px,#b104cc 126px,#b303cc 129px,#b503cc 132px,#b702cc 135px,#b902cc 138px,#bb02cc 141px,#bd01cc 144px,#be01cc 147px,#c000cc 150px,#c200cc 153px,#c300ca 156px,#c300c8 159px,#c400c6 162px,#c400c4 165px,#c500c2 168px,#c500c0 171px,#c700ba 179px,#c800b5 187px,#c900b2 192px)"></i><i style="margin-left:114px;width:184px;background:linear-gradient(90deg,#3188cc 0px,#3181cc 8px,#307acc 16px,#2f71cc 24px,#2f6dcc 27px,#2e69cc 30px,#2e64cc 33px,#2e5fcc 36px,#2d5acc 39px,#2d55cc 42px,#2e51cc 45px,#304ecc 48px,#334ccc 51px,#364bcc 54px,#3b4acc 57px,#3c44cc 60px,#3f40cc 63px,#443dcc 66px,#4d3acc 69px,#5c38cc 72px,#6838cc 75px,#7439cc 78px,#7f3bcc 81px,#8a3ccc 84px,#913ecc 87px,#9741cc 90px,#9d44cc 93px,#a144cc 96px,#a541cc 99px,#a635cc 102px,#a51bcc 105px,#a508cc 108px,#a706cc 111px,#a905cc 114px,#ac05cc 117px,#ae04cc 120px,#b004cc 123px,#b204cc 126px,#b403cc 129px,#b603cc 132px,#b802cc 135px,#ba02cc 138px,#bb01cc 141px,#bd01cc 144px,#bf01cc 147px,#c100cc 150px,#c200cc 153px,#c300ca 156px,#c300c8 159px,#c400c6 162px,#c500c0 170px,#c700bb 178px,#c700b7 184px)"></i><i style="margin-left:115px;width:175px;background:linear-gradient(90deg,#3185cc 0px,#307ecc 8px,#3075cc 16px,#2f6ccc 24px,#2e68cc 27px,#2e63cc 30px,#2d5fcc 33px,#2d59cc 36px,#2c54cc 39px,#2d4fcc 42px,#2f4dcc 45px,#314acc 48px,#3448cc 51px,#3947cc 54px,#3941cc 57px,#3c3dcc 60px,#413acc 63px,#4a37cc 66px,#5835cc 69px,#6535cc 72px,#7036cc 75px,#7b37cc 78px,#8638cc 81px,#8e3acc 84px,#943dcc 87px,#9a3fcc 90px,#9f40cc 93px,#9e2ecc 96px,#9c14cc 99px,#9f07cc 102px,#a406cc 105px,#a606cc 108px,#a805cc 111px,#ab05cc 114px,#ad05cc 117px,#af04cc 120px,#b104cc 123px,#b303cc 126px,#b503cc 129px,#b702cc 132px,#b802cc 135px,#ba02cc 138px,#bc01cc 141px,#be01cc 144px,#bf01cc 147px,#c100cc 150px,#c300cb 153px,#c300c9 156px,#c400c4 164px,#c600be 172px,#c600bd 175px)"></i><i style="margin-left:116px;width:167px;background:linear-gradient(90deg,#3181cc 0px,#307acc 8px,#2f71cc 16px,#2e67cc 24px,#2e63cc 27px,#2d5ecc 30px,#2d59cc 33px,#2c53cc 36px,#2c4ecc 39px,#2d4bcc 42px,#2f49cc 45px,#3246cc 48px,#3645cc 51px,#363fcc 54px,#393bcc 57px,#3e37cc 60px,#4634cc 63px,#5432cc 66px,#6132cc 69px,#6c32cc 72px,#7733cc 75px,#8235cc 78px,#8b36cc 81px,#9138cc 84px,#9637cc 87px,#9526cc 90px,#930fcc 93px,#9709cc 96px,#9d08cc 99px,#a207cc 102px,#a506cc 105px,#a806cc 108px,#aa05cc 111px,#ac05cc 114px,#ae04cc 117px,#b004cc 120px,#b204cc 123px,#b403cc 126px,#b503cc 129px,#b702cc 132px,#b902cc 135px,#bb02cc 138px,#bd01cc 141px,#be01cc 144px,#c001cc 147px,#c200cc 150px,#c300c7 158px,#c500c2 166px,#c500c1 167px)"></i><i style="margin-left:118px;width:158px;background:linear-gradient(90deg,#307dcc 0px,#3075cc 8px,#2f6bcc 16px,#2e67cc 19px,#2e63cc 22px,#2d5fcc 25px,#2d5acc 28px,#2c54cc 31px,#2c4fcc 34px,#2b4bcc 37px,#2d48cc 40px,#2f45cc 43px,#3243cc 46px,#343fcc 49px,#3539cc 52px,#3936cc 55px,#3e32cc 58px,#4b30cc 61px,#562fcc 64px,#652fcc 67px,#7030cc 70px,#7b31cc 73px,#8532cc 76px,#8b31cc 79px,#8b22cc 82px,#8a10cc 85px,#8e0acc 88px,#9409cc 91px,#9908cc 94px,#9e07cc 97px,#a406cc 100px,#a606cc 103px,#a806cc 106px,#aa05cc 109px,#ac05cc 112px,#ae04cc 115px,#b004cc 118px,#b203cc 121px,#b403cc 124px,#b603cc 127px,#b702cc 130px,#b902cc 133px,#bb02cc 136px,#bd01cc 139px,#be01cc 142px,#c200cc 150px,#c400c6 158px)"></i><i style="margin-left:119px;width:150px;background:linear-gradient(90deg,#3079cc 0px,#2f70cc 8px,#2e67cc 16px,#2e62cc 19px,#2d5ecc 22px,#2d59cc 25px,#2c53cc 28px,#2c4ecc 31px,#2b4acc 34px,#2b47cc 37px,#2d44cc 40px,#3041cc 43px,#313dcc 46px,#3337cc 49px,#3734cc 52px,#3b30cc 55px,#482dcc 58px,#542ccc 61px,#612ccc 64px,#6d2ccc 67px,#772dcc 70px,#7f28cc 73px,#801acc 76px,#810ecc 79px,#870ccc 82px,#8c0bcc 85px,#920acc 88px,#9709cc 91px,#9d08cc 94px,#a207cc 97px,#a506cc 100px,#a706cc 103px,#a905cc 106px,#ab05cc 109px,#ad04cc 112px,#af04cc 115px,#b104cc 118px,#b303cc 121px,#b503cc 124px,#b603cc 127px,#b802cc 130px,#ba02cc 133px,#be01cc 141px,#c200cc 149px,#c300cb 150px)"></i><i style="margin-left:121px;width:140px;background:linear-gradient(90deg,#3074cc 0px,#2f6bcc 8px,#2e60cc 16px,#2d5bcc 19px,#2d56cc 22px,#2c51cc 25px,#2b4dcc 28px,#2a48cc 31px,#2a44cc 34px,#2c41cc 37px,#2f3fcc 40px,#2f38cc 43px,#3134cc 46px,#3630cc 49px,#3c2ccc 52px,#492acc 55px,#5a28cc 58px,#6229cc 61px,#6b27cc 64px,#711ecc 67px,#7612cc 70px,#7c0ecc 73px,#820dcc 76px,#870ccc 79px,#8d0bcc 82px,#920acc 85px,#9709cc 88px,#9c08cc 91px,#a207cc 94px,#a506cc 97px,#a706cc 100px,#a905cc 103px,#ab05cc 106px,#ad05cc 109px,#af04cc 112px,#b104cc 115px,#b203cc 118px,#b403cc 121px,#b603cc 124px,#ba02cc 132px,#bf01cc 140px)"></i><i style="margin-left:122px;width:132px;background:linear-gradient(90deg,#2f70cc 0px,#2e66cc 8px,#2d5bcc 16px,#2d56cc 19px,#2c50cc 22px,#2b4ccc 25px,#2a48cc 28px,#2943cc 31px,#2b40cc 34px,#2d3dcc 37px,#2d37cc 40px,#2f32cc 43px,#332ecc 46px,#382acc 49px,#4528cc 52px,#5026cc 55px,#5c22cc 58px,#6119cc 61px,#6811cc 64px,#720fcc 67px,#7b0ecc 70px,#800dcc 73px,#860ccc 76px,#8b0bcc 79px,#900acc 82px,#9609cc 85px,#9b08cc 88px,#a007cc 91px,#a406cc 94px,#a606cc 97px,#a806cc 100px,#aa05cc 103px,#ac05cc 106px,#ae04cc 109px,#b004cc 112px,#b204cc 115px,#b303cc 118px,#b802cc 126px,#bb02cc 132px)"></i><i style="margin-left:124px;width:123px;background:linear-gradient(90deg,#2f6bcc 0px,#2e60cc 8px,#2d5ccc 11px,#2d57cc 14px,#2c52cc 17px,#2b4dcc 20px,#2a49cc 23px,#2944cc 26px,#293fcc 29px,#2a3ccc 32px,#2b37cc 35px,#2c31cc 38px,#302ecc 41px,#3429cc 44px,#3e27cc 47px,#4a21cc 50px,#511acc 53px,#5814cc 56px,#6312cc 59px,#6d10cc 62px,#770fcc 65px,#7d0dcc 68px,#830ccc 71px,#880ccc 74px,#8d0bcc 77px,#920acc 80px,#9709cc 83px,#9c08cc 86px,#a107cc 89px,#a506cc 92px,#a706cc 95px,#a905cc 98px,#ab05cc 101px,#ac05cc 104px,#ae04cc 107px,#b004cc 110px,#b503cc 118px,#b702cc 123px)"></i><i style="margin-left:125px;width:114px;background:linear-gradient(90deg,#2e66cc 0px,#2d5bcc 8px,#2d56cc 11px,#2c51cc 14px,#2b4dcc 17px,#2a49cc 20px,#2944cc 23px,#283fcc 26px,#293acc 29px,#2a36cc 32px,#2a30cc 35px,#2e2ccc 38px,#3128cc 41px,#3821cc 44px,#421acc 47px,#4d15cc 50px,#5714cc 53px,#6112cc 56px,#6b10cc 59px,#750fcc 62px,#7c0ecc 65px,#810dcc 68px,#870ccc 71px,#8c0bcc 74px,#910acc 77px,#9609cc 80px,#9b08cc 83px,#a007cc 86px,#a406cc 89px,#a606cc 92px,#a806cc 95px,#aa05cc 98px,#ac05cc 101px,#ad04cc 104px,#b203cc 112px,#b303cc 114px)"></i><i style="margin-left:127px;width:105px;background:linear-gradient(90deg,#2e60cc 0px,#2c54cc 8px,#2c4fcc 11px,#2b4bcc 14px,#2a47cc 17px,#2942cc 20px,#283dcc 23px,#2938cc 26px,#2832cc 29px,#292dcc 32px,#2c28cc 35px,#2d21cc 38px,#361bcc 41px,#4417cc 44px,#4e15cc 47px,#5913cc 50px,#6312cc 53px,#6d10cc 56px,#760fcc 59px,#7c0ecc 62px,#820dcc 65px,#870ccc 68px,#8c0bcc 71px,#910acc 74px,#9609cc 77px,#9b08cc 80px,#9f07cc 83px,#a406cc 86px,#a606cc 89px,#a806cc 92px,#aa05cc 95px,#ae04cc 103px,#af04cc 105px)"></i><i style="margin-left:129px;width:96px;background:linear-gradient(90deg,#2d5acc 0px,#2c55cc 3px,#2c50cc 6px,#2b4ccc 9px,#2a48cc 12px,#2944cc 15px,#283ecc 18px,#2739cc 21px,#2733cc 24px,#262ccc 27px,#2827cc 30px,#2a21cc 33px,#311dcc 36px,#3e19cc 39px,#4d15cc 42px,#5414cc 45px,#5e12cc 48px,#6811cc 51px,#710fcc 54px,#7a0ecc 57px,#7f0dcc 60px,#840ccc 63px,#890bcc 66px,#8e0acc 69px,#930acc 72px,#9809cc 75px,#9c08cc 78px,#a107cc 81px,#a506cc 84px,#a606cc 87px,#ab05cc 95px,#ac05cc 96px)"></i><i style="margin-left:130px;width:88px;background:linear-gradient(90deg,#2c54cc 0px,#2c50cc 3px,#2b4ccc 6px,#2a48cc 9px,#2943cc 12px,#283ecc 15px,#2739cc 18px,#2532cc 21px,#252bcc 24px,#2727cc 27px,#2a22cc 30px,#301dcc 33px,#3c19cc 36px,#4416cc 39px,#5214cc 42px,#5c13cc 45px,#6611cc 48px,#6f10cc 51px,#780ecc 54px,#7e0dcc 57px,#830ccc 60px,#880ccc 63px,#8c0bcc 66px,#910acc 69px,#9609cc 72px,#9b08cc 75px,#9f07cc 78px,#a406cc 81px,#a806cc 88px)"></i><i style="margin-left:132px;width:78px;background:linear-gradient(90deg,#2c4ecc 0px,#2b4acc 3px,#2a46cc 6px,#2942cc 9px,#283ccc 12px,#2636cc 15px,#252fcc 18px,#252acc 21px,#2825cc 24px,#2b20cc 27px,#331ccc 30px,#3f18cc 33px,#4d15cc 36px,#5414cc 39px,#5e12cc 42px,#6711cc 45px,#7110cc 48px,#790ecc 51px,#7e0dcc 54px,#830ccc 57px,#880ccc 60px,#8d0bcc 63px,#910acc 66px,#9609cc 69px,#9b08cc 72px,#a306cc 78px)"></i><i style="margin-left:134px;width:69px;background:linear-gradient(90deg,#2a49cc 0px,#2944cc 3px,#2840cc 6px,#273acc 9px,#2634cc 12px,#242dcc 15px,#2628cc 18px,#2924cc 21px,#2c1fcc 24px,#361bcc 27px,#4217cc 30px,#4d15cc 33px,#5614cc 36px,#6012cc 39px,#6911cc 42px,#720fcc 45px,#7a0ecc 48px,#7f0dcc 51px,#830ccc 54px,#880bcc 57px,#8d0bcc 60px,#920acc 63px,#9b08cc 69px)"></i><i style="margin-left:136px;width:60px;background:linear-gradient(90deg,#2943cc 0px,#283ecc 3px,#2738cc 6px,#2532cc 9px,#242bcc 12px,#2727cc 15px,#2a23cc 18px,#2e1ecc 21px,#391acc 24px,#4416cc 27px,#4e15cc 30px,#5813cc 33px,#6112cc 36px,#6a11cc 39px,#730fcc 42px,#7a0ecc 45px,#7f0dcc 48px,#840ccc 51px,#890bcc 54px,#8d0bcc 57px,#920acc 60px)"></i><i style="margin-left:139px;width:49px;background:linear-gradient(90deg,#273acc 0px,#2634cc 3px,#242dcc 6px,#2629cc 9px,#2824cc 12px,#2b1fcc 15px,#341ccc 18px,#4018cc 21px,#4d15cc 24px,#5414cc 27px,#5d13cc 30px,#6611cc 33px,#6f10cc 36px,#770fcc 39px,#7c0ecc 42px,#810dcc 45px,#860ccc 48px,#870ccc 49px)"></i><i style="margin-left:141px;width:40px;background:linear-gradient(90deg,#2532cc 0px,#242bcc 3px,#2728cc 6px,#2923cc 9px,#2d1ecc 12px,#371bcc 15px,#4217cc 18px,#4d15cc 21px,#5514cc 24px,#5e12cc 27px,#6711cc 30px,#7010cc 33px,#780ecc 36px,#7d0ecc 39px,#7e0dcc 40px)"></i><i style="margin-left:144px;width:30px;background:linear-gradient(90deg,#2629cc 0px,#2825cc 3px,#2b20cc 6px,#321ccc 9px,#3d19cc 12px,#4416cc 15px,#5114cc 18px,#5a13cc 21px,#6312cc 24px,#6b10cc 27px,#740fcc 30px)"></i><i style="margin-left:148px;width:19px;background:linear-gradient(90deg,#2b21cc 0px,#311dcc 3px,#3c19cc 6px,#4416cc 9px,#5015cc 12px,#5913cc 15px,#6112cc 18px,#6411cc 19px)"></i></div><svg width="600" height="400" viewBox="0 0 600 400"><defs><clipPath id="lc"><polygon points="161.2,371.1 159.5,371.4 157.8,371.7 156.2,371.7 154.5,371.6 152.8,371.3 151.2,370.8 149.6,370.2 148.0,369.3 147.0,368.8 146.0,368.1 144.9,367.4 143.9,366.7 142.7,365.9 141.6,365.0 140.3,364.0 139.0,362.9 137.6,361.6 136.1,360.2 134.4,358.6 132.7,356.9 131.0,355.0 129.1,352.9 127.2,350.6 125.2,348.0 123.1,345.3 120.8,342.2 118.5,338.9 116.1,335.2 113.5,331.2 110.9,326.9 108.1,322.3 105.1,317.3 102.1,311.8 99.0,306.0 95.8,299.7 92.7,293.0 89.5,285.9 86.4,278.4 83.4,270.4 80.3,262.0 77.2,253.2 74.1,244.0 71.2,234.6 68.3,224.8 65.6,214.9 63.1,204.9 60.8,194.8 58.8,184.7 57.0,174.6 55.4,164.6 54.2,154.8 53.3,145.2 52.7,135.7 52.4,126.4 52.6,117.4 53.1,108.7 54.0,100.4 55.3,92.5 57.1,85.0 59.2,78.1 61.8,71.8 64.8,66.0 68.2,60.9 71.9,56.4 75.9,52.6 80.2,49.6 84.8,47.2 89.6,45.5 94.5,44.3 99.5,43.7 104.7,43.6 110.0,43.9 115.3,44.6 120.7,45.6 126.1,46.8 131.6,48.2 137.0,49.8 142.5,51.5 147.8,53.3 153.1,55.2 158.4,57.1 163.5,59.0 168.6,61.0 173.6,63.1 178.6,65.2 183.5,67.3 188.5,69.5 193.4,71.8 198.2,74.1 203.1,76.4 207.9,78.8 212.8,81.2 217.6,83.7 222.4,86.2 227.2,88.8 232.0,91.4 236.8,94.0 241.5,96.6 246.3,99.3 251.1,102.0 255.8,104.7 260.6,107.4 265.4,110.2 270.1,113.0 274.9,115.8 279.7,118.6 284.4,121.4 289.2,124.2 294.0,127.1 298.7,129.9 303.5,132.8 308.3,135.7 313.0,138.5 317.8,141.4 322.5,144.2 327.2,147.0 331.9,149.7 336.7,152.5 341.4,155.3 346.0,158.1 350.7,160.9 355.4,163.7 360.0,166.4 364.6,169.2 369.2,171.9 373.7,174.6 378.3,177.4 382.8,180.0 387.2,182.7 391.7,185.4 396.1,188.0 400.4,190.6 404.7,193.2 409.0,195.7 413.2,198.2 417.4,200.7 421.5,203.2 425.5,205.6 429.5,208.0 433.4,210.3 437.3,212.6 441.1,214.9 444.8,217.1 448.4,219.3 452.0,221.4 455.4,223.4 458.7,225.4 461.9,227.3 465.0,229.2 468.0,231.0 471.0,232.8 473.9,234.5 476.8,236.2 479.5,237.9 482.2,239.4 484.7,240.9 487.1,242.4 489.4,243.8 491.7,245.1 493.8,246.4 495.9,247.6 497.9,248.8 499.8,250.0 501.6,251.1 503.4,252.1 505.1,253.1 506.6,254.1 508.2,255.0 509.6,255.8 511.0,256.7 512.3,257.5 513.6,258.2 514.8,258.9 516.0,259.6 517.1,260.3 518.1,260.9 519.1,261.5 520.1,262.1 521.0,262.6 521.9,263.2 522.8,263.7 523.7,264.2 524.5,264.7 525.3,265.2 526.0,265.6 526.7,266.1 527.4,266.5 528.1,266.9 528.7,267.3 529.4,267.6 529.9,268.0 530.5,268.3 531.0,268.6 531.5,268.9 532.0,269.2"/></clipPath></defs><g clip-path="url(#lc)" fill="#001810" fill-opacity="0.28"><rect x="50.0" y="0" width="1" height="400"/><rect x="116.7" y="0" width="1" height="400"/><rect x="183.3" y="0" width="1" height="400"/><rect x="250.0" y="0" width="1" height="400"/><rect x="316.7" y="0" width="1" height="400"/><rect x="383.3" y="0" width="1" height="400"/><rect x="450.0" y="0" width="1" height="400"/><rect x="516.7" y="0" width="1" height="400"/><rect x="0" y="340.0" width="600" height="1"/><rect x="0" y="300.0" width="600" height="1"/><rect x="0" y="260.0" width="600" height="1"/><rect x="0" y="220.0" width="600" height="1"/><rect x="0" y="180.0" width="600" height="1"/><rect x="0" y="140.0" width="600" height="1"/><rect x="0" y="100.0" width="600" height="1"/><rect x="0" y="60.0" width="600" height="1"/><rect x="0" y="20.0" width="600" height="1"/></g><line x1="258.5" y1="0" x2="258.5" y2="400" stroke="#fff" stroke-width="1" stroke-dasharray="2 2" opacity="0.32"/></svg><div class="lay" style="clip-path:polygon(476.7px 248.0px,250.0px 140.0px,150.0px 356.0px)"><i style="height:140px"></i><i style="margin-left:248px;width:8px;background:linear-gradient(90deg,#6bfe48 0px,#7ffc40 8px)"></i><i style="margin-left:247px;width:13px;background:linear-gradient(90deg,#68fe49 0px,#7cfc41 8px,#86fb3f 13px)"></i><i style="margin-left:246px;width:18px;background:linear-gradient(90deg,#65fe4b 0px,#7afd43 8px,#89fb3e 16px,#8cfb3d 18px)"></i><i style="margin-left:245px;width:23px;background:linear-gradient(90deg,#61ff4c 0px,#77fd44 8px,#87fb3e 16px,#93fa3b 23px)"></i><i style="margin-left:244px;width:28px;background:linear-gradient(90deg,#5fff4e 0px,#74fd45 8px,#86fb3f 16px,#93fa3b 24px,#99fa3a 28px)"></i><i style="margin-left:243px;width:34px;background:linear-gradient(90deg,#5eff50 0px,#71fd47 8px,#84fc3f 16px,#92fa3c 24px,#9ef939 32px,#a1f938 34px)"></i><i style="margin-left:242px;width:39px;background:linear-gradient(90deg,#5dff52 0px,#6efe48 8px,#83fc40 16px,#90fa3c 24px,#9df939 32px,#a7f836 39px)"></i><i style="margin-left:241px;width:44px;background:linear-gradient(90deg,#5dff55 0px,#6bfe4a 8px,#81fc41 16px,#8ffb3d 24px,#9cf939 32px,#a8f836 40px,#adf835 44px)"></i><i style="margin-left:240px;width:49px;background:linear-gradient(90deg,#5cff58 0px,#67fe4b 8px,#80fc44 16px,#8efb3e 24px,#9bf93a 32px,#a7f836 40px,#b2f734 48px,#b3f733 49px)"></i><i style="margin-left:239px;width:54px;background:linear-gradient(90deg,#5bff5a 0px,#64ff4d 8px,#7efd47 16px,#8dfb40 24px,#9afa3b 32px,#a6f837 40px,#b1f734 48px,#baf632 54px)"></i><i style="margin-left:238px;width:60px;background:linear-gradient(90deg,#5aff5d 0px,#60ff4f 8px,#7dfd4a 16px,#8dfb42 24px,#9afa3c 32px,#a6f838 40px,#b1f734 48px,#bcf632 56px,#c2f631 60px)"></i><i style="margin-left:237px;width:65px;background:linear-gradient(90deg,#59ff60 0px,#60ff52 8px,#7bfd4e 16px,#8cfb45 24px,#99fa3f 32px,#a5f939 40px,#b1f735 48px,#bcf632 56px,#c7f530 64px,#c8f52f 65px)"></i><i style="margin-left:236px;width:70px;background:linear-gradient(90deg,#58ff64 0px,#5fff55 8px,#7bfe53 16px,#8cfc48 24px,#99fa41 32px,#a5f93b 40px,#b1f736 48px,#bcf633 56px,#c7f531 64px,#cff42f 70px)"></i><i style="margin-left:236px;width:74px;background:linear-gradient(90deg,#58ff65 0px,#60ff56 8px,#7cfe56 16px,#8efc4b 24px,#9bfa43 32px,#a7f93d 40px,#b2f738 48px,#bef634 56px,#c9f532 64px,#d3f42f 72px,#d5f42e 74px)"></i><i style="margin-left:235px;width:79px;background:linear-gradient(90deg,#57ff69 0px,#60ff5a 8px,#79fe58 16px,#8efc4f 24px,#9bfa47 32px,#a7f940 40px,#b3f83a 48px,#bef636 56px,#c9f533 64px,#d4f431 72px,#dcf32e 79px)"></i><i style="margin-left:234px;width:85px;background:linear-gradient(90deg,#55ff6d 0px,#5fff5d 8px,#76fe5a 16px,#8ffc53 24px,#9cfb4b 32px,#a8f943 40px,#b3f83d 48px,#bff638 56px,#caf535 64px,#d4f433 72px,#def330 80px,#e4f22e 85px)"></i><i style="margin-left:233px;width:90px;background:linear-gradient(90deg,#55ff70 0px,#5eff61 8px,#72ff5d 16px,#90fc58 24px,#9cfb4f 32px,#a8f947 40px,#b4f840 48px,#bff73b 56px,#cbf538 64px,#d5f435 72px,#dff332 80px,#e7f22f 88px,#e9f12f 90px)"></i><i style="margin-left:232px;width:95px;background:linear-gradient(90deg,#55ff73 0px,#5eff65 8px,#6fff5f 16px,#90fd5e 24px,#9dfb54 32px,#a9fa4c 40px,#b4f844 48px,#c0f73e 56px,#ccf63b 64px,#d6f438 72px,#e0f335 80px,#e8f232 88px,#ecef30 95px)"></i><i style="margin-left:231px;width:100px;background:linear-gradient(90deg,#55ff76 0px,#5dff69 8px,#6fff63 16px,#90fd64 24px,#9efb59 32px,#aafa50 40px,#b5f848 48px,#c1f742 56px,#ccf63f 64px,#d7f53b 72px,#e1f338 80px,#e9f234 88px,#eeee32 96px,#f0ed31 100px)"></i><i style="margin-left:230px;width:105px;background:linear-gradient(90deg,#56ff7a 0px,#5cff6e 8px,#6fff66 16px,#91fd6b 24px,#a0fc5f 32px,#abfa55 40px,#b7f94d 48px,#c2f746 56px,#cef643 64px,#d8f53f 72px,#e2f43b 80px,#eaf238 88px,#eeee35 96px,#f3eb33 104px,#f3eb32 105px)"></i><i style="margin-left:229px;width:111px;background:linear-gradient(90deg,#56ff7e 0px,#5cff73 8px,#6eff6a 16px,#91fe72 24px,#a1fc65 32px,#adfa5b 40px,#b8f952 48px,#c3f74b 56px,#cff647 64px,#d9f543 72px,#e3f43f 80px,#eaf23c 88px,#efee39 96px,#f4eb36 104px,#f8e834 111px)"></i><i style="margin-left:228px;width:116px;background:linear-gradient(90deg,#57ff82 0px,#5cff77 8px,#6eff6e 16px,#8efe74 24px,#a3fc6b 32px,#aefb61 40px,#b9f957 48px,#c4f850 56px,#d0f64c 64px,#dbf548 72px,#e4f443 80px,#ebf240 88px,#f0ee3d 96px,#f5eb39 104px,#f9e837 112px,#fbe636 116px)"></i><i style="margin-left:227px;width:121px;background:linear-gradient(90deg,#57ff87 0px,#5eff7b 8px,#6eff73 16px,#8bff77 24px,#a5fc72 32px,#b0fb67 40px,#bbf95d 48px,#c6f855 56px,#d1f751 64px,#dcf54d 72px,#e6f448 80px,#ecf244 88px,#f1ee41 96px,#f6eb3e 104px,#fae83c 112px,#fee539 120px,#ffe438 121px)"></i><i style="margin-left:226px;width:126px;background:linear-gradient(90deg,#58ff8c 0px,#5fff80 8px,#6eff78 16px,#88ff7a 24px,#a7fd79 32px,#b2fb6e 40px,#bdfa63 48px,#c7f85b 56px,#d3f757 64px,#ddf652 72px,#e7f44d 80px,#edf249 88px,#f2ee46 96px,#f7eb42 104px,#fbe841 112px,#ffe53e 120px,#ffe03a 126px)"></i><i style="margin-left:225px;width:131px;background:linear-gradient(90deg,#59ff91 0px,#60ff85 8px,#6eff7d 16px,#88ff7d 24px,#a9fd80 32px,#b4fb75 40px,#bffa6a 48px,#c9f861 56px,#d5f75c 64px,#dff658 72px,#e9f553 80px,#eef24f 88px,#f3ee4a 96px,#f8eb47 104px,#fce846 112px,#ffe444 120px,#ffde3e 128px,#ffdb39 131px)"></i><i style="margin-left:224px;width:137px;background:linear-gradient(90deg,#59ff97 0px,#61ff8a 8px,#6dff83 16px,#88ff81 24px,#abfd88 32px,#b6fc7c 40px,#c1fa71 48px,#cbf967 56px,#d6f763 64px,#e1f65e 72px,#eaf559 80px,#f0f255 88px,#f4ee50 96px,#f9eb4d 104px,#fde84c 112px,#ffe44a 120px,#ffdd43 128px,#ffd636 136px,#ffd535 137px)"></i><i style="margin-left:224px;width:141px;background:linear-gradient(90deg,#5bff9c 0px,#64ff8e 8px,#71ff87 16px,#8cff86 24px,#affe8e 32px,#bafc82 40px,#c4fa77 48px,#cef96d 56px,#d9f869 64px,#e3f664 72px,#ecf55f 80px,#f1f15a 88px,#f6ee55 96px,#faeb53 104px,#ffe853 112px,#ffe350 120px,#ffdc48 128px,#ffd43b 136px,#ffcf31 141px)"></i><i style="margin-left:223px;width:146px;background:linear-gradient(90deg,#5bffa2 0px,#66ff94 8px,#73ff8c 16px,#8cff8b 24px,#b1fe96 32px,#bdfc89 40px,#c6fb7e 48px,#d0f974 56px,#dbf870 64px,#e5f76b 72px,#eef565 80px,#f2f261 88px,#f7ee5b 96px,#fbeb59 104px,#ffe85a 112px,#ffe357 120px,#ffdc4d 128px,#ffd441 136px,#ffcb31 144px,#ffc82d 146px)"></i><i style="margin-left:222px;width:151px;background:linear-gradient(90deg,#5cffa9 0px,#68ff9a 8px,#75ff91 16px,#8cff90 24px,#b2fe9d 32px,#bffd91 40px,#c9fb86 48px,#d2fa7b 56px,#ddf877 64px,#e7f772 72px,#eff56c 80px,#f3f267 88px,#f8ee62 96px,#fceb61 104px,#ffe861 112px,#ffe25e 120px,#ffdb54 128px,#ffd447 136px,#ffca38 144px,#ffc128 151px)"></i><i style="margin-left:221px;width:156px;background:linear-gradient(90deg,#5dffb0 0px,#69ffa1 8px,#77ff97 16px,#8cff95 24px,#afffa0 32px,#c2fd99 40px,#cbfb8d 48px,#d4fa83 56px,#dff97e 64px,#e9f779 72px,#f0f674 80px,#f5f26e 88px,#f9ef69 96px,#fdec68 104px,#ffe869 112px,#ffe265 120px,#ffdb5a 128px,#ffd34e 136px,#ffca3e 144px,#ffc02d 152px,#ffba23 156px)"></i><i style="margin-left:220px;width:162px;background:linear-gradient(90deg,#5effb4 0px,#6bffa8 8px,#7aff9d 16px,#8dff9b 24px,#adffa2 32px,#c5fda0 40px,#cefc95 48px,#d6fa8a 56px,#e1f986 64px,#eaf880 72px,#f1f67b 80px,#f6f275 88px,#faef70 96px,#feec70 104px,#ffe871 112px,#ffe26b 120px,#ffdb61 128px,#ffd354 136px,#ffca45 144px,#ffbf34 152px,#ffb320 160px,#ffb01b 162px)"></i><i style="margin-left:219px;width:167px;background:linear-gradient(90deg,#60ffb7 0px,#6cffaf 8px,#7cffa4 16px,#8effa0 24px,#adffa6 32px,#c8fda8 40px,#d0fc9d 48px,#d9fb92 56px,#e3f98d 64px,#ecf888 72px,#f3f683 80px,#f7f37c 88px,#fbef78 96px,#ffed79 104px,#ffe87a 112px,#ffe272 120px,#ffdb68 128px,#ffd35b 136px,#ffca4d 144px,#ffbf3c 152px,#ffb328 160px,#ffa716 167px)"></i><i style="margin-left:218px;width:172px;background:linear-gradient(90deg,#62ffba 0px,#6effb7 8px,#7fffaa 16px,#91ffa6 24px,#adffaa 32px,#cbfeb0 40px,#d3fca5 48px,#dbfb9a 56px,#e5fa95 64px,#eef990 72px,#f4f68a 80px,#f8f383 88px,#fcf080 96px,#ffed82 104px,#ffe881 112px,#ffe279 120px,#ffdb6f 128px,#ffd363 136px,#ffca54 144px,#ffbf44 152px,#ffb331 160px,#ffa61d 168px,#ffa013 172px)"></i><i style="margin-left:217px;width:177px;background:linear-gradient(90deg,#64ffbd 0px,#70ffbc 8px,#81ffb2 16px,#94ffac 24px,#aeffaf 32px,#cefeb8 40px,#d6fdac 48px,#ddfba2 56px,#e7fa9d 64px,#eff997 72px,#f5f792 80px,#f9f38a 88px,#fdf088 96px,#ffed8b 104px,#ffe888 112px,#ffe280 120px,#ffdb76 128px,#ffd36a 136px,#ffca5c 144px,#ffbf4c 152px,#ffb339 160px,#ffa726 168px,#ff9a12 176px,#ff9811 177px)"></i><i style="margin-left:216px;width:182px;background:linear-gradient(90deg,#66ffbf 0px,#73ffc0 8px,#83ffba 16px,#97ffb2 24px,#aeffb3 32px,#d0fec0 40px,#d8fdb4 48px,#e0fca9 56px,#e9faa4 64px,#f1f99f 72px,#f6f79a 80px,#faf392 88px,#fef191 96px,#ffed95 104px,#ffe88f 112px,#ffe287 120px,#ffdb7e 128px,#ffd372 136px,#ffca64 144px,#ffc054 152px,#ffb341 160px,#ffa72e 168px,#ff9a1b 176px,#ff910f 182px)"></i><i style="margin-left:215px;width:188px;background:linear-gradient(90deg,#68ffc2 0px,#75ffc3 8px,#86ffc1 16px,#9affb8 24px,#afffb9 32px,#d1ffc5 40px,#dbfdbb 48px,#e2fcb1 56px,#ebfbac 64px,#f3faa7 72px,#f7f7a1 80px,#fbf49a 88px,#fff29b 96px,#ffee9e 104px,#ffe897 112px,#ffe28f 120px,#ffdb85 128px,#ffd47a 136px,#ffcb6d 144px,#ffbf5b 152px,#ffb449 160px,#ffa736 168px,#ff9b24 176px,#ff8e13 184px,#ff8a0e 188px)"></i><i style="margin-left:214px;width:193px;background:linear-gradient(90deg,#69ffc5 0px,#78ffc6 8px,#88ffc8 16px,#9cffbf 24px,#b1ffbe 32px,#cfffc7 40px,#defdc3 48px,#e4fcb9 56px,#edfbb3 64px,#f4faae 72px,#f8f8a9 80px,#fcf4a2 88px,#fff2a4 96px,#ffeea5 104px,#ffe99e 112px,#ffe396 120px,#ffdc8d 128px,#ffd482 136px,#ffcb74 144px,#ffbf62 152px,#ffb450 160px,#ffa73e 168px,#ff9b2d 176px,#ff8f1c 184px,#ff850e 192px,#ff840e 193px)"></i><i style="margin-left:213px;width:198px;background:linear-gradient(90deg,#6affc8 0px,#7affc9 8px,#8cffcb 16px,#9fffc7 24px,#b4ffc3 32px,#ceffca 40px,#e0feca 48px,#e7fdc0 56px,#effcbb 64px,#f6fbb6 72px,#faf8b1 80px,#fdf5aa 88px,#fff2ad 96px,#ffeeac 104px,#ffe9a5 112px,#ffe39d 120px,#ffdc95 128px,#ffd58a 136px,#ffca7a 144px,#ffbf68 152px,#ffb456 160px,#ffa845 168px,#ff9c35 176px,#ff9125 184px,#ff8514 192px,#ff7f0d 198px)"></i><i style="margin-left:212px;width:203px;background:linear-gradient(90deg,#6bffca 0px,#7dffcc 8px,#8fffce 16px,#a2ffce 24px,#b6ffc9 32px,#cfffce 40px,#e3fed0 48px,#e9fdc7 56px,#f0fcc2 64px,#f7fbbd 72px,#faf8b7 80px,#fef5b3 88px,#fff3b7 96px,#ffeeb2 104px,#ffe9ac 112px,#ffe4a5 120px,#ffdd9c 128px,#ffd590 136px,#ffca7f 144px,#ffbf6e 152px,#ffb45d 160px,#ffa84d 168px,#ff9d3d 176px,#ff922d 184px,#ff861d 192px,#ff7b0e 200px,#ff7a0d 203px)"></i><i style="margin-left:211px;width:208px;background:linear-gradient(90deg,#6dffcd 0px,#7effcf 8px,#92ffd1 16px,#a5ffd5 24px,#baffcf 32px,#cfffd2 40px,#e6fed6 48px,#ebfdce 56px,#f2fcc8 64px,#f8fbc4 72px,#fbf8bd 80px,#fff6bb 88px,#fff3bf 96px,#ffefb9 104px,#ffeab3 112px,#ffe4ad 120px,#ffdea4 128px,#ffd494 136px,#ffca84 144px,#ffbf73 152px,#ffb463 160px,#ffa954 168px,#ff9e44 176px,#ff9335 184px,#ff8825 192px,#ff7d16 200px,#ff760d 208px)"></i><i style="margin-left:211px;width:213px;background:linear-gradient(90deg,#70ffd0 0px,#83ffd2 8px,#97ffd5 16px,#abffd9 24px,#bfffd5 32px,#d3ffd7 40px,#e9fedb 48px,#eefdd3 56px,#f5fcce 64px,#fafbca 72px,#fdf8c2 80px,#fff6c5 88px,#fff3c4 96px,#ffefbf 104px,#ffeaba 112px,#ffe4b3 120px,#ffdca6 128px,#ffd296 136px,#ffc886 144px,#ffbd77 152px,#ffb368 160px,#ffa858 168px,#ff9d49 176px,#ff933a 184px,#ff892b 192px,#ff7e1c 200px,#ff740e 208px,#ff720c 213px)"></i><i style="margin-left:210px;width:218px;background:linear-gradient(90deg,#71ffd2 0px,#84ffd5 8px,#9affd8 16px,#aeffdc 24px,#c2ffdb 32px,#d4ffdb 40px,#ebffe1 48px,#f0fed9 56px,#f6fdd5 64px,#fbfbd0 72px,#fdf9c9 80px,#fff7ce 88px,#fff3cb 96px,#ffefc6 104px,#ffeac1 112px,#ffe5b9 120px,#ffdcaa 128px,#ffd29a 136px,#ffc88b 144px,#ffbd7c 152px,#ffb36d 160px,#ffa95e 168px,#ff9f50 176px,#ff9441 184px,#ff8a33 192px,#ff8125 200px,#ff7717 208px,#ff6f0c 216px,#ff6f0c 218px)"></i><i style="margin-left:209px;width:223px;background:linear-gradient(90deg,#73ffd4 0px,#86ffd7 8px,#9cffdb 16px,#b1ffdf 24px,#c4ffe2 32px,#d6ffdf 40px,#edffe6 48px,#f2fedf 56px,#f7fdda 64px,#fcfcd6 72px,#fef9d1 80px,#fff7d5 88px,#fff4d1 96px,#fff0cd 104px,#ffebc8 112px,#ffe4bc 120px,#ffdbad 128px,#ffd19e 136px,#ffc790 144px,#ffbd81 152px,#ffb373 160px,#ffaa64 168px,#ffa056 176px,#ff9648 184px,#ff8c3a 192px,#ff832c 200px,#ff7a1f 208px,#ff7012 216px,#ff6b0c 223px)"></i><i style="margin-left:208px;width:228px;background:linear-gradient(90deg,#74ffd6 0px,#87ffda 8px,#9dffde 16px,#b4ffe2 24px,#c7ffe6 32px,#d9ffe4 40px,#ecffe9 48px,#f4fee4 56px,#f9fde0 64px,#fcfcdc 72px,#fffad8 80px,#fff8da 88px,#fff4d7 96px,#fff1d3 104px,#ffebcc 112px,#ffe3be 120px,#ffdab0 128px,#ffd1a2 136px,#ffc794 144px,#ffbe86 152px,#ffb478 160px,#ffaa6a 168px,#ffa15c 176px,#ff984f 184px,#ff8f41 192px,#ff8534 200px,#ff7c27 208px,#ff731a 216px,#ff690d 224px,#ff680c 228px)"></i><i style="margin-left:207px;width:233px;background:linear-gradient(90deg,#75ffda 0px,#89ffdc 8px,#9fffe0 16px,#b6ffe4 24px,#caffe9 32px,#dbffe8 40px,#ecffeb 48px,#f5fee9 56px,#fafee5 64px,#fdfce0 72px,#fffae0 80px,#fff8e0 88px,#fff5dd 96px,#fff1d9 104px,#ffeacd 112px,#ffe2c0 120px,#ffd9b3 128px,#ffd0a5 136px,#ffc797 144px,#ffbe8a 152px,#ffb47c 160px,#ffac6f 168px,#ffa362 176px,#ff9a55 184px,#ff9048 192px,#ff873b 200px,#ff7e2e 208px,#ff7522 216px,#fe6c15 224px,#fe650c 232px,#fe650c 233px)"></i><i style="margin-left:206px;width:239px;background:linear-gradient(90deg,#77ffdd 0px,#8bffdf 8px,#a1ffe2 16px,#b8ffe7 24px,#cdffeb 32px,#deffee 40px,#ecffed 48px,#f7feed 56px,#fbfee9 64px,#fefce4 72px,#fffbe7 80px,#fff8e5 88px,#fff6e2 96px,#fff1db 104px,#ffe9cf 112px,#ffe1c2 120px,#ffd9b5 128px,#ffd0a8 136px,#ffc79b 144px,#ffbe8e 152px,#ffb581 160px,#ffad74 168px,#ffa468 176px,#ff9b5b 184px,#ff924f 192px,#ff8942 200px,#fe8036 208px,#fe7729 216px,#fe6e1d 224px,#fe6510 232px,#fe610b 239px)"></i><i style="margin-left:205px;width:244px;background:linear-gradient(90deg,#78ffe0 0px,#8cffe2 8px,#a3ffe4 16px,#baffe9 24px,#cfffed 32px,#e0fff1 40px,#edfff0 48px,#f8fff1 56px,#fcfeee 64px,#fefce8 72px,#fffbec 80px,#fff9ea 88px,#fff6e7 96px,#fff0dc 104px,#ffe8d0 112px,#ffe0c4 120px,#ffd8b7 128px,#ffcfaa 136px,#ffc79e 144px,#ffbf92 152px,#ffb685 160px,#ffae79 168px,#ffa56d 176px,#ff9d61 184px,#ff9455 192px,#fe8b48 200px,#fe823c 208px,#fe7930 216px,#fe7024 224px,#fe6718 232px,#fe5e0c 240px,#fe5d0b 244px)"></i><i style="margin-left:204px;width:249px;background:linear-gradient(90deg,#79ffe3 0px,#8effe5 8px,#a4ffe8 16px,#bbffeb 24px,#d1ffef 32px,#e2fff3 40px,#effff3 48px,#f9fff4 56px,#fdfef1 64px,#fffded 72px,#fffbf0 80px,#fff9ee 88px,#fff5e8 96px,#ffefdd 104px,#ffe7d1 112px,#ffdfc5 120px,#ffd7b9 128px,#ffcfad 136px,#ffc7a1 144px,#ffbf95 152px,#ffb78a 160px,#ffaf7e 168px,#ffa672 176px,#ff9e66 184px,#fe955a 192px,#fe8c4e 200px,#fe8343 208px,#fe7a37 216px,#fe712b 224px,#fe681f 232px,#fe5f13 240px,#fe580b 248px,#fe580b 249px)"></i><i style="margin-left:203px;width:254px;background:linear-gradient(90deg,#7affe6 0px,#8fffe8 8px,#a6ffeb 16px,#bdffee 24px,#d2fff1 32px,#e4fff5 40px,#f0fff7 48px,#fafff7 56px,#fdfef5 64px,#fffdf3 72px,#fffcf3 80px,#fffaf1 88px,#fff4e8 96px,#ffeedd 104px,#ffe6d2 112px,#ffdfc6 120px,#ffd7bb 128px,#ffcfb0 136px,#ffc7a4 144px,#ffbf99 152px,#ffb78e 160px,#ffaf82 168px,#fea777 176px,#fe9e6b 184px,#fe9660 192px,#fe8d54 200px,#fe8449 208px,#fe7b3d 216px,#fe7231 224px,#fe6926 232px,#fd601a 240px,#fd560f 248px,#fd530b 254px)"></i><i style="margin-left:202px;width:259px;background:linear-gradient(90deg,#7bffe9 0px,#91ffeb 8px,#a8ffed 16px,#bffff0 24px,#d4fff3 32px,#e5fff7 40px,#f2fff9 48px,#fbfffa 56px,#fefff7 64px,#fffef7 72px,#fffcf7 80px,#fff9f1 88px,#fff3e7 96px,#ffecdd 104px,#ffe5d2 112px,#ffdec8 120px,#ffd7bd 128px,#ffcfb2 136px,#ffc7a7 144px,#ffbf9c 152px,#ffb791 160px,#feaf86 168px,#fea77b 176px,#fe9e70 184px,#fe9565 192px,#fe8d59 200px,#fe844e 208px,#fe7b43 216px,#fd7238 224px,#fd692c 232px,#fd6021 240px,#fd5616 248px,#fd4d0b 256px,#fd4d0b 259px)"></i><i style="margin-left:201px;width:265px;background:linear-gradient(90deg,#7dfeeb 0px,#92ffed 8px,#a9fff0 16px,#c0fff3 24px,#d5fff5 32px,#e7fff8 40px,#f3fffb 48px,#fbfffb 56px,#fefffa 64px,#fffefa 72px,#fffcf8 80px,#fff8f0 88px,#fff1e7 96px,#ffebdd 104px,#ffe4d3 112px,#ffddc9 120px,#ffd6be 128px,#ffceb4 136px,#ffc7a9 144px,#ffbf9f 152px,#feb794 160px,#feae89 168px,#fea67f 176px,#fe9d74 184px,#fe9569 192px,#fe8c5e 200px,#fe8353 208px,#fd7a48 216px,#fd713d 224px,#fd6832 232px,#fd5f27 240px,#fd561c 248px,#fd4c11 256px,#fc460a 264px,#fc460a 265px)"></i><i style="margin-left:200px;width:270px;background:linear-gradient(90deg,#7efeed 0px,#93feef 8px,#aafff2 16px,#c1fff5 24px,#d6fff7 32px,#e8fffa 40px,#f4fffc 48px,#fcfffd 56px,#fffffc 64px,#fffefc 72px,#fffbf7 80px,#fff6ef 88px,#fff0e6 96px,#ffeadd 104px,#ffe3d3 112px,#ffdcc9 120px,#ffd4bf 128px,#ffcdb5 136px,#fec5ab 144px,#febda1 152px,#feb597 160px,#feac8d 168px,#fea482 176px,#fe9b78 184px,#fe936d 192px,#fd8a63 200px,#fd8158 208px,#fd784e 216px,#fd6f43 224px,#fd6638 232px,#fd5d2d 240px,#fc5423 248px,#fc4b18 256px,#fc420d 264px,#fc3f0a 270px)"></i><i style="margin-left:199px;width:275px;background:linear-gradient(90deg,#7ffdef 0px,#94fef1 8px,#acfef4 16px,#c3fef7 24px,#d8fff9 32px,#e9fffb 40px,#f5fffd 48px,#fdfffe 56px,#fffffd 64px,#fffefc 72px,#fffaf6 80px,#fff4ee 88px,#ffeee5 96px,#ffe8dc 104px,#ffe1d3 112px,#ffd9ca 120px,#fed2c0 128px,#fecab7 136px,#fec2ad 144px,#febaa3 152px,#feb299 160px,#fea98f 168px,#fea185 176px,#fd987b 184px,#fd9071 192px,#fd8767 200px,#fd7e5d 208px,#fd7553 216px,#fd6c49 224px,#fd633f 232px,#fd5a35 240px,#fd512a 248px,#fd4820 256px,#fd3f16 264px,#fd360c 272px,#fd360c 275px)"></i><i style="margin-left:199px;width:279px;background:linear-gradient(90deg,#82fdf1 0px,#98fdf3 8px,#b0fef6 16px,#c7fef8 24px,#dbfefb 32px,#ebfffc 40px,#f7fffe 48px,#feffff 56px,#ffffff 64px,#fffcfa 72px,#fff6f2 80px,#fff0ea 88px,#ffe9e2 96px,#ffe2da 104px,#fedbd1 112px,#fed4c8 120px,#feccc0 128px,#fec4b7 136px,#febcae 144px,#feb4a5 152px,#feac9b 160px,#fea392 168px,#fe9b89 176px,#fe937f 184px,#fe8a76 192px,#fe816c 200px,#fe7962 208px,#fe7058 216px,#fe674f 224px,#fe5e45 232px,#fe553b 240px,#fd4c31 248px,#fd4327 256px,#fd3a1d 264px,#fd3112 272px,#fd2d0e 279px)"></i><i style="margin-left:198px;width:280px;background:linear-gradient(90deg,#82fcf3 0px,#98fdf5 8px,#b0fdf7 16px,#c7fefa 24px,#dbfefc 32px,#ebfffd 40px,#f7fffe 48px,#feffff 56px,#fffcfd 64px,#fff6f7 72px,#ffeff0 80px,#ffe8e8 88px,#ffe0e0 96px,#ffd9d8 104px,#ffd1d0 112px,#ffcac8 120px,#ffc2bf 128px,#ffbab7 136px,#ffb2ae 144px,#ffaaa5 152px,#ffa29c 160px,#ff9a93 168px,#ff918a 176px,#ff8980 184px,#fe8077 192px,#fe776d 200px,#fe6f64 208px,#fe665a 216px,#fe5d50 224px,#fe5447 232px,#fe4b3d 240px,#fe4233 248px,#fe3929 256px,#fe301f 264px,#fe2715 272px,#fe2310 280px)"></i><i style="margin-left:197px;width:275px;background:linear-gradient(90deg,#80fcf4 0px,#96fcf6 8px,#adfdf9 16px,#c4fdfb 24px,#d9fefd 32px,#e9fefe 40px,#f6feff 48px,#fdfeff 56px,#fffcfe 64px,#fff4f9 72px,#ffecf2 80px,#ffe3eb 88px,#ffdbe3 96px,#ffd3d9 104px,#ffcbd0 112px,#ffc3c7 120px,#ffbbbe 128px,#ffb2b5 136px,#ffa9ac 144px,#ffa1a3 152px,#ff989a 160px,#ff8f91 168px,#ff8587 176px,#ff7c7e 184px,#ff7374 192px,#ff6a6b 200px,#ff6061 208px,#ff5757 216px,#ff4d4d 224px,#ff4343 232px,#ff3a39 240px,#ff312f 248px,#ff2825 256px,#ff1f1b 264px,#ff1712 272px,#ff1712 275px)"></i><i style="margin-left:196px;width:270px;background:linear-gradient(90deg,#7efbf6 0px,#93fbf8 8px,#aafbfa 16px,#c1fcfc 24px,#d6fcfd 32px,#e7fcfe 40px,#f4fdff 48px,#fbfdff 56px,#fffbff 64px,#fff3fb 72px,#ffeaf4 80px,#ffe0ed 88px,#ffd8e5 96px,#ffcfdd 104px,#ffc6d5 112px,#ffbdcc 120px,#ffb4c1 128px,#ffacb7 136px,#ffa3ad 144px,#ff9aa3 152px,#ff919a 160px,#ff8890 168px,#ff7f86 176px,#ff767d 184px,#ff6c73 192px,#ff6369 200px,#ff595f 208px,#ff5055 216px,#ff464b 224px,#ff3c41 232px,#ff3337 240px,#ff292d 248px,#ff1f23 256px,#ff1518 264px,#ff1215 270px)"></i><i style="margin-left:195px;width:265px;background:linear-gradient(90deg,#7bf9f7 0px,#90f9f9 8px,#a7f9fb 16px,#bef9fd 24px,#d3fafe 32px,#e5fbff 40px,#f3fcff 48px,#f9faff 56px,#fffaff 64px,#fff2fc 72px,#ffe8f6 80px,#ffdeef 88px,#ffd4e7 96px,#ffcbdf 104px,#ffc1d7 112px,#ffb8ce 120px,#ffafc5 128px,#ffa5bc 136px,#ff9bb3 144px,#ff92a9 152px,#ff899d 160px,#ff8092 168px,#ff7788 176px,#ff6e7d 184px,#ff6573 192px,#ff5b69 200px,#ff525f 208px,#ff4854 216px,#ff3f4a 224px,#ff3540 232px,#ff2b36 240px,#ff212b 248px,#ff1721 256px,#ff1019 264px,#ff1019 265px)"></i><i style="margin-left:194px;width:260px;background:linear-gradient(90deg,#78f6f8 0px,#8cf6fa 8px,#a3f7fc 16px,#bbf7fe 24px,#d1f8ff 32px,#e3f9ff 40px,#f1faff 48px,#f7f8ff 56px,#fef8ff 64px,#fff1fc 72px,#ffe6f7 80px,#ffdcf0 88px,#ffd2e9 96px,#ffc7e1 104px,#ffbdd8 112px,#ffb4d0 120px,#ffaac7 128px,#ffa0be 136px,#ff96b5 144px,#ff8cac 152px,#ff83a2 160px,#ff7999 168px,#ff6e8f 176px,#ff6582 184px,#ff5c76 192px,#ff536b 200px,#ff4a60 208px,#ff4056 216px,#ff364b 224px,#ff2d40 232px,#ff2336 240px,#ff192b 248px,#ff0f20 256px,#ff0e1f 260px)"></i><i style="margin-left:193px;width:255px;background:linear-gradient(90deg,#75f4fa 0px,#89f4fb 8px,#a0f4fd 16px,#b8f5ff 24px,#cef6ff 32px,#e1f7ff 40px,#f0f8ff 48px,#f6f6ff 56px,#fef6ff 64px,#ffeffd 72px,#ffe5f8 80px,#ffdaf2 88px,#ffcfea 96px,#ffc4e2 104px,#ffbada 112px,#ffb0d1 120px,#ffa5c9 128px,#ff9bc0 136px,#ff91b7 144px,#ff87ad 152px,#ff7da4 160px,#ff739a 168px,#ff6991 176px,#ff5e87 184px,#ff547d 192px,#ff4a73 200px,#ff4068 208px,#ff365a 216px,#ff2d4e 224px,#ff2443 232px,#ff1a38 240px,#ff102c 248px,#ff0b26 255px)"></i><i style="margin-left:192px;width:250px;background:linear-gradient(90deg,#72f1fb 0px,#86f1fd 8px,#9df1fe 16px,#b5f2ff 24px,#cbf4ff 32px,#dff5ff 40px,#edf5ff 48px,#f6f3ff 56px,#fef4ff 64px,#ffecfd 72px,#ffe3f9 80px,#ffd7f2 88px,#ffccec 96px,#ffc1e4 104px,#ffb6dc 112px,#ffacd3 120px,#ffa1ca 128px,#ff96c1 136px,#ff8cb8 144px,#ff82af 152px,#ff77a6 160px,#ff6d9c 168px,#ff6392 176px,#ff5889 184px,#ff4e7f 192px,#ff4375 200px,#ff396b 208px,#ff2e61 216px,#ff2457 224px,#ff194c 232px,#ff103e 240px,#ff0731 248px,#ff0731 250px)"></i><i style="margin-left:191px;width:245px;background:linear-gradient(90deg,#6feefc 0px,#83eefe 8px,#9aefff 16px,#b1efff 24px,#c8f1ff 32px,#ddf3ff 40px,#eaf2ff 48px,#f6f1ff 56px,#fdf1ff 64px,#fee9fe 72px,#ffe1f9 80px,#ffd5f3 88px,#ffc9ed 96px,#ffbee5 104px,#ffb3dd 112px,#ffa8d5 120px,#ff9dcc 128px,#ff92c3 136px,#ff87ba 144px,#ff7cb0 152px,#ff72a7 160px,#ff679e 168px,#ff5d94 176px,#ff528a 184px,#ff4880 192px,#ff3d76 200px,#ff326c 208px,#ff2862 216px,#ff1d58 224px,#ff124e 232px,#ff0844 240px,#ff043f 245px)"></i><i style="margin-left:190px;width:240px;background:linear-gradient(90deg,#6debfe 0px,#80ebff 8px,#96ecff 16px,#aeedff 24px,#c6eeff 32px,#dbf0ff 40px,#e8efff 48px,#f6efff 56px,#fdefff 64px,#fee6fe 72px,#ffdefa 80px,#ffd2f4 88px,#ffc6ed 96px,#ffbae6 104px,#ffafdf 112px,#ffa4d6 120px,#ff99cd 128px,#ff8dc5 136px,#ff82bb 144px,#ff77b2 152px,#ff6ca9 160px,#ff619f 168px,#ff5795 176px,#ff4c8c 184px,#ff4182 192px,#ff3778 200px,#ff2c6e 208px,#ff2164 216px,#ff165a 224px,#ff0b4f 232px,#ff0347 240px)"></i><i style="margin-left:189px;width:235px;background:linear-gradient(90deg,#6ae9ff 0px,#7de8ff 8px,#93e8ff 16px,#abeaff 24px,#c3ecff 32px,#d8ecff 40px,#e6ebff 48px,#f5ecff 56px,#fcecff 64px,#fee3ff 72px,#fedafa 80px,#ffd0f5 88px,#ffc3ee 96px,#ffb7e7 104px,#ffabe0 112px,#ffa0d8 120px,#ff94cf 128px,#ff89c6 136px,#ff7ebd 144px,#ff72b4 152px,#ff67aa 160px,#ff5ca1 168px,#ff5197 176px,#ff468d 184px,#ff3b83 192px,#ff3079 200px,#ff256f 208px,#ff1a65 216px,#ff0f5b 224px,#ff0451 232px,#ff024e 235px)"></i><i style="margin-left:188px;width:230px;background:linear-gradient(90deg,#67e6ff 0px,#79e5ff 8px,#90e5ff 16px,#a8e7ff 24px,#c1e8ff 32px,#d5e9ff 40px,#e3e8ff 48px,#f5eaff 56px,#fbe9ff 64px,#fddfff 72px,#fed7fb 80px,#ffcdf5 88px,#ffc0ef 96px,#ffb4e8 104px,#ffa7e0 112px,#ff9cd9 120px,#ff90d0 128px,#ff84c7 136px,#ff79be 144px,#ff6db5 152px,#ff62ac 160px,#ff57a2 168px,#ff4b98 176px,#ff408e 184px,#ff3585 192px,#ff2a7b 200px,#ff1f71 208px,#ff1466 216px,#ff095c 224px,#ff0155 230px)"></i><i style="margin-left:187px;width:225px;background:linear-gradient(90deg,#64e2ff 0px,#76e2ff 8px,#8ce2ff 16px,#a5e4ff 24px,#bee5ff 32px,#d2e5ff 40px,#e1e5ff 48px,#f4e7ff 56px,#fbe5ff 64px,#fddcff 72px,#fed3fb 80px,#ffc9f6 88px,#ffbdf0 96px,#ffb0e9 104px,#ffa3e1 112px,#ff97da 120px,#ff8cd1 128px,#ff80c9 136px,#ff74c0 144px,#ff68b6 152px,#ff5dad 160px,#ff51a3 168px,#ff469a 176px,#ff3a90 184px,#ff2f86 192px,#ff237c 200px,#ff1872 208px,#ff0d68 216px,#ff025e 224px,#ff015d 225px)"></i><i style="margin-left:186px;width:220px;background:linear-gradient(90deg,#62dfff 0px,#73deff 8px,#89dfff 16px,#a2e0ff 24px,#bbe1ff 32px,#cfe1ff 40px,#dfe2ff 48px,#f4e4ff 56px,#fae2ff 64px,#fcd8ff 72px,#fdcefc 80px,#fec5f6 88px,#ffbaf0 96px,#fface9 104px,#ff9fe2 112px,#ff93da 120px,#ff87d2 128px,#ff7bca 136px,#ff6fc1 144px,#ff63b8 152px,#ff57ae 160px,#ff4ca5 168px,#ff409b 176px,#ff3491 184px,#ff2987 192px,#ff1d7d 200px,#ff1273 208px,#ff0669 216px,#ff0064 220px)"></i><i style="margin-left:186px;width:214px;background:linear-gradient(90deg,#61dcff 0px,#73dbff 8px,#89dcff 16px,#a3dcff 24px,#bbdcff 32px,#cfddff 40px,#deddff 48px,#f4e2ff 56px,#fadeff 64px,#fcd3ff 72px,#fdc9fc 80px,#febff6 88px,#ffb5f0 96px,#ffa7e9 104px,#ff9ae2 112px,#ff8dda 120px,#ff81d2 128px,#ff75ca 136px,#ff69c1 144px,#ff5db8 152px,#ff51ae 160px,#ff45a5 168px,#ff399b 176px,#ff2d91 184px,#ff2187 192px,#ff167d 200px,#ff0a73 208px,#ff016c 214px)"></i><i style="margin-left:185px;width:208px;background:linear-gradient(90deg,#5fd9ff 0px,#70d8ff 8px,#86d8ff 16px,#a0d8ff 24px,#b8d8ff 32px,#ccd8ff 40px,#dbd8ff 48px,#f3dfff 56px,#f9daff 64px,#fbd0ff 72px,#fdc4fd 80px,#febaf7 88px,#ffb0f1 96px,#ffa3ea 104px,#ff96e3 112px,#ff88db 120px,#ff7cd3 128px,#ff6fcb 136px,#ff63c2 144px,#ff57b9 152px,#ff4bb0 160px,#ff3fa6 168px,#ff339c 176px,#ff2793 184px,#ff1b89 192px,#ff0f7f 200px,#ff0374 208px)"></i><i style="margin-left:184px;width:203px;background:linear-gradient(90deg,#5cd6ff 0px,#6dd5ff 8px,#84d4ff 16px,#9dd3ff 24px,#b5d4ff 32px,#cad5ff 40px,#dbd4ff 48px,#f2dcff 56px,#f8d6ff 64px,#faccff 72px,#fcbffd 80px,#fdb5f8 88px,#feabf1 96px,#ff9fea 104px,#ff91e3 112px,#ff84dc 120px,#ff77d4 128px,#ff6acb 136px,#ff5ec3 144px,#ff52ba 152px,#ff46b1 160px,#ff39a7 168px,#ff2d9e 176px,#ff2194 184px,#ff158a 192px,#ff0980 200px,#ff057c 203px)"></i><i style="margin-left:183px;width:198px;background:linear-gradient(90deg,#5ad2ff 0px,#6bd1ff 8px,#81cfff 16px,#9acfff 24px,#b2cfff 32px,#c7d1ff 40px,#dad0ff 48px,#f1d8ff 56px,#f7d2ff 64px,#f9c8ff 72px,#fcbafe 80px,#fdb0f8 88px,#fea6f2 96px,#ff9beb 104px,#ff8de4 112px,#ff7fdc 120px,#ff72d4 128px,#ff65cc 136px,#ff58c3 144px,#ff4cbb 152px,#ff40b2 160px,#ff34a8 168px,#ff279f 176px,#ff1b95 184px,#ff0f8b 192px,#ff0684 198px)"></i><i style="margin-left:182px;width:193px;background:linear-gradient(90deg,#57cfff 0px,#68cdff 8px,#7fcbff 16px,#97caff 24px,#afcbff 32px,#c5cdff 40px,#dbcbff 48px,#f0d4ff 56px,#f6ceff 64px,#f9c3ff 72px,#fcb5ff 80px,#fcabf9 88px,#fea0f3 96px,#ff96ec 104px,#ff88e4 112px,#ff7add 120px,#ff6dd5 128px,#ff60cd 136px,#ff53c4 144px,#ff46bc 152px,#ff3ab3 160px,#ff2ea9 168px,#ff21a0 176px,#ff1596 184px,#ff088c 192px,#ff078b 193px)"></i><i style="margin-left:181px;width:188px;background:linear-gradient(90deg,#55ccff 0px,#66c9ff 8px,#7cc6ff 16px,#94c5ff 24px,#adc6ff 32px,#c3caff 40px,#d9c7ff 48px,#efd1ff 56px,#f5c9ff 64px,#f8bfff 72px,#fbb0ff 80px,#fca5fa 88px,#fd9bf3 96px,#fe90ec 104px,#ff84e5 112px,#ff75dd 120px,#ff68d5 128px,#ff5acd 136px,#ff4dc5 144px,#ff40bc 152px,#ff34b3 160px,#ff27aa 168px,#ff1ba1 176px,#ff0e97 184px,#ff0892 188px)"></i><i style="margin-left:180px;width:183px;background:linear-gradient(90deg,#53c9ff 0px,#64c4ff 8px,#7ac2ff 16px,#92c1ff 24px,#aac1ff 32px,#c1c6ff 40px,#d8c3ff 48px,#eecdff 56px,#f4c5ff 64px,#f7bbff 72px,#faacff 80px,#fc9ffb 88px,#fd95f4 96px,#fe8aed 104px,#ff7fe5 112px,#ff70de 120px,#ff62d6 128px,#ff55ce 136px,#ff47c5 144px,#ff3abd 152px,#ff2eb4 160px,#ff21ab 168px,#ff14a2 176px,#ff0a99 183px)"></i><i style="margin-left:179px;width:178px;background:linear-gradient(90deg,#51c5ff 0px,#62c0ff 8px,#77bdff 16px,#8fbcff 24px,#a8bcff 32px,#bcbfff 40px,#d7bfff 48px,#edc9ff 56px,#f3c0ff 64px,#f6b6ff 72px,#f9a7ff 80px,#fb99fc 88px,#fc8ff5 96px,#fd84ee 104px,#ff79e6 112px,#ff6bde 120px,#ff5dd7 128px,#ff4fce 136px,#ff41c6 144px,#ff34bd 152px,#ff27b5 160px,#ff1bac 168px,#ff0ea3 176px,#ff0ba0 178px)"></i><i style="margin-left:178px;width:173px;background:linear-gradient(90deg,#50c1ff 0px,#60bcff 8px,#75b8ff 16px,#8cb7ff 24px,#a5b8ff 32px,#b8baff 40px,#d7baff 48px,#ecc4ff 56px,#f2bbff 64px,#f5b2ff 72px,#f8a2ff 80px,#fb93fc 88px,#fc89f6 96px,#fd7eef 104px,#fe73e7 112px,#ff66df 120px,#ff57d7 128px,#ff49cf 136px,#ff3cc7 144px,#ff2ebe 152px,#ff21b5 160px,#ff14ac 168px,#ff0ca7 173px)"></i><i style="margin-left:177px;width:168px;background:linear-gradient(90deg,#4fbcff 0px,#5eb7ff 8px,#72b3ff 16px,#8ab2ff 24px,#a2b4ff 32px,#b5b4ff 40px,#d6b6ff 48px,#eac0ff 56px,#f1b6ff 64px,#f4adff 72px,#f79eff 80px,#fa8dfd 88px,#fb82f7 96px,#fc77ef 104px,#fe6ce8 112px,#ff60df 120px,#ff52d8 128px,#ff43d0 136px,#ff35c7 144px,#ff28bf 152px,#ff1ab6 160px,#ff0dad 168px)"></i><i style="margin-left:176px;width:163px;background:linear-gradient(90deg,#4db8ff 0px,#5cb3ff 8px,#70afff 16px,#87adff 24px,#a0b0ff 32px,#b2afff 40px,#d5b1ff 48px,#e9bbff 56px,#f0b1ff 64px,#f3a9ff 72px,#f699ff 80px,#fa87fe 88px,#fb7cf7 96px,#fc70f0 104px,#fd65e8 112px,#ff5ae0 120px,#ff4cd8 128px,#ff3dd0 136px,#ff2fc8 144px,#ff21bf 152px,#ff14b6 160px,#ff0fb3 163px)"></i><i style="margin-left:175px;width:158px;background:linear-gradient(90deg,#4cb4ff 0px,#5aaeff 8px,#6eaaff 16px,#85a8ff 24px,#9dacff 32px,#afa9ff 40px,#d4adff 48px,#e8b6ff 56px,#efacff 64px,#f2a4ff 72px,#f594ff 80px,#f980ff 88px,#fa75f8 96px,#fb6af1 104px,#fd5ee9 112px,#fe53e1 120px,#ff46d9 128px,#ff37d1 136px,#ff29c8 144px,#ff1bc0 152px,#ff11b9 158px)"></i><i style="margin-left:174px;width:153px;background:linear-gradient(90deg,#4ab0ff 0px,#58a9ff 8px,#6ca5ff 16px,#83a3ff 24px,#9ba8ff 32px,#ada3ff 40px,#d3a8ff 48px,#e6b1ff 56px,#eea7ff 64px,#f19fff 72px,#f48fff 80px,#f87bff 88px,#fa6ef9 96px,#fb63f2 104px,#fc57ea 112px,#fe4ce2 120px,#ff40d9 128px,#ff31d1 136px,#ff22c9 144px,#ff14c0 152px,#ff13bf 153px)"></i><i style="margin-left:174px;width:147px;background:linear-gradient(90deg,#4aabff 0px,#59a4ff 8px,#6ca0ff 16px,#839eff 24px,#9ca4ff 32px,#b29dff 40px,#d6a4ff 48px,#e6aaff 56px,#eda1ff 64px,#f198ff 72px,#f488ff 80px,#f773ff 88px,#f965f9 96px,#fa5af2 104px,#fc4eea 112px,#fd43e1 120px,#ff38d9 128px,#ff29d0 136px,#ff1ac8 144px,#ff15c5 147px)"></i><i style="margin-left:173px;width:142px;background:linear-gradient(90deg,#49a7ff 0px,#57a0ff 8px,#6a9bff 16px,#819bff 24px,#979dff 32px,#b298ff 40px,#d59fff 48px,#e5a5ff 56px,#ec9cff 64px,#f093ff 72px,#f383ff 80px,#f66eff 88px,#f95efa 96px,#fa53f3 104px,#fb47eb 112px,#fd3be2 120px,#fe30d9 128px,#ff22d1 136px,#ff17cb 142px)"></i><i style="margin-left:172px;width:137px;background:linear-gradient(90deg,#48a3ff 0px,#559cff 8px,#6897ff 16px,#7f97ff 24px,#9297ff 32px,#b392ff 40px,#d39aff 48px,#e3a0ff 56px,#eb97ff 64px,#ef8eff 72px,#f27eff 80px,#f569ff 88px,#f857fb 96px,#f94bf4 104px,#fb3fec 112px,#fc34e3 120px,#fe28da 128px,#ff1bd1 136px,#ff1ad0 137px)"></i><i style="margin-left:171px;width:132px;background:linear-gradient(90deg,#479eff 0px,#5497ff 8px,#6692ff 16px,#7c93ff 24px,#8f91ff 32px,#b08eff 40px,#d296ff 48px,#e29bff 56px,#ea91ff 64px,#ee89ff 72px,#f178ff 80px,#f463ff 88px,#f74ffc 96px,#f943f5 104px,#fa38ed 112px,#fc2ce4 120px,#fd20db 128px,#fe1ad7 132px)"></i><i style="margin-left:170px;width:127px;background:linear-gradient(90deg,#459aff 0px,#5293ff 8px,#648dff 16px,#7a8fff 24px,#8c8bff 32px,#b088ff 40px,#d091ff 48px,#e095ff 56px,#e98cff 64px,#ed84ff 72px,#f073ff 80px,#f35eff 88px,#f748fe 96px,#f83cf6 104px,#f930ed 112px,#fb24e5 120px,#fc1add 127px)"></i><i style="margin-left:169px;width:122px;background:linear-gradient(90deg,#4496ff 0px,#508eff 8px,#6288ff 16px,#788aff 24px,#8885ff 32px,#af83ff 40px,#cf8cff 48px,#df90ff 56px,#e886ff 64px,#ec7eff 72px,#ef6eff 80px,#f259ff 88px,#f640ff 96px,#f734f7 104px,#f928ee 112px,#fa1ce6 120px,#fb19e4 122px)"></i><i style="margin-left:168px;width:117px;background:linear-gradient(90deg,#4393ff 0px,#4f8aff 8px,#6083ff 16px,#7686ff 24px,#857eff 32px,#ae7eff 40px,#ce87ff 48px,#dd8bff 56px,#e781ff 64px,#ea79ff 72px,#ee69ff 80px,#f154ff 88px,#f538ff 96px,#f72cf8 104px,#f81fef 112px,#f918ea 117px)"></i><i style="margin-left:167px;width:112px;background:linear-gradient(90deg,#428fff 0px,#4d85ff 8px,#5e80ff 16px,#7583ff 24px,#8278ff 32px,#ad79ff 40px,#cc82ff 48px,#dc85ff 56px,#e57bff 64px,#e973ff 72px,#ed64ff 80px,#f04fff 88px,#f433ff 96px,#f623f9 104px,#f817f1 112px)"></i><i style="margin-left:166px;width:106px;background:linear-gradient(90deg,#418bff 0px,#4c81ff 8px,#5d7cff 16px,#727eff 24px,#8173ff 32px,#ad74ff 40px,#cb7dff 48px,#da80ff 56px,#e476ff 64px,#e86eff 72px,#ec5fff 80px,#ef4aff 88px,#f32eff 96px,#f51bfa 104px,#f618f8 106px)"></i><i style="margin-left:165px;width:101px;background:linear-gradient(90deg,#4087ff 0px,#4b7dff 8px,#5b78ff 16px,#6d77ff 24px,#816dff 32px,#ac70ff 40px,#c978ff 48px,#d97aff 56px,#e371ff 64px,#e768ff 72px,#ea59ff 80px,#ee44ff 88px,#f229ff 96px,#f417fe 101px)"></i><i style="margin-left:164px;width:96px;background:linear-gradient(90deg,#3f83ff 0px,#4978ff 8px,#5975ff 16px,#6870ff 24px,#8168ff 32px,#ab6bff 40px,#c873ff 48px,#d875ff 56px,#e26bff 64px,#e663ff 72px,#e954ff 80px,#ed3fff 88px,#f024ff 96px)"></i><i style="margin-left:163px;width:91px;background:linear-gradient(90deg,#3e7fff 0px,#4874ff 8px,#5771ff 16px,#656aff 24px,#8162ff 32px,#ab66ff 40px,#c76eff 48px,#d670ff 56px,#e166ff 64px,#e55dff 72px,#e84fff 80px,#ec3aff 88px,#ed31ff 91px)"></i><i style="margin-left:162px;width:86px;background:linear-gradient(90deg,#3d7bff 0px,#4770ff 8px,#556dff 16px,#6265ff 24px,#825dff 32px,#aa61ff 40px,#c56aff 48px,#d56aff 56px,#e060ff 64px,#e458ff 72px,#e74aff 80px,#ea3bff 86px)"></i><i style="margin-left:161px;width:81px;background:linear-gradient(90deg,#3c77ff 0px,#456cff 8px,#5369ff 16px,#605fff 24px,#8258ff 32px,#a95dff 40px,#c465ff 48px,#d365ff 56px,#de5bff 64px,#e252ff 72px,#e645ff 80px,#e742ff 81px)"></i><i style="margin-left:161px;width:75px;background:linear-gradient(90deg,#3c72ff 0px,#4569ff 8px,#5566ff 16px,#6059ff 24px,#8854ff 32px,#ad59ff 40px,#c561ff 48px,#d35fff 56px,#de55ff 64px,#e24cff 72px,#e348ff 75px)"></i><i style="margin-left:160px;width:70px;background:linear-gradient(90deg,#3b6eff 0px,#4465ff 8px,#5261ff 16px,#5d53ff 24px,#874fff 32px,#ad54ff 40px,#c45dff 48px,#d25aff 56px,#dd50ff 64px,#e049ff 70px)"></i><i style="margin-left:159px;width:65px;background:linear-gradient(90deg,#3a6aff 0px,#4262ff 8px,#4e5bff 16px,#5b4eff 24px,#874bff 32px,#ac50ff 40px,#c358ff 48px,#d154ff 56px,#db4bff 64px,#dc49ff 65px)"></i><i style="margin-left:158px;width:60px;background:linear-gradient(90deg,#3966ff 0px,#415fff 8px,#4b55ff 16px,#5b49ff 24px,#8747ff 32px,#ac4bff 40px,#c253ff 48px,#cf4fff 56px,#d54aff 60px)"></i><i style="margin-left:157px;width:55px;background:linear-gradient(90deg,#3863ff 0px,#3f5bff 8px,#484fff 16px,#5c45ff 24px,#8743ff 32px,#ab47ff 40px,#c04fff 48px,#cd4cff 55px)"></i><i style="margin-left:156px;width:50px;background:linear-gradient(90deg,#3760ff 0px,#3e58ff 8px,#464bff 16px,#5d40ff 24px,#873fff 32px,#ab43ff 40px,#bf4bff 48px,#c44dff 50px)"></i><i style="margin-left:155px;width:45px;background:linear-gradient(90deg,#365eff 0px,#3d54ff 8px,#4446ff 16px,#5e3cff 24px,#883bff 32px,#aa3fff 40px,#b743ff 45px)"></i><i style="margin-left:154px;width:40px;background:linear-gradient(90deg,#355bff 0px,#3b51ff 8px,#4342ff 16px,#5f38ff 24px,#8837ff 32px,#aa3bff 40px)"></i><i style="margin-left:153px;width:35px;background:linear-gradient(90deg,#3458ff 0px,#3b4eff 8px,#413eff 16px,#6133ff 24px,#8834ff 32px,#9535ff 35px)"></i><i style="margin-left:152px;width:30px;background:linear-gradient(90deg,#3456ff 0px,#394aff 8px,#403aff 16px,#632fff 24px,#7f30ff 30px)"></i><i style="margin-left:151px;width:25px;background:linear-gradient(90deg,#3353ff 0px,#3645ff 8px,#3f36ff 16px,#612cff 24px,#6c2cff 25px)"></i><i style="margin-left:150px;width:20px;background:linear-gradient(90deg,#3351ff 0px,#3440ff 8px,#3e32ff 16px,#4f2dff 20px)"></i><i style="margin-left:149px;width:15px;background:linear-gradient(90deg,#324eff 0px,#313bff 8px,#3b30ff 15px)"></i><i style="margin-left:149px;width:9px;background:linear-gradient(90deg,#3149ff 0px,#3236ff 8px,#3335ff 9px)"></i></div><svg width="600" height="400" viewBox="0 0 600 400" font-family="'Liberation Serif',serif" font-size="9"><polygon points="161.2,371.1 159.5,371.4 157.8,371.7 156.2,371.7 154.5,371.6 152.8,371.3 151.2,370.8 149.6,370.2 148.0,369.3 147.0,368.8 146.0,368.1 144.9,367.4 143.9,366.7 142.7,365.9 141.6,365.0 140.3,364.0 139.0,362.9 137.6,361.6 136.1,360.2 134.4,358.6 132.7,356.9 131.0,355.0 129.1,352.9 127.2,350.6 125.2,348.0 123.1,345.3 120.8,342.2 118.5,338.9 116.1,335.2 113.5,331.2 110.9,326.9 108.1,322.3 105.1,317.3 102.1,311.8 99.0,306.0 95.8,299.7 92.7,293.0 89.5,285.9 86.4,278.4 83.4,270.4 80.3,262.0 77.2,253.2 74.1,244.0 71.2,234.6 68.3,224.8 65.6,214.9 63.1,204.9 60.8,194.8 58.8,184.7 57.0,174.6 55.4,164.6 54.2,154.8 53.3,145.2 52.7,135.7 52.4,126.4 52.6,117.4 53.1,108.7 54.0,100.4 55.3,92.5 57.1,85.0 59.2,78.1 61.8,71.8 64.8,66.0 68.2,60.9 71.9,56.4 75.9,52.6 80.2,49.6 84.8,47.2 89.6,45.5 94.5,44.3 99.5,43.7 104.7,43.6 110.0,43.9 115.3,44.6 120.7,45.6 126.1,46.8 131.6,48.2 137.0,49.8 142.5,51.5 147.8,53.3 153.1,55.2 158.4,57.1 163.5,59.0 168.6,61.0 173.6,63.1 178.6,65.2 183.5,67.3 188.5,69.5 193.4,71.8 198.2,74.1 203.1,76.4 207.9,78.8 212.8,81.2 217.6,83.7 222.4,86.2 227.2,88.8 232.0,91.4 236.8,94.0 241.5,96.6 246.3,99.3 251.1,102.0 255.8,104.7 260.6,107.4 265.4,110.2 270.1,113.0 274.9,115.8 279.7,118.6 284.4,121.4 289.2,124.2 294.0,127.1 298.7,129.9 303.5,132.8 308.3,135.7 313.0,138.5 317.8,141.4 322.5,144.2 327.2,147.0 331.9,149.7 336.7,152.5 341.4,155.3 346.0,158.1 350.7,160.9 355.4,163.7 360.0,166.4 364.6,169.2 369.2,171.9 373.7,174.6 378.3,177.4 382.8,180.0 387.2,182.7 391.7,185.4 396.1,188.0 400.4,190.6 404.7,193.2 409.0,195.7 413.2,198.2 417.4,200.7 421.5,203.2 425.5,205.6 429.5,208.0 433.4,210.3 437.3,212.6 441.1,214.9 444.8,217.1 448.4,219.3 452.0,221.4 455.4,223.4 458.7,225.4 461.9,227.3 465.0,229.2 468.0,231.0 471.0,232.8 473.9,234.5 476.8,236.2 479.5,237.9 482.2,239.4 484.7,240.9 487.1,242.4 489.4,243.8 491.7,245.1 493.8,246.4 495.9,247.6 497.9,248.8 499.8,250.0 501.6,251.1 503.4,252.1 505.1,253.1 506.6,254.1 508.2,255.0 509.6,255.8 511.0,256.7 512.3,257.5 513.6,258.2 514.8,258.9 516.0,259.6 517.1,260.3 518.1,260.9 519.1,261.5 520.1,262.1 521.0,262.6 521.9,263.2 522.8,263.7 523.7,264.2 524.5,264.7 525.3,265.2 526.0,265.6 526.7,266.1 527.4,266.5 528.1,266.9 528.7,267.3 529.4,267.6 529.9,268.0 530.5,268.3 531.0,268.6 531.5,268.9 532.0,269.2" fill="none" stroke="#eaa648" stroke-width="1"/><g stroke="#ffffff" stroke-width="1" stroke-dasharray="2 2" opacity="0.32"><line x1="0" y1="248.4" x2="600" y2="248.4"/></g><polygon points="476.7,248.0 250.0,140.0 150.0,356.0" fill="none" stroke="#000" stroke-opacity="0.45" stroke-width="1.5"/><g stroke="#222" stroke-opacity="0.6" stroke-width="1" stroke-dasharray="1.5 3.5"><line x1="476.7" y1="248.0" x2="200.0" y2="250.0"/><line x1="250.0" y1="140.0" x2="264.5" y2="316.0"/><line x1="150.0" y1="356.0" x2="332.0" y2="178.0"/></g><polygon points="474.5,247.4 250.8,141.1 154.7,350.3" fill="none" stroke="#fff" stroke-width="1.5" stroke-linejoin="miter"/><circle cx="476.7" cy="248.8" r="3" fill="#e81818" stroke="#901010" stroke-width="1"/><circle cx="250.0" cy="140.8" r="3" fill="#50e030" stroke="#207020" stroke-width="1.2"/><circle cx="150.0" cy="356.0" r="2" fill="#c8c8ff" stroke="#4040c0" stroke-width="1"/><circle cx="200" cy="250" r="2.5" fill="#c8ece4" stroke="#3f6060" stroke-width="1.2"/><circle cx="332" cy="178" r="2.5" fill="#f4f4c8" stroke="#5a5a30" stroke-width="1.2"/><circle cx="264.5" cy="316" r="3" fill="#d020d0" stroke="#701070" stroke-width="1.2"/><polyline points="216.3,282.2 228.0,272.5 241.6,261.9 249.0,256.0 257.6,250.3 265.0,246.0 273.8,241.6 289.0,234.0 305.8,227.2 324.0,220.5 342.8,215.9 358.1,213.4 363.5,213.0" fill="none" stroke="#181818" stroke-width="1.1"/><circle cx="241.6" cy="261.9" r="1.5" fill="#eee" stroke="#333" stroke-width="0.8"/><text x="226.6" y="258.9" font-size="7" fill="#484848">9300</text><circle cx="273.8" cy="241.6" r="1.5" fill="#eee" stroke="#333" stroke-width="0.8"/><text x="258.8" y="238.6" font-size="7" fill="#484848">5500</text><circle cx="305.8" cy="227.2" r="1.5" fill="#eee" stroke="#333" stroke-width="0.8"/><text x="290.8" y="224.2" font-size="7" fill="#484848">4000</text><circle cx="342.8" cy="215.9" r="1.5" fill="#eee" stroke="#333" stroke-width="0.8"/><text x="327.8" y="212.9" font-size="7" fill="#484848">3000</text><circle cx="358.1" cy="213.4" r="1.5" fill="#eee" stroke="#333" stroke-width="0.8"/><text x="343.1" y="210.4" font-size="7" fill="#484848">2700</text><rect x="346.9" y="215.5" width="3" height="3" fill="#30b030" stroke="#206020" stroke-width="0.6"/><text x="347.4" y="226.0" font-size="7.6" fill="#484848">A</text><rect x="281.0" y="237.5" width="3" height="3" fill="#30b030" stroke="#206020" stroke-width="0.6"/><text x="285.5" y="248.0" font-size="7.6" fill="#484848">B</text><rect x="256.1" y="251.5" width="3" height="3" fill="#30b030" stroke="#206020" stroke-width="0.6"/><text x="259.6" y="263.0" font-size="7.6" fill="#484848">C</text><rect x="257.5" y="246.8" width="3" height="3" fill="#30b030" stroke="#206020" stroke-width="0.6"/><text x="243.0" y="250.3" font-size="7.6" fill="#484848">D65</text><ellipse cx="258.5" cy="247.29999999999995" rx="8" ry="4.5" transform="rotate(-18 258.5 247.29999999999995)" fill="none" stroke="#2828d8" stroke-width="1.4"/><rect x="257.5" y="249.0" width="3.4" height="3.4" fill="#f0f020"/><g fill="#c4c6c8" stroke="#9a9c9e" stroke-width="0.8"><line x1="110.0" y1="44.0" x2="122.5" y2="29.0"/><text x="124.0" y="31.0" stroke="none">520 nm</text><line x1="213.0" y1="82.0" x2="225.0" y2="66.5"/><text x="225.5" y="68.0" stroke="none">540 nm</text><line x1="304.0" y1="134.0" x2="317.0" y2="120.0"/><text x="317.5" y="120.5" stroke="none">560 nm</text><line x1="369.0" y1="171.5" x2="381.5" y2="158.0"/><text x="382.0" y="158.5" stroke="none">580 nm</text><line x1="413.5" y1="199.0" x2="426.0" y2="185.0"/><text x="426.5" y="185.5" stroke="none">600 nm</text><line x1="455.5" y1="224.0" x2="468.5" y2="210.5"/><text x="469.0" y="211.0" stroke="none">620 nm</text><line x1="501.4" y1="249.0" x2="513.8" y2="235.5"/><text x="514.0" y="238.0" stroke="none">640 nm</text><line x1="521.3" y1="260.4" x2="533.3" y2="247.4"/><text x="534.0" y="249.5" stroke="none">660 nm</text><line x1="529.8" y1="265.9" x2="541.3" y2="252.9"/><text x="541.5" y="254.5" stroke="none">680 nm</text><line x1="53.0" y1="144.0" x2="41.5" y2="148.0"/><text x="19.0" y="154.5" stroke="none">500 nm</text><line x1="103.7" y1="309.3" x2="90.8" y2="313.7"/><text x="69.0" y="320.5" stroke="none">480 nm</text><line x1="131.9" y1="353.9" x2="120.9" y2="357.4"/><text x="98.7" y="365.4" stroke="none">460 nm</text><line x1="141.4" y1="365.2" x2="130.9" y2="368.4"/><text x="108.0" y="375.9" stroke="none">440 nm</text><line x1="146.9" y1="370.9" x2="136.9" y2="373.7"/><text x="114.0" y="381.4" stroke="none">420 nm</text></g><g font-family="'Liberation Sans',sans-serif" font-size="6" fill="#c0c0c0"><text x="118.3" y="397.8">0.1</text><text x="184.9" y="397.8">0.2</text><text x="251.6" y="397.8">0.3</text><text x="318.3" y="397.8">0.4</text><text x="384.9" y="397.8">0.5</text><text x="451.6" y="397.8">0.6</text><text x="518.3" y="397.8">0.7</text><text x="2" y="337.5">0.1</text><text x="2" y="297.5">0.2</text><text x="2" y="257.5">0.3</text><text x="2" y="217.5">0.4</text><text x="2" y="177.5">0.5</text><text x="2" y="137.5">0.6</text><text x="2" y="97.5">0.7</text><text x="2" y="57.5">0.8</text></g><text x="518" y="373" font-family="'Liberation Sans',sans-serif" font-weight="bold" font-size="8" fill="#4a4e50">hcfr.sourceforge.net</text></svg></div>
<svg class="ch" style="left:601px;top:461px" width="601" height="400" viewBox="0 0 601 400" font-family="'Liberation Serif',serif" font-size="9"><defs><linearGradient id="g4" x1="0" x2="1" y1="0" y2="0"><stop offset="0" stop-color="#1e1e1e"/><stop offset="1" stop-color="#ffffff"/></linearGradient></defs><rect width="600" height="400" fill="url(#g4)"/><rect x="600" width="1" height="400" fill="#fff"/><g fill="#193c3c" fill-opacity="0.8"><rect x="60.25" y="0" width="1" height="400"/><rect x="120.32" y="0" width="1" height="400"/><rect x="180.39" y="0" width="1" height="400"/><rect x="240.46" y="0" width="1" height="400"/><rect x="300.53" y="0" width="1" height="400"/><rect x="360.60" y="0" width="1" height="400"/><rect x="420.67" y="0" width="1" height="400"/><rect x="480.74" y="0" width="1" height="400"/><rect x="540.81" y="0" width="1" height="400"/><rect x="0" y="26.17" width="601" height="1" fill-opacity="0.62"/><rect x="0" y="52.83" width="601" height="1" fill-opacity="0.62"/><rect x="0" y="79.50" width="601" height="1" fill-opacity="0.62"/><rect x="0" y="106.17" width="601" height="1" fill-opacity="0.62"/><rect x="0" y="146.16" width="601" height="1" fill-opacity="0.62"/><rect x="0" y="159.50" width="601" height="1" fill-opacity="0.62"/><rect x="0" y="172.83" width="601" height="1" fill-opacity="0.62"/><rect x="0" y="186.16" width="601" height="1" fill-opacity="0.62"/><rect x="0" y="199.50" width="601" height="1" fill-opacity="0.62"/><rect x="0" y="212.83" width="601" height="1" fill-opacity="0.62"/><rect x="0" y="226.16" width="601" height="1" fill-opacity="0.62"/><rect x="0" y="239.49" width="601" height="1" fill-opacity="0.62"/><rect x="0" y="252.83" width="601" height="1" fill-opacity="0.62"/><rect x="0" y="288.39" width="601" height="1" fill-opacity="0.62"/><rect x="0" y="310.61" width="601" height="1" fill-opacity="0.62"/><rect x="0" y="332.84" width="601" height="1" fill-opacity="0.62"/><rect x="0" y="355.06" width="601" height="1" fill-opacity="0.62"/><rect x="0" y="377.28" width="601" height="1" fill-opacity="0.62"/><rect x="0" y="0" width="600" height="1"/><rect x="0" y="0" width="1" height="400"/></g><rect x="0" y="264.5" width="2" height="3" fill="#fff"/><g fill="#cccccc"><text x="2" y="23.7">7000%</text><text x="2" y="50.3">6500%</text><text x="2" y="77.0">6000%</text><text x="2" y="103.7">5500%</text><text x="2" y="143.7">9%</text><text x="2" y="157.0">8%</text><text x="2" y="170.3">7%</text><text x="2" y="183.7">6%</text><text x="2" y="197.0">5%</text><text x="2" y="210.3">4%</text><text x="2" y="223.7">3%</text><text x="2" y="237.0">2%</text><text x="2" y="250.3">1%</text><text x="2" y="285.9">2.5</text><text x="2" y="308.1">2</text><text x="2" y="330.3">1.5</text><text x="2" y="352.6">1</text><text x="2" y="374.8">0.5</text></g><text x="62.2" y="131.3" fill="#e6e6e6">10% Sat</text><text x="122.3" y="131.3" fill="#cccccc">20% Sat</text><text x="182.3" y="131.3" fill="#b2b2b2">30% Sat</text><text x="242.4" y="131.3" fill="#999999">40% Sat</text><text x="302.5" y="131.3" fill="#808080">50% Sat</text><text x="362.6" y="131.3" fill="#666666">60% Sat</text><text x="422.6" y="131.3" fill="#4d4d4d">70% Sat</text><text x="482.7" y="131.3" fill="#333333">80% Sat</text><text x="542.8" y="131.3" fill="#191919">90% Sat</text><text x="62.2" y="264.5" fill="#e6e6e6">10% Sat</text><text x="122.3" y="264.5" fill="#cccccc">20% Sat</text><text x="182.3" y="264.5" fill="#b2b2b2">30% Sat</text><text x="242.4" y="264.5" fill="#999999">40% Sat</text><text x="302.5" y="264.5" fill="#808080">50% Sat</text><text x="362.6" y="264.5" fill="#666666">60% Sat</text><text x="422.6" y="264.5" fill="#4d4d4d">70% Sat</text><text x="482.7" y="264.5" fill="#333333">80% Sat</text><text x="542.8" y="264.5" fill="#191919">90% Sat</text><text x="62.2" y="397.7" fill="#e6e6e6">10% Sat</text><text x="122.3" y="397.7" fill="#cccccc">20% Sat</text><text x="182.3" y="397.7" fill="#b2b2b2">30% Sat</text><text x="242.4" y="397.7" fill="#999999">40% Sat</text><text x="302.5" y="397.7" fill="#808080">50% Sat</text><text x="362.6" y="397.7" fill="#666666">60% Sat</text><text x="422.6" y="397.7" fill="#4d4d4d">70% Sat</text><text x="482.7" y="397.7" fill="#333333">80% Sat</text><text x="542.8" y="397.7" fill="#191919">90% Sat</text><text x="490" y="358.5" font-family="'Liberation Sans',sans-serif" font-weight="bold" font-size="11" fill="#8a8a8a">hcfr.sourceforge.net</text></svg>
<div class="cap" style="left:1px;top:409px">Grayscale/Grayscale dE</div>
<div class="cap" style="left:601px;top:409px">Correlated Color Temperature/Gamma</div>
<div class="cap" style="left:1px;top:869px">CIE Diagram HDTV Rec709</div>
<div class="cap" style="left:601px;top:869px">Saturation Sweep Luminance/Shifts</div>
</body></html>
